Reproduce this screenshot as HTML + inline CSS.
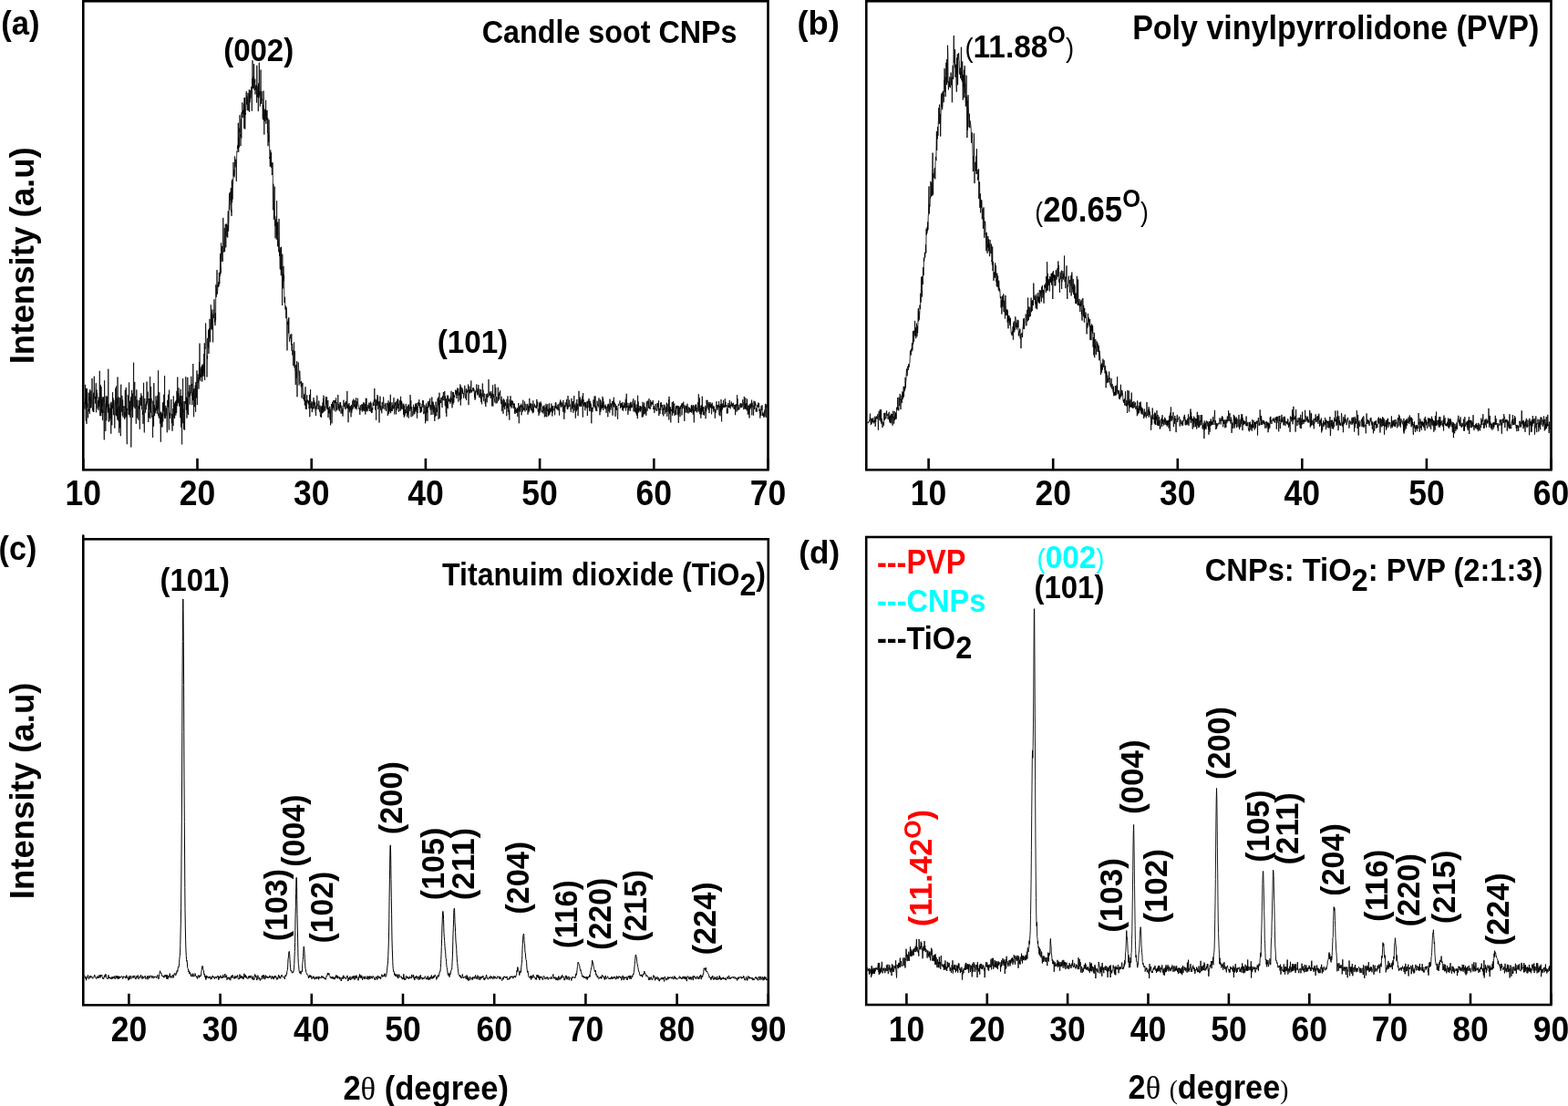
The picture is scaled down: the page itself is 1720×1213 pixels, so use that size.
<!DOCTYPE html><html><head><meta charset="utf-8"><title>XRD patterns</title><style>html,body{margin:0;padding:0;background:#fff;overflow:hidden}svg{display:block}</style></head><body><svg width="1720" height="1213" viewBox="0 0 1720 1213"><rect x="0" y="0" width="1720" height="1213" fill="#fff"/>
<rect x="91.3" y="1.3" width="751.2" height="514.0" fill="none" stroke="#000" stroke-width="2.6"/>
<path d="M91.3 515.3V502.8 M216.5 515.3V502.8 M341.7 515.3V502.8 M466.9 515.3V502.8 M592.1 515.3V502.8 M717.3 515.3V502.8 M842.5 515.3V502.8" stroke="#000" stroke-width="2.6" fill="none"/>
<rect x="950.3" y="1.3" width="751.2" height="514.0" fill="none" stroke="#000" stroke-width="2.6"/>
<path d="M1018.6 515.3V502.8 M1155.2 515.3V502.8 M1291.8 515.3V502.8 M1428.3 515.3V502.8 M1564.9 515.3V502.8 M1701.5 515.3V502.8" stroke="#000" stroke-width="2.6" fill="none"/>
<rect x="91.3" y="591.3" width="751.5" height="511.0" fill="none" stroke="#000" stroke-width="2.6"/>
<path d="M141.4 1102.3V1089.8 M241.6 1102.3V1089.8 M341.8 1102.3V1089.8 M442.0 1102.3V1089.8 M542.2 1102.3V1089.8 M642.4 1102.3V1089.8 M742.6 1102.3V1089.8 M842.8 1102.3V1089.8" stroke="#000" stroke-width="2.6" fill="none"/>
<rect x="950.2" y="589.0" width="751.2" height="513.0" fill="none" stroke="#000" stroke-width="2.6"/>
<path d="M994.4 1102.0V1089.5 M1082.8 1102.0V1089.5 M1171.1 1102.0V1089.5 M1259.5 1102.0V1089.5 M1347.9 1102.0V1089.5 M1436.3 1102.0V1089.5 M1524.6 1102.0V1089.5 M1613.0 1102.0V1089.5 M1701.4 1102.0V1089.5" stroke="#000" stroke-width="2.6" fill="none"/>
<path d="M91.3 591.3V587.6" stroke="#000" stroke-width="2.6" stroke-linecap="round"/>
<path d="M92.8 441.3 93 448.6 93.3 438.7 93.6 421.9 93.8 443.3 94 435.9 94.3 461.6 94.6 426.3 94.8 428.8 95 464.9 95.3 425.9 95.6 447 95.8 430.5 96 442 96.3 442.5 96.6 458.3 96.8 448.9 97 449.6 97.3 451.2 97.6 430.7 97.8 439.5 98 435.4 98.3 453.9 98.6 428.7 98.8 427.1 99 433.6 99.3 434.2 99.6 447.5 99.8 428.7 100 447.2 100.3 443.4 100.6 435.9 100.8 427.9 101 415 101.3 431.2 101.6 446.2 101.8 450.3 102 446.9 102.3 451.7 102.6 430.8 102.8 452 103 444 103.3 412.7 103.6 434.4 103.8 437.2 104 437.5 104.3 434.8 104.6 436.6 104.8 442.7 105 426.6 105.3 420.2 105.6 452.3 105.8 438.2 106 427.3 106.3 436.3 106.6 430.9 106.8 435.6 107 448.2 107.3 439.5 107.6 439.3 107.8 447 108 449.9 108.3 435.7 108.6 446.2 108.8 439.8 109 441.6 109.3 406.8 109.6 444.8 109.8 456 110 447.3 110.3 422.2 110.6 435.2 110.8 456.3 111 424 111.3 439 111.6 452.8 111.8 438 112 445.9 112.3 435.4 112.6 461 112.8 449.4 113 452.8 113.3 445.8 113.6 435.4 113.8 440.2 114 459.4 114.3 482.3 114.6 417.3 114.8 433.2 115 441.3 115.3 442.6 115.6 457.5 115.8 472.9 116 454.9 116.3 434.3 116.6 449.1 116.8 461.3 117 440.3 117.3 446.6 117.6 434.7 117.8 448.8 118 449.6 118.3 452.6 118.6 446.7 118.8 404.7 119 443.1 119.3 462.8 119.6 443.5 119.8 451.7 120 461.8 120.3 448.4 120.6 447.8 120.8 449.4 121 459 121.3 442 121.6 461.5 121.8 475.7 122 440.7 122.3 458.7 122.6 443.9 122.8 466.3 123 448.9 123.3 446 123.6 430.2 123.8 448.1 124 436.3 124.3 440.7 124.6 455.2 124.8 439.5 125 438.8 125.3 453.2 125.6 453.4 125.8 469.6 126 453.1 126.3 442.3 126.6 443.3 126.8 425.7 127 455.2 127.3 443 127.6 423.5 127.8 456.2 128 436.6 128.3 456.2 128.6 448.1 128.8 460.3 129 413.5 129.3 442.5 129.6 435.7 129.8 461.5 130 435.5 130.3 451.5 130.6 474.6 130.8 445.6 131 445.6 131.3 469.4 131.6 436.1 131.8 439.3 132 458.2 132.3 478.2 132.6 427.2 132.8 421.7 133 450.4 133.3 451.9 133.6 445.1 133.8 433.9 134 436.4 134.3 455.8 134.6 438.5 134.8 444.3 135 457.7 135.3 451.2 135.6 448.5 135.8 445.4 136 446.6 136.3 445.8 136.6 459.8 136.8 452 137 458.8 137.3 427.7 137.6 448.2 137.8 446.1 138 457.3 138.3 425 138.6 456.5 138.8 448.5 139 472.5 139.3 487.2 139.6 448.1 139.8 449.9 140 433.2 140.3 434.6 140.6 436.8 140.8 443.5 141 455.1 141.3 454.9 141.6 419.5 141.8 455.2 142 445.4 142.3 452.2 142.6 439.7 142.8 457.7 143 450 143.3 444.6 143.6 435.3 143.8 490.5 144 466.4 144.3 458.1 144.6 427.9 144.8 445.5 145 449.5 145.3 431.6 145.6 458 145.8 441.7 146 435.9 146.3 429.8 146.6 397.7 146.8 443.5 147 446.4 147.3 436.9 147.6 426.1 147.8 418.9 148 448.1 148.3 434.5 148.6 439.3 148.8 448.2 149 449.5 149.3 464.7 149.6 437.6 149.8 427.4 150 434.2 150.3 445.9 150.6 438.7 150.8 458.6 151 445.2 151.3 447.2 151.6 457.6 151.8 460.6 152 446.8 152.3 439.1 152.6 448.5 152.8 444.4 153 449.2 153.3 470.7 153.6 445.8 153.8 436.2 154 442.4 154.3 444.7 154.6 439.2 154.8 431.3 155 444.2 155.3 434.8 155.6 449.3 155.8 434.1 156 436.6 156.3 455.1 156.6 450.1 156.8 452.4 157 464.8 157.3 451.4 157.6 419.8 157.8 455.1 158 461 158.3 474.4 158.6 450.8 158.8 436.9 159 447.7 159.3 449.1 159.6 452.7 159.8 447.7 160 442.9 160.3 449.1 160.6 440.4 160.8 444.8 161 418.6 161.3 442.4 161.6 437.8 161.8 438.7 162 439 162.3 429.6 162.6 458.4 162.8 463 163 452.5 163.3 458.2 163.6 437 163.8 443.3 164 446.5 164.3 449.8 164.6 413 164.8 459.1 165 431.8 165.3 452.7 165.6 424 165.8 442.5 166 437.2 166.3 449.7 166.6 456 166.8 457.6 167 455.6 167.3 456.7 167.6 479.9 167.8 439.6 168 447.8 168.3 454.3 168.6 467.6 168.8 420.1 169 451.7 169.3 444 169.6 456.2 169.8 448.7 170 450.8 170.3 447.4 170.6 453.2 170.8 449.8 171 434.5 171.3 446.8 171.6 445.7 171.8 450.2 172 439.2 172.3 453.9 172.6 443.2 172.8 433.7 173 435.7 173.3 448.5 173.6 406.3 173.8 456.1 174 453.3 174.3 458.5 174.6 433.2 174.8 430.3 175 434.5 175.3 455.4 175.6 464.4 175.8 459.3 176 452.6 176.3 484.7 176.6 451.6 176.8 456.1 177 468.4 177.3 455 177.6 463.9 177.8 453.1 178 468.5 178.3 447.7 178.6 441.6 178.8 462.4 179 452.4 179.3 440.7 179.6 450.8 179.8 432.7 180 442.1 180.3 456.7 180.6 412.1 180.8 459.1 181 455.4 181.3 456.2 181.6 458.6 181.8 444.9 182 455.8 182.3 447.5 182.6 447.3 182.8 452.1 183 460.1 183.3 474.3 183.6 441 183.8 438.8 184 442.4 184.3 446.4 184.6 432.7 184.8 440.9 185 457.3 185.3 471.5 185.6 427.7 185.8 450.3 186 454.6 186.3 453.2 186.6 459 186.8 455.4 187 455.8 187.3 450.6 187.6 450.6 187.8 438 188 453.4 188.3 464.2 188.6 453.9 188.8 455.4 189 472.7 189.3 457.7 189.6 455.2 189.8 448 190 467.1 190.3 434.4 190.6 447.6 190.8 441.6 191 458.2 191.3 443.3 191.6 458.9 191.8 449.6 192 441.7 192.3 453 192.6 440.1 192.8 455.6 193 443 193.3 438.8 193.6 452.9 193.8 448 194 428.8 194.3 445.4 194.6 424 194.8 413.6 195 442.3 195.3 439.6 195.6 431.2 195.8 441.7 196 425.3 196.3 444.4 196.6 442.6 196.8 445.8 197 436.6 197.3 441.8 197.6 433.9 197.8 458.3 198 433.6 198.3 426.8 198.6 468.6 198.8 441.3 199 444.4 199.3 434.2 199.6 487.4 199.8 443.5 200 442.8 200.3 464.2 200.6 415.1 200.8 452.4 201 448.5 201.3 455.2 201.6 470.9 201.8 449.2 202 440 202.3 449 202.6 471.6 202.8 445.2 203 440.1 203.3 440.9 203.6 442.8 203.8 413.2 204 429.3 204.3 449.6 204.6 435.7 204.8 444.9 205 458.6 205.3 436.8 205.6 453.2 205.8 413.9 206 432.1 206.3 435.5 206.6 455.1 206.8 429.5 207 429.4 207.3 435.4 207.6 423.5 207.8 422.3 208 429.5 208.3 443.7 208.6 430.6 208.8 434 209 425.4 209.3 422 209.6 431.2 209.8 412.8 210 421.5 210.3 422.7 210.6 421.2 210.8 444.2 211 431.1 211.3 430.3 211.6 439.1 211.8 399 212 437.3 212.3 427.3 212.6 457.2 212.8 429 213 426 213.3 426.1 213.6 440.7 213.8 446.3 214 427.2 214.3 422.5 214.6 451.8 214.8 419 215 421.5 215.3 435.9 215.6 436.4 215.8 415.6 216 406.3 216.3 444.1 216.6 422.9 216.8 421 217 410.4 217.3 420 217.6 414.5 217.8 416.9 218 426.6 218.3 407.7 218.6 396.9 218.8 416 219 376.6 219.3 415.3 219.6 410.7 219.8 417.8 220 403.9 220.3 410 220.6 413.8 220.8 404.8 221 401.9 221.3 411.5 221.6 400.2 221.8 418.5 222 402.7 222.3 402.2 222.6 413 222.8 399.4 223 410.1 223.3 407.5 223.6 396.3 223.8 388 224 412.7 224.3 376.3 224.6 416.9 224.8 383.3 225 381.3 225.3 382.4 225.6 354.4 225.8 361.6 226 370.2 226.3 374.9 226.6 376.5 226.8 380.1 227 413.5 227.3 390.3 227.6 393.5 227.8 370.8 228 376.9 228.3 381.5 228.6 361.6 228.8 385.6 229 387.9 229.3 378.9 229.6 359.9 229.8 370.7 230 349.9 230.3 358.5 230.6 375.2 230.8 364.9 231 361.7 231.3 334.3 231.6 343 231.8 361 232 342.8 232.3 361.5 232.6 350.1 232.8 340 233 339.4 233.3 355.6 233.6 375.4 233.8 345.8 234 344.6 234.3 349.1 234.6 340.5 234.8 340.9 235 328.3 235.3 337.8 235.6 353.6 235.8 350.2 236 357 236.3 343.2 236.6 351.3 236.8 312.2 237 319.1 237.3 325.7 237.6 314.3 237.8 314.1 238 296.1 238.3 322.7 238.6 319.5 238.8 318.1 239 312 239.3 315 239.6 311 239.8 309 240 314 240.3 298.9 240.6 304.1 240.8 311.6 241 300.8 241.3 303 241.6 278 241.8 300.8 242 293.6 242.3 299.3 242.6 266.4 242.8 283 243 287.1 243.3 279.9 243.6 276.2 243.8 270 244 279.8 244.3 286.7 244.6 258.1 244.8 238.9 245 262.5 245.3 276.5 245.6 276 245.8 273.2 246 263.7 246.3 250 246.6 276.2 246.8 256.8 247 249.8 247.3 245.8 247.6 259.6 247.8 271.4 248 257.4 248.3 245.4 248.6 248.3 248.8 259.6 249 253.4 249.3 246.7 249.6 259.5 249.8 260.6 250 237.3 250.3 231.4 250.6 253.6 250.8 245.7 251 241.9 251.3 225.1 251.6 211.7 251.8 230.3 252 225.9 252.3 224.5 252.6 222.9 252.8 210.4 253 219.9 253.3 206.1 253.6 232.4 253.8 229.8 254 236.9 254.3 198.5 254.6 222.2 254.8 196.6 255 218.7 255.3 202.7 255.6 202.9 255.8 199.2 256 178 256.3 192.8 256.6 187.1 256.8 185.9 257 194.4 257.3 191 257.6 171.5 257.8 180.6 258 183.4 258.3 181.3 258.6 177.5 258.8 174.7 259 182.6 259.3 198.9 259.6 174.8 259.8 166.2 260 166.9 260.3 164.6 260.6 159.3 260.8 159.5 261 162.8 261.3 134.8 261.6 166.9 261.8 166.5 262 150.4 262.3 161.8 262.6 140.6 262.8 145.2 263 126.2 263.3 146.5 263.6 149.6 263.8 147.5 264 160.2 264.3 137.6 264.6 130.4 264.8 151.7 265 123.4 265.3 129.5 265.6 125.7 265.8 112.4 266 116.7 266.3 124.6 266.6 121.2 266.8 128.8 267 129.1 267.3 128.8 267.6 113.7 267.8 140.8 268 107.1 268.3 129 268.6 107 268.8 141.6 269 124 269.3 125.8 269.6 118.7 269.8 112.7 270 102.1 270.3 100.2 270.6 114.5 270.8 105.7 271 113 271.3 121.1 271.6 107.2 271.8 107.2 272 101.9 272.3 121.4 272.6 118.7 272.8 106.4 273 104.1 273.3 98.3 273.6 122.8 273.8 102.9 274 112.3 274.3 107.5 274.6 98.9 274.8 107.8 275 105.9 275.3 102.2 275.6 101.5 275.8 95 276 96.7 276.3 121.7 276.6 86 276.8 94.6 277 66.2 277.3 97.2 277.6 94 277.8 83.9 278 94.4 278.3 96.5 278.6 70 278.8 87.9 279 98.8 279.3 89.1 279.6 90.3 279.8 86.6 280 103.5 280.3 95.3 280.6 98.2 280.8 94 281 93 281.3 96.5 281.6 112.7 281.8 71.8 282 93.8 282.3 104.8 282.6 106.7 282.8 99.2 283 94.4 283.3 122.1 283.6 91.2 283.8 104.3 284 107.1 284.3 68.7 284.6 91.6 284.8 104.9 285 99.9 285.3 116.7 285.6 111.1 285.8 110.2 286 76.5 286.3 104.9 286.6 112.8 286.8 114 287 100.2 287.3 108.6 287.6 110.1 287.8 108.7 288 119.4 288.3 130.4 288.6 115.5 288.8 131.5 289 99.6 289.3 110.5 289.6 125.8 289.8 147.6 290 125.4 290.3 133 290.6 120.4 290.8 131.3 291 119.6 291.3 126.3 291.6 109.8 291.8 135.7 292 121.2 292.3 128.3 292.6 131.6 292.8 128.5 293 120.8 293.3 135.4 293.6 145.8 293.8 129.5 294 160.2 294.3 146.2 294.6 156 294.8 137.4 295 131.4 295.3 143.2 295.6 156.7 295.8 174.1 296 172.1 296.3 182.9 296.6 168.5 296.8 164.5 297 182 297.3 181.4 297.6 167.3 297.8 184 298 178.6 298.3 191.9 298.6 190.4 298.8 191.3 299 178.2 299.3 195.4 299.6 230.3 299.8 201.6 300 203.3 300.3 240.7 300.6 233.2 300.8 229.5 301 212.9 301.3 204.7 301.6 247.9 301.8 237.1 302 261.2 302.3 242.9 302.6 240.6 302.8 246.4 303 245.4 303.3 262.7 303.6 220.2 303.8 258.1 304 244.6 304.3 263.7 304.6 270.3 304.8 243.4 305 260 305.3 262.8 305.6 269.5 305.8 276.3 306 239.9 306.3 257.1 306.6 280.9 306.8 273.9 307 290.7 307.3 295.4 307.6 286.2 307.8 271.4 308 290.3 308.3 302.2 308.6 270.7 308.8 296.2 309 292.5 309.3 299.8 309.6 335 309.8 278.7 310 297.9 310.3 316.4 310.6 299.7 310.8 307 311 291.9 311.3 308.2 311.6 301.9 311.8 324.9 312 332.2 312.3 327.6 312.6 325.7 312.8 338 313 339.5 313.3 338.4 313.6 335.5 313.8 349.1 314 337 314.3 339.9 314.6 345.6 314.8 369.8 315 384.4 315.3 354.1 315.6 355.8 315.8 352.3 316 355.3 316.3 349.5 316.6 365.4 316.8 348.1 317 368.2 317.3 370.3 317.6 374.6 317.8 370.3 318 369.8 318.3 370.8 318.6 369 318.8 366.8 319 369.7 319.3 373.5 319.6 378.4 319.8 366.1 320 384.7 320.3 382.2 320.6 377 320.8 389.5 321 388 321.3 384.1 321.6 401.1 321.8 399.9 322 387.9 322.3 377.7 322.6 375.4 322.8 395.7 323 403.3 323.3 384.9 323.6 406.2 323.8 406 324 417.1 324.3 422.1 324.6 412.1 324.8 400.1 325 414.6 325.3 406.6 325.6 396 325.8 424.8 326 435.3 326.3 408.7 326.6 408.8 326.8 408.3 327 397.6 327.3 397.3 327.6 403.3 327.8 413.4 328 422.5 328.3 421.7 328.6 406.7 328.8 406.8 329 408.9 329.3 419.2 329.6 420.4 329.8 419.7 330 419 330.3 424.4 330.6 418 330.8 420.2 331 436.6 331.3 420.9 331.6 423.2 331.8 421.1 332 419.9 332.3 427.1 332.6 428.2 332.8 438 333 437.4 333.3 435.5 333.6 433.5 333.8 439.8 334 431.9 334.3 444.6 334.6 438.8 334.8 435.7 335 424.3 335.3 448.7 335.6 439.4 335.8 441.8 336 448.3 336.3 449.1 336.6 436.3 336.8 433.3 337 441.7 337.3 438.7 337.6 440.1 337.8 439.1 338 440.7 338.3 443.5 338.6 439.7 338.8 442.4 339 448.2 339.3 445.7 339.6 432.9 339.8 457.2 340 438.6 340.3 440.1 340.6 427.2 340.8 442.3 341 447.9 341.3 442 341.6 447.1 341.8 443.1 342 440.2 342.3 452.1 342.6 446.9 342.8 449.4 343 443.3 343.3 441.3 343.6 448.1 343.8 444.2 344 436.1 344.3 444.1 344.6 439.2 344.8 442.7 345 448.4 345.3 441.4 345.6 445.7 345.8 447.6 346 451.1 346.3 454.9 346.6 456 346.8 445.4 347 449.2 347.3 440.4 347.6 446.3 347.8 433.7 348 442.4 348.3 442.7 348.6 445.2 348.8 445.5 349 449.1 349.3 449.1 349.6 448 349.8 439.6 350 448.3 350.3 449 350.6 451.6 350.8 449.5 351 444.5 351.3 454.7 351.6 457.2 351.8 454.3 352 446 352.3 446.4 352.6 457.9 352.8 448.8 353 445.2 353.3 453.3 353.6 445.2 353.8 450.5 354 441.5 354.3 452.6 354.6 437.3 354.8 449.3 355 433.6 355.3 451.5 355.6 448.4 355.8 447.7 356 447.1 356.3 445.5 356.6 448 356.8 450.6 357 446.1 357.3 435.2 357.6 443.4 357.8 438.5 358 445.2 358.3 447.4 358.6 435.4 358.8 443.2 359 449.2 359.3 446.9 359.6 448.8 359.8 439 360 457.9 360.3 447.1 360.6 453.1 360.8 450.5 361 451.1 361.3 453.4 361.6 445.7 361.8 446 362 460.3 362.3 449.3 362.6 466.3 362.8 455.3 363 447.3 363.3 446.6 363.6 443.1 363.8 445 364 464.3 364.3 451 364.6 440.8 364.8 449.7 365 443.5 365.3 447.3 365.6 447.1 365.8 439.3 366 440.4 366.3 439.5 366.6 450.3 366.8 439.2 367 440.8 367.3 439.1 367.6 441.6 367.8 442 368 440.3 368.3 451.5 368.6 436.4 368.8 442.6 369 441 369.3 450 369.6 447.6 369.8 447.4 370 442.8 370.3 442.9 370.6 443.3 370.8 433 371 449.5 371.3 443.1 371.6 448.2 371.8 445.7 372 446.2 372.3 451.2 372.6 443.7 372.8 443.2 373 441.2 373.3 447.4 373.6 441.1 373.8 446.3 374 453.5 374.3 449.3 374.6 448.5 374.8 444.7 375 446.8 375.3 453.9 375.6 449 375.8 448.4 376 456.6 376.3 452.3 376.6 446.9 376.8 439.2 377 438.7 377.3 443.6 377.6 445.9 377.8 443.4 378 442.4 378.3 447.7 378.6 446.1 378.8 441.6 379 449.2 379.3 441.4 379.6 440.1 379.8 442.8 380 441.2 380.3 444.6 380.6 447.7 380.8 428.9 381 444.9 381.3 445.7 381.6 448.2 381.8 443.4 382 463.2 382.3 444.1 382.6 448.7 382.8 444.5 383 442.2 383.3 452.2 383.6 448.1 383.8 445.7 384 449.2 384.3 445.2 384.6 451.1 384.8 451.5 385 457.4 385.3 451.4 385.6 443.9 385.8 452.7 386 448.6 386.3 449.4 386.6 445 386.8 439.4 387 444.8 387.3 448.4 387.6 439.4 387.8 437.6 388 438.9 388.3 441 388.6 446.3 388.8 438.9 389 440.8 389.3 439.7 389.6 448.4 389.8 444.5 390 447.7 390.3 438.5 390.6 436.4 390.8 447.1 391 443 391.3 449.3 391.6 440.3 391.8 445.7 392 442 392.3 436.7 392.6 440.4 392.8 442.8 393 443.8 393.3 445.5 393.6 448 393.8 448.9 394 447.8 394.3 447.4 394.6 451.1 394.8 454.9 395 447 395.3 444.4 395.6 447.4 395.8 450.1 396 450.1 396.3 444.2 396.6 443.6 396.8 445.2 397 447.3 397.3 451.6 397.6 443.3 397.8 448.9 398 446.9 398.3 450 398.6 441.4 398.8 447.4 399 451.1 399.3 448.9 399.6 445.3 399.8 441.7 400 450.8 400.3 443.3 400.6 444.6 400.8 454.5 401 448.5 401.3 436.7 401.6 443.9 401.8 451.2 402 437 402.3 445.3 402.6 449.9 402.8 446.2 403 451.3 403.3 445.7 403.6 445.2 403.8 444 404 444.5 404.3 448.2 404.6 444.1 404.8 441.6 405 446.1 405.3 450.9 405.6 444.7 405.8 447.1 406 441.9 406.3 443.7 406.6 440.5 406.8 451.5 407 442.1 407.3 445.8 407.6 452.9 407.8 448.1 408 452.8 408.3 447.6 408.6 447.2 408.8 449.5 409 444 409.3 440.8 409.6 445 409.8 442.8 410 444.9 410.3 438.5 410.6 440.9 410.8 426 411 437.1 411.3 438.8 411.6 449.5 411.8 445.6 412 437.7 412.3 440.2 412.6 460.7 412.8 445.6 413 438.7 413.3 441.4 413.6 441.2 413.8 445.1 414 433 414.3 443.5 414.6 434.9 414.8 448.9 415 445.9 415.3 443.1 415.6 442.8 415.8 440.4 416 463.5 416.3 440.1 416.6 447 416.8 443.9 417 434.6 417.3 449.5 417.6 449.4 417.8 445 418 445.5 418.3 450.8 418.6 448.7 418.8 453.3 419 443.2 419.3 440.9 419.6 444.6 419.8 448.5 420 446.5 420.3 447.8 420.6 435.4 420.8 438.1 421 445.3 421.3 444.8 421.6 444.9 421.8 444.4 422 449.4 422.3 446.4 422.6 442.3 422.8 442 423 442.7 423.3 445.7 423.6 450.9 423.8 449 424 444.6 424.3 443.6 424.6 441.9 424.8 443.1 425 442.6 425.3 456 425.6 442.9 425.8 446.8 426 439.4 426.3 443.6 426.6 454.1 426.8 451.5 427 441.8 427.3 450.3 427.6 441.1 427.8 451.4 428 447.3 428.3 432.8 428.6 453.1 428.8 449 429 448.2 429.3 450.9 429.6 445.7 429.8 444.3 430 441.3 430.3 451 430.6 444.2 430.8 446.6 431 446.1 431.3 448.5 431.6 445.8 431.8 442 432 436.2 432.3 447.3 432.6 444.4 432.8 454.5 433 446.1 433.3 441.6 433.6 444.2 433.8 441.6 434 448.3 434.3 449.9 434.6 454.3 434.8 440 435 450 435.3 447.3 435.6 447.6 435.8 445.3 436 437.8 436.3 447.9 436.6 437.5 436.8 445.2 437 442.7 437.3 451.7 437.6 447 437.8 443.3 438 442.1 438.3 438.8 438.6 444.2 438.8 444.7 439 451 439.3 445 439.6 434.8 439.8 449.5 440 441 440.3 448.4 440.6 439.7 440.8 443.3 441 442.3 441.3 442.8 441.6 444.5 441.8 448.9 442 445.7 442.3 444.3 442.6 455 442.8 442.7 443 449.3 443.3 457.7 443.6 444.7 443.8 450.8 444 456.3 444.3 452 444.6 454.1 444.8 449.2 445 452.8 445.3 442.9 445.6 451.1 445.8 451.3 446 453 446.3 451.3 446.6 457.2 446.8 445.7 447 449.4 447.3 454.5 447.6 444.3 447.8 454.1 448 457.5 448.3 458.5 448.6 444.4 448.8 443.5 449 447.4 449.3 446.7 449.6 450.8 449.8 450.1 450 433.1 450.3 442.1 450.6 448.4 450.8 439.3 451 457.3 451.3 447 451.6 447.9 451.8 446.2 452 450.9 452.3 451.4 452.6 452.3 452.8 456.4 453 451 453.3 451.4 453.6 443.8 453.8 447.6 454 454.5 454.3 448.7 454.6 446.4 454.8 454 455 448.8 455.3 446.9 455.6 450.6 455.8 442.6 456 451.7 456.3 443.7 456.6 447.7 456.8 449.5 457 441.9 457.3 457.1 457.6 458.7 457.8 445.8 458 453.1 458.3 443.4 458.6 442.1 458.8 442.7 459 440.9 459.3 445.1 459.6 440.4 459.8 438.2 460 446.2 460.3 447.3 460.6 448 460.8 441.8 461 452.8 461.3 446.1 461.6 452.2 461.8 446 462 447.8 462.3 446.7 462.6 451.5 462.8 443.4 463 444 463.3 443.9 463.6 439.2 463.8 446.8 464 445.6 464.3 439.2 464.6 441.3 464.8 454.2 465 451.7 465.3 453.1 465.6 449.4 465.8 444.1 466 450.7 466.3 451.5 466.6 464.3 466.8 454.3 467 445.8 467.3 461.7 467.6 442.5 467.8 451 468 452.9 468.3 445.9 468.6 452.3 468.8 449.2 469 461.8 469.3 440.4 469.6 447.8 469.8 442.8 470 442.4 470.3 444.8 470.6 445.2 470.8 439.6 471 446.6 471.3 441.8 471.6 438.8 471.8 436.8 472 449.6 472.3 444 472.6 444.5 472.8 447.1 473 455.1 473.3 448.5 473.6 444.3 473.8 435.5 474 449.4 474.3 440.6 474.6 445.4 474.8 448.1 475 454.7 475.3 440.8 475.6 448.8 475.8 452.1 476 444.4 476.3 444.4 476.6 449.7 476.8 461.8 477 446.7 477.3 454 477.6 457.1 477.8 451 478 440.6 478.3 445.4 478.6 450.6 478.8 456 479 447.9 479.3 452 479.6 443.6 479.8 443.1 480 437.3 480.3 439.7 480.6 444.1 480.8 435.5 481 459.9 481.3 436.9 481.6 447.5 481.8 438.9 482 430.7 482.3 458.7 482.6 439.1 482.8 440.3 483 439.1 483.3 438.9 483.6 442.1 483.8 436.7 484 437.9 484.3 435.9 484.6 435.8 484.8 444.3 485 447 485.3 437.2 485.6 434.3 485.8 439.1 486 438.9 486.3 430 486.6 430.9 486.8 436.3 487 439.3 487.3 437.4 487.6 435.1 487.8 429 488 440 488.3 445.3 488.6 434.4 488.8 438.3 489 443.9 489.3 453.1 489.6 437.3 489.8 456.9 490 440.1 490.3 443.6 490.6 447.2 490.8 433.5 491 441.1 491.3 448.2 491.6 433.8 491.8 438.6 492 438 492.3 439.5 492.6 439.1 492.8 440.5 493 437 493.3 439.8 493.6 439.1 493.8 442.8 494 438.9 494.3 435.3 494.6 441.1 494.8 433.6 495 428.8 495.3 438.5 495.6 437.4 495.8 441.1 496 447.3 496.3 437.9 496.6 442 496.8 430 497 443.5 497.3 430.2 497.6 433.6 497.8 441.5 498 434.2 498.3 433.4 498.6 436 498.8 433.3 499 433 499.3 432.8 499.6 427.7 499.8 427.6 500 432.4 500.3 432.2 500.6 428.6 500.8 437.1 501 430.2 501.3 427.6 501.6 433.6 501.8 425.4 502 430.8 502.3 426.1 502.6 428 502.8 440.6 503 432.5 503.3 430.5 503.6 433.4 503.8 432.6 504 433.1 504.3 425.7 504.6 439.1 504.8 421.5 505 432.9 505.3 444.6 505.6 423.5 505.8 432.9 506 437.6 506.3 429.5 506.6 430 506.8 425 507 430.7 507.3 431.8 507.6 426.8 507.8 430.8 508 431.8 508.3 431 508.6 436.6 508.8 432.9 509 433.3 509.3 429.2 509.6 429.7 509.8 422.8 510 432.8 510.3 434.9 510.6 437.1 510.8 434.2 511 430.9 511.3 426.1 511.6 439 511.8 434 512 428.3 512.3 427.7 512.6 430.5 512.8 428.5 513 429.9 513.3 426.8 513.6 421.6 513.8 428.7 514 444.2 514.3 430.2 514.6 427.6 514.8 428.8 515 423.6 515.3 431.4 515.6 428.3 515.8 431 516 427.1 516.3 429.4 516.6 424.8 516.8 417.5 517 426.8 517.3 430.6 517.6 428.1 517.8 429.3 518 429.4 518.3 427.1 518.6 425.9 518.8 425.5 519 428.3 519.3 425.1 519.6 427.9 519.8 429.2 520 426.8 520.3 431.2 520.6 435.8 520.8 430.8 521 438.6 521.3 428.7 521.6 437.5 521.8 429.1 522 430.5 522.3 429 522.6 422.9 522.8 421.5 523 429.7 523.3 429.6 523.6 428.4 523.8 433.4 524 426.2 524.3 432.5 524.6 429.5 524.8 422.1 525 431.8 525.3 434 525.6 435.8 525.8 435 526 426.7 526.3 428.2 526.6 434.1 526.8 431.8 527 436.7 527.3 427 527.6 440.3 527.8 440.9 528 431.6 528.3 438.3 528.6 443.3 528.8 433.1 529 430.1 529.3 420.5 529.6 429 529.8 435.2 530 427.7 530.3 435.1 530.6 439.4 530.8 440.2 531 431.8 531.3 432.4 531.6 431.8 531.8 437.6 532 439.1 532.3 443.1 532.6 437.5 532.8 446.1 533 439.3 533.3 432.3 533.6 436.6 533.8 438.2 534 441.1 534.3 441.3 534.6 431.6 534.8 434.9 535 435.5 535.3 434.2 535.6 435.5 535.8 435.3 536 416.1 536.3 434.1 536.6 433.5 536.8 432.6 537 429.6 537.3 433.8 537.6 431 537.8 431.3 538 433.5 538.3 437.1 538.6 433.2 538.8 429 539 435.4 539.3 431.6 539.6 445.4 539.8 437.5 540 438.3 540.3 435.1 540.6 422.3 540.8 445.6 541 433.2 541.3 432.2 541.6 435.8 541.8 434.6 542 436.5 542.3 437.5 542.6 439.3 542.8 441.3 543 421.3 543.3 434.5 543.6 433.2 543.8 425.2 544 442.5 544.3 437.9 544.6 435 544.8 439.7 545 441.3 545.3 442.2 545.6 439.7 545.8 436.4 546 436.9 546.3 424.8 546.6 439.8 546.8 432.3 547 437.9 547.3 438 547.6 435.6 547.8 430.5 548 430.2 548.3 433.6 548.6 428.2 548.8 434.9 549 438.8 549.3 438.4 549.6 440.3 549.8 443.1 550 434.7 550.3 441.4 550.6 451.1 550.8 443.6 551 438.6 551.3 440 551.6 445.9 551.8 447.8 552 453.8 552.3 437.3 552.6 446.6 552.8 445 553 444 553.3 438.6 553.6 448.3 553.8 449.1 554 442.7 554.3 445.1 554.6 441.1 554.8 443.8 555 442.8 555.3 443.6 555.6 448.6 555.8 456.3 556 437.8 556.3 442.9 556.6 447.3 556.8 447.8 557 434.4 557.3 451.7 557.6 446.1 557.8 442.3 558 447.9 558.3 454.7 558.6 450.1 558.8 460.6 559 440.1 559.3 438.2 559.6 445.5 559.8 439.5 560 434.2 560.3 445.8 560.6 439.9 560.8 440.1 561 447.2 561.3 447.8 561.6 438.9 561.8 443.2 562 444.1 562.3 442.9 562.6 439.9 562.8 444.9 563 446.4 563.3 447.7 563.6 444.8 563.8 442.1 564 448.3 564.3 442.9 564.6 453.3 564.8 449.1 565 454 565.3 452.4 565.6 446.7 565.8 447.9 566 451.5 566.3 450 566.6 448.7 566.8 452.8 567 449.3 567.3 452.7 567.6 447.2 567.8 457 568 448.5 568.3 451.3 568.6 448.3 568.8 442 569 446.5 569.3 464.3 569.6 446.3 569.8 446.5 570 449.2 570.3 445.2 570.6 451.4 570.8 444.5 571 446.7 571.3 444.8 571.6 446 571.8 442.7 572 455.3 572.3 450.6 572.6 445 572.8 444.5 573 449.4 573.3 451.7 573.6 442.7 573.8 438.7 574 444.6 574.3 450 574.6 447.5 574.8 447.1 575 449.6 575.3 444.6 575.6 440.4 575.8 449.7 576 451.5 576.3 447.3 576.6 446.4 576.8 443.6 577 442.9 577.3 446.3 577.6 450.1 577.8 447.8 578 448.1 578.3 446.4 578.6 444.1 578.8 442.8 579 454.7 579.3 444.7 579.6 449.4 579.8 448.3 580 452.3 580.3 446.1 580.6 450.5 580.8 436.9 581 446 581.3 447.5 581.6 442.8 581.8 443.8 582 447.3 582.3 449.9 582.6 442.1 582.8 446.8 583 447.2 583.3 448.8 583.6 451.1 583.8 451.3 584 443.1 584.3 453.2 584.6 448.2 584.8 439.3 585 445.5 585.3 452.4 585.6 446.1 585.8 445.7 586 445 586.3 442.8 586.6 446.4 586.8 444.5 587 446.6 587.3 446.8 587.6 445.9 587.8 445.7 588 447.8 588.3 444.7 588.6 448 588.8 437.9 589 444.3 589.3 445.7 589.6 440.7 589.8 440.5 590 450.2 590.3 451.9 590.6 451.7 590.8 448.3 591 455.8 591.3 446.6 591.6 441.5 591.8 448.5 592 453.3 592.3 443.5 592.6 442.5 592.8 450.5 593 440.4 593.3 443.5 593.6 445.5 593.8 442.5 594 451.3 594.3 452.2 594.6 452 594.8 450.1 595 452.2 595.3 446.3 595.6 447.7 595.8 445.3 596 453.6 596.3 448.8 596.6 446.1 596.8 450.6 597 444.4 597.3 457.4 597.6 454.4 597.8 449.6 598 446.8 598.3 447 598.6 448.6 598.8 456.8 599 442.8 599.3 448.4 599.6 445.4 599.8 457.4 600 448.4 600.3 450.2 600.6 450.7 600.8 443.2 601 446.8 601.3 451 601.6 456.3 601.8 448.8 602 453.9 602.3 451.8 602.6 442.3 602.8 455.2 603 447.7 603.3 449.2 603.6 452.6 603.8 447.8 604 448.1 604.3 447.9 604.6 451.4 604.8 442.6 605 443.1 605.3 449.9 605.6 445.5 605.8 456.5 606 449 606.3 452.6 606.6 445 606.8 450.6 607 450 607.3 448.7 607.6 449.2 607.8 449.4 608 448.4 608.3 445.2 608.6 455.3 608.8 448.3 609 447 609.3 441.5 609.6 447.4 609.8 441.4 610 445.7 610.3 447.2 610.6 445.7 610.8 448.5 611 447.1 611.3 449.3 611.6 445.5 611.8 443.8 612 446.1 612.3 450.2 612.6 448.7 612.8 443.2 613 446 613.3 447.7 613.6 455.6 613.8 447.5 614 441.3 614.3 444.2 614.6 441.2 614.8 438.5 615 445.1 615.3 446.5 615.6 440.6 615.8 444.7 616 446.3 616.3 445.8 616.6 443 616.8 441.6 617 442.3 617.3 445.6 617.6 451.7 617.8 438.9 618 440.1 618.3 447.3 618.6 445.4 618.8 459.8 619 444.8 619.3 444.1 619.6 451.5 619.8 452.6 620 443.4 620.3 441.3 620.6 443 620.8 446.4 621 445.6 621.3 444.7 621.6 437.9 621.8 444 622 442.7 622.3 448.8 622.6 444.2 622.8 449 623 434.1 623.3 446.7 623.6 446.9 623.8 445.2 624 445.4 624.3 444.5 624.6 438.6 624.8 441.7 625 446.1 625.3 443.6 625.6 444.4 625.8 448.4 626 447.8 626.3 452.1 626.6 447.9 626.8 446.6 627 436.9 627.3 442.4 627.6 448.3 627.8 441.9 628 447 628.3 440 628.6 450.3 628.8 452.7 629 445.5 629.3 446.3 629.6 437.3 629.8 434 630 450.5 630.3 448.2 630.6 443.6 630.8 446.4 631 445.4 631.3 458.7 631.6 447.7 631.8 448 632 441.8 632.3 451.1 632.6 444.4 632.8 438 633 444 633.3 449.2 633.6 443.1 633.8 444.9 634 456.2 634.3 451.6 634.6 445.9 634.8 441.1 635 428.8 635.3 444.4 635.6 437.4 635.8 446 636 442.1 636.3 435.5 636.6 445.2 636.8 445.2 637 439.5 637.3 446 637.6 441.8 637.8 445.2 638 437.7 638.3 442.5 638.6 437.9 638.8 434.5 639 440.9 639.3 457.6 639.6 431.1 639.8 440 640 438.1 640.3 439.9 640.6 445.4 640.8 442.8 641 441.5 641.3 443.4 641.6 441.2 641.8 450.2 642 441 642.3 446.2 642.6 441.9 642.8 446.9 643 447.3 643.3 447.6 643.6 447.1 643.8 444.3 644 439.9 644.3 456 644.6 449.4 644.8 440.7 645 447.2 645.3 438.9 645.6 439.7 645.8 441.7 646 437 646.3 439.3 646.6 450.9 646.8 442.2 647 445.9 647.3 439.8 647.6 447.6 647.8 442.2 648 451.1 648.3 443.4 648.6 447.3 648.8 464.3 649 450.6 649.3 451.4 649.6 447 649.8 451.8 650 451.1 650.3 446.7 650.6 447.9 650.8 446.7 651 438.4 651.3 446 651.6 438.9 651.8 442 652 434.5 652.3 435.3 652.6 442.7 652.8 447.4 653 434.4 653.3 449.4 653.6 450.5 653.8 445.3 654 446.2 654.3 448 654.6 449.8 654.8 451.1 655 439.7 655.3 441.9 655.6 444.7 655.8 443.6 656 444.6 656.3 446.4 656.6 446 656.8 437.3 657 436.4 657.3 447.4 657.6 448.8 657.8 449.1 658 455.3 658.3 438 658.6 446.5 658.8 451.9 659 439.4 659.3 443.9 659.6 449.5 659.8 444.3 660 447.7 660.3 447.5 660.6 441.8 660.8 446.6 661 434.9 661.3 447.6 661.6 437.1 661.8 450 662 440.2 662.3 445.6 662.6 446.3 662.8 446.4 663 444.9 663.3 447.2 663.6 448.1 663.8 448 664 443.6 664.3 448.7 664.6 445.3 664.8 446.8 665 452.8 665.3 450.2 665.6 448.2 665.8 446.8 666 445.9 666.3 447.4 666.6 443.5 666.8 457.3 667 445.9 667.3 446.3 667.6 442.8 667.8 451 668 447.7 668.3 448.4 668.6 444.5 668.8 452.7 669 437.7 669.3 443.5 669.6 442.7 669.8 445.9 670 449.5 670.3 442.5 670.6 446.7 670.8 444.5 671 444.2 671.3 444.4 671.6 440 671.8 443.3 672 455.7 672.3 446.6 672.6 443.1 672.8 439.6 673 443.6 673.3 435.7 673.6 446.5 673.8 441.3 674 444 674.3 441.8 674.6 442.9 674.8 448 675 456.8 675.3 443.5 675.6 447.5 675.8 449.4 676 446.8 676.3 445 676.6 449.8 676.8 447.6 677 449.8 677.3 455.9 677.6 459.7 677.8 451.3 678 445.2 678.3 443.3 678.6 444.2 678.8 445 679 444.1 679.3 442.3 679.6 441 679.8 440.6 680 439.4 680.3 441.6 680.6 447.9 680.8 442 681 442.3 681.3 445.2 681.6 446.6 681.8 442.2 682 446.1 682.3 442.6 682.6 449.7 682.8 440.9 683 446.1 683.3 445.1 683.6 450.6 683.8 445.6 684 446.7 684.3 444 684.6 447.7 684.8 441.6 685 443.2 685.3 442.7 685.6 447.2 685.8 446.9 686 443.4 686.3 437.8 686.6 450.4 686.8 437.1 687 434.5 687.3 431.8 687.6 447.2 687.8 443.1 688 441.8 688.3 446.1 688.6 445.3 688.8 454.8 689 452.9 689.3 445.5 689.6 446.8 689.8 450.3 690 442 690.3 447.8 690.6 446.4 690.8 444.6 691 445.9 691.3 450.8 691.6 441.2 691.8 447.5 692 440.8 692.3 445.2 692.6 445.8 692.8 447.3 693 443.5 693.3 446.5 693.6 444.1 693.8 441.2 694 441.1 694.3 439.5 694.6 441.6 694.8 437.2 695 451.3 695.3 441.9 695.6 446.3 695.8 442.7 696 447.8 696.3 451.6 696.6 439.1 696.8 451.5 697 446.9 697.3 449.4 697.6 451.3 697.8 453.7 698 443.4 698.3 447.9 698.6 455.8 698.8 447.5 699 447.9 699.3 459.1 699.6 433.8 699.8 450.4 700 440.4 700.3 442.2 700.6 452.5 700.8 450.4 701 448.4 701.3 450.4 701.6 447 701.8 446.7 702 445 702.3 451.6 702.6 445.2 702.8 450.7 703 449.8 703.3 447.1 703.6 448.4 703.8 445.9 704 453.3 704.3 457.7 704.6 450.6 704.8 448.3 705 440.8 705.3 457.1 705.6 456.7 705.8 444.5 706 446.4 706.3 454.5 706.6 441.7 706.8 443.9 707 453.3 707.3 454.1 707.6 446 707.8 446.5 708 449.3 708.3 452.9 708.6 448.2 708.8 455.8 709 451 709.3 440.3 709.6 446.4 709.8 446.9 710 450.8 710.3 445.8 710.6 439.7 710.8 439.3 711 441.6 711.3 441 711.6 447.6 711.8 439.1 712 437.1 712.3 447.3 712.6 446 712.8 448.5 713 447.4 713.3 448.6 713.6 438.8 713.8 440.2 714 441.5 714.3 445.7 714.6 440.9 714.8 443.1 715 441.8 715.3 443.1 715.6 441.2 715.8 443.7 716 440.3 716.3 439 716.6 445.2 716.8 449.1 717 447.7 717.3 448.7 717.6 445.3 717.8 452.9 718 448.6 718.3 447.6 718.6 449 718.8 447.9 719 443 719.3 448.1 719.6 448.8 719.8 450.3 720 449.8 720.3 450.9 720.6 447.4 720.8 447.3 721 441.9 721.3 446.5 721.6 442.5 721.8 447.8 722 449.4 722.3 450.4 722.6 439.4 722.8 456 723 449.6 723.3 449.3 723.6 448 723.8 449 724 454 724.3 446.5 724.6 442.4 724.8 449.8 725 441 725.3 441.2 725.6 445.5 725.8 444.5 726 446.7 726.3 443.9 726.6 448.7 726.8 451.7 727 454.5 727.3 447.6 727.6 450.6 727.8 456.4 728 444 728.3 443.6 728.6 448.9 728.8 449.7 729 444.3 729.3 450.7 729.6 454.1 729.8 449.7 730 449.4 730.3 447.2 730.6 446.5 730.8 452.2 731 445.4 731.3 441.6 731.6 449.8 731.8 456.7 732 442.8 732.3 446.8 732.6 447.6 732.8 451.4 733 451.2 733.3 449.5 733.6 438.2 733.8 460.5 734 434.9 734.3 446.1 734.6 454 734.8 446.5 735 451.8 735.3 446.5 735.6 448.6 735.8 463.4 736 449 736.3 449 736.6 450.4 736.8 450.9 737 448.8 737.3 441 737.6 455.7 737.8 446.2 738 452.4 738.3 447.9 738.6 440 738.8 453.3 739 448.9 739.3 445.4 739.6 445.2 739.8 442.5 740 455.9 740.3 453.9 740.6 450 740.8 454.6 741 451.1 741.3 446.3 741.6 454.8 741.8 445 742 446.4 742.3 448.1 742.6 444.8 742.8 445.6 743 446 743.3 455.2 743.6 448.7 743.8 444.9 744 451 744.3 463.9 744.6 445.7 744.8 449.8 745 454.1 745.3 449.9 745.6 446.8 745.8 449.7 746 457.1 746.3 445.2 746.6 448.4 746.8 448.3 747 446.3 747.3 444.2 747.6 445.9 747.8 442.5 748 455.4 748.3 450.4 748.6 443.9 748.8 442.1 749 448 749.3 444.2 749.6 441.7 749.8 440.6 750 445.4 750.3 444 750.6 451.5 750.8 461.9 751 445.1 751.3 446.1 751.6 452.4 751.8 450.7 752 452.4 752.3 444.6 752.6 448.5 752.8 448.4 753 447.4 753.3 451.2 753.6 445.5 753.8 452.8 754 442.7 754.3 450.2 754.6 451.1 754.8 452.3 755 453.5 755.3 452.1 755.6 446.5 755.8 447.3 756 448.6 756.3 452.4 756.6 447.2 756.8 448.4 757 448.7 757.3 450.5 757.6 451.9 757.8 448.6 758 451.8 758.3 444.9 758.6 452.6 758.8 443.9 759 451.1 759.3 445.6 759.6 447.8 759.8 448.7 760 453 760.3 454.7 760.6 444 760.8 451.9 761 449.6 761.3 463.4 761.6 451.2 761.8 449.1 762 445.3 762.3 451.1 762.6 445.7 762.8 443.9 763 448.5 763.3 443.6 763.6 447.8 763.8 451.4 764 446.9 764.3 449.9 764.6 452.4 764.8 452.4 765 444.4 765.3 444 765.6 441.3 765.8 444.5 766 450.8 766.3 432.3 766.6 444.5 766.8 451.8 767 451.2 767.3 436.4 767.6 448.7 767.8 454.2 768 447.5 768.3 447.7 768.6 451.4 768.8 458.7 769 444.8 769.3 454.7 769.6 444.5 769.8 451.5 770 449.5 770.3 434.7 770.6 451.3 770.8 446.4 771 449.6 771.3 454.9 771.6 446.2 771.8 447.9 772 446.7 772.3 455.6 772.6 452.5 772.8 453.4 773 450.9 773.3 450.7 773.6 447.8 773.8 444.9 774 459.2 774.3 456 774.6 447 774.8 451.1 775 438.8 775.3 442.7 775.6 441.9 775.8 447.8 776 438.8 776.3 443.1 776.6 445 776.8 446.3 777 448.9 777.3 449.7 777.6 441.3 777.8 452.1 778 453 778.3 450.4 778.6 442.7 778.8 445.5 779 441 779.3 447.1 779.6 444 779.8 444.2 780 447.4 780.3 443 780.6 454.3 780.8 448.1 781 441.7 781.3 441.8 781.6 446 781.8 448 782 446.3 782.3 448.6 782.6 444.9 782.8 451.8 783 445.7 783.3 446.2 783.6 450 783.8 448.9 784 450.1 784.3 458.8 784.6 452.2 784.8 448.9 785 452.9 785.3 446.3 785.6 443.3 785.8 442.5 786 440.2 786.3 447.2 786.6 448.3 786.8 444.2 787 449.9 787.3 445.8 787.6 444.2 787.8 445.1 788 444.5 788.3 446.9 788.6 440.1 788.8 450.3 789 455.3 789.3 446 789.6 444.9 789.8 445.3 790 456.4 790.3 443 790.6 451.6 790.8 449.5 791 438.1 791.3 447.1 791.6 462.4 791.8 443.5 792 449.6 792.3 442.5 792.6 448.3 792.8 446.2 793 446 793.3 446.9 793.6 438.9 793.8 446.1 794 444.3 794.3 446.9 794.6 444.7 794.8 444.9 795 446.7 795.3 437.2 795.6 446.3 795.8 440.7 796 440.9 796.3 445.5 796.6 444 796.8 446.1 797 444.4 797.3 453.6 797.6 448.5 797.8 449.7 798 448.9 798.3 453.3 798.6 444.1 798.8 442.1 799 447 799.3 444.6 799.6 447 799.8 445.3 800 443.2 800.3 438.9 800.6 447.1 800.8 443.3 801 448.4 801.3 444.7 801.6 445.3 801.8 445 802 443.3 802.3 440.6 802.6 445.4 802.8 442.6 803 442.5 803.3 446.7 803.6 445.8 803.8 442.7 804 445.1 804.3 441.8 804.6 443.5 804.8 445.4 805 448.5 805.3 444.6 805.6 444 805.8 449 806 449.1 806.3 444 806.6 455.2 806.8 449 807 445.5 807.3 443 807.6 447.3 807.8 451.2 808 451.7 808.3 447.5 808.6 433.2 808.8 444.8 809 437.3 809.3 450.2 809.6 447 809.8 444.4 810 444 810.3 445.6 810.6 449.4 810.8 448 811 448.6 811.3 446.7 811.6 445.8 811.8 442.7 812 443.6 812.3 447.2 812.6 444.5 812.8 442.2 813 446.2 813.3 444.5 813.6 444.7 813.8 447.2 814 442.7 814.3 445.3 814.6 438.8 814.8 438.2 815 440.4 815.3 441.6 815.6 441.6 815.8 449.1 816 447.3 816.3 434.9 816.6 444.4 816.8 448.5 817 448.3 817.3 442.8 817.6 448.3 817.8 436.3 818 448 818.3 442.3 818.6 447.1 818.8 449.1 819 447.5 819.3 450.4 819.6 437.6 819.8 443.8 820 443.8 820.3 454.6 820.6 444.7 820.8 446 821 446.7 821.3 450.3 821.6 454.5 821.8 444.7 822 458.5 822.3 443.9 822.6 442.9 822.8 449.1 823 445 823.3 444.8 823.6 447.3 823.8 442.4 824 445 824.3 445.7 824.6 438.6 824.8 455.4 825 441.6 825.3 444 825.6 445.5 825.8 446.4 826 445.1 826.3 450.7 826.6 455.6 826.8 446.4 827 439.7 827.3 444.8 827.6 448.9 827.8 444.6 828 440.2 828.3 440.5 828.6 445.1 828.8 442.3 829 449.9 829.3 451.6 829.6 447.6 829.8 448 830 448 830.3 451.7 830.6 447.4 830.8 444 831 446.2 831.3 446.5 831.6 441.7 831.8 443.5 832 446.5 832.3 446.4 832.6 441.9 832.8 450.9 833 449.1 833.3 452.5 833.6 451.8 833.8 458.6 834 448.6 834.3 454.8 834.6 455.1 834.8 455.8 835 445.3 835.3 448.2 835.6 447.7 835.8 450 836 444.3 836.3 456 836.6 452.8 836.8 454 837 452.5 837.3 453.9 837.6 456.9 837.8 454.1 838 457.9 838.3 452 838.6 452.8 838.8 449.6 839 456.5 839.3 445.3 839.6 442.8 839.8 449.3 840 449.1 840.3 458 840.6 444.7 840.8 446.3 841 443.3 841.3 447.2" fill="none" stroke="#000" stroke-width="0.8" stroke-linejoin="round"/>
<path d="M951.8 463 952.1 464.1 952.3 463.8 952.6 464 952.9 462.2 953.1 462 953.4 462.5 953.7 460.2 954 459.9 954.2 457.5 954.5 453.6 954.8 461.3 955 460.5 955.3 466 955.6 458.6 955.8 463.6 956.1 462.4 956.4 464.5 956.7 459.3 956.9 460.3 957.2 459.9 957.5 463.1 957.7 458.2 958 460.4 958.3 463.4 958.5 464.4 958.8 462.1 959.1 460.9 959.4 463.1 959.6 458.3 959.9 456.6 960.2 467.8 960.4 459.1 960.7 462.6 961 457.7 961.2 458.9 961.5 456.6 961.8 459.2 962.1 457.9 962.3 459.4 962.6 458.4 962.9 454.2 963.1 460.7 963.4 471.7 963.7 462.7 963.9 455.3 964.2 450.9 964.5 457.3 964.8 456.3 965 460.9 965.3 449 965.6 459.7 965.8 458.1 966.1 462.5 966.4 458.1 966.6 449.2 966.9 464.7 967.2 460 967.5 459.1 967.7 464.9 968 469 968.3 466.1 968.5 462.7 968.8 463.2 969.1 463.8 969.3 466.8 969.6 464.7 969.9 453.2 970.2 460.8 970.4 453.3 970.7 455.4 971 452.7 971.2 457 971.5 459.3 971.8 458.4 972 458.9 972.3 455.8 972.6 450.5 972.9 456 973.1 454.4 973.4 454.2 973.7 454.5 973.9 456.8 974.2 459.9 974.5 453.9 974.7 453.8 975 453.8 975.3 451.8 975.6 461.5 975.8 457.2 976.1 463.2 976.4 455.7 976.6 464.1 976.9 460.5 977.2 458.4 977.4 453.6 977.7 459.2 978 464.3 978.3 454.2 978.5 455.4 978.8 463.4 979.1 466.7 979.3 462.4 979.6 450.7 979.9 456.4 980.1 458.5 980.4 457.2 980.7 464.6 981 455.7 981.2 451 981.5 461 981.8 459.2 982 459.9 982.3 452.3 982.6 458.4 982.8 453.4 983.1 459.6 983.4 453.1 983.7 446.7 983.9 449.2 984.2 448.5 984.5 447.5 984.7 436 985 449.9 985.3 446.9 985.5 447.6 985.8 450.4 986.1 435.7 986.4 445.1 986.6 445 986.9 444.7 987.2 431.9 987.4 438.8 987.7 437.5 988 449 988.2 441.3 988.5 437.6 988.8 436.6 989.1 433.5 989.3 442.1 989.6 436 989.9 429.4 990.1 432.9 990.4 437.7 990.7 430.2 990.9 435.5 991.2 423.8 991.5 435.2 991.8 424.6 992 425.2 992.3 429.1 992.6 424.4 992.8 426.9 993.1 414 993.4 425.2 993.6 419 993.9 417.2 994.2 409.3 994.5 404.5 994.7 407.9 995 412.4 995.3 410.9 995.5 404.6 995.8 401.6 996.1 403.8 996.3 405.8 996.6 399.7 996.9 399 997.2 402.7 997.4 399.8 997.7 398.5 998 397.3 998.2 392.4 998.5 384.4 998.8 388.8 999 386.7 999.3 389.5 999.6 382.6 999.9 385.7 1000.1 384.9 1000.4 376.3 1000.7 379.2 1000.9 384.3 1001.2 376 1001.5 362.9 1001.7 377.7 1002 368.3 1002.3 368.9 1002.6 374.6 1002.8 362.6 1003.1 367.7 1003.4 367.7 1003.6 351.9 1003.9 367.6 1004.2 368.8 1004.4 359.3 1004.7 371.2 1005 363.1 1005.3 360.8 1005.5 354.6 1005.8 369.2 1006.1 367.6 1006.3 357.4 1006.6 365.2 1006.9 357.7 1007.1 341.1 1007.4 338.1 1007.7 352.3 1008 341.5 1008.2 350.6 1008.5 346.8 1008.8 343.8 1009 334.5 1009.3 339.1 1009.6 338.5 1009.8 321.7 1010.1 331.6 1010.4 316.5 1010.7 303.7 1010.9 320.6 1011.2 318.2 1011.5 325.5 1011.7 302.9 1012 307.7 1012.3 312 1012.5 293.1 1012.8 294 1013.1 302.2 1013.4 282.7 1013.6 286.9 1013.9 284.8 1014.2 281.6 1014.4 277.1 1014.7 282.4 1015 276.8 1015.2 277.7 1015.5 268.2 1015.8 277.3 1016.1 250.8 1016.3 257.6 1016.6 253.7 1016.9 255.7 1017.1 248.8 1017.4 253.4 1017.7 243.4 1017.9 252.1 1018.2 237.8 1018.5 233.9 1018.8 214.2 1019 204.4 1019.3 234.6 1019.6 224 1019.8 226.9 1020.1 224.2 1020.4 215.9 1020.6 217.3 1020.9 198.8 1021.2 204.2 1021.5 215.6 1021.7 200.4 1022 205.3 1022.3 214.9 1022.5 188.4 1022.8 185.2 1023.1 167.6 1023.3 198.1 1023.6 213.7 1023.9 190.5 1024.2 195.2 1024.4 191.3 1024.7 189 1025 185.3 1025.2 185.9 1025.5 183.9 1025.8 196.3 1026 177.5 1026.3 176.2 1026.6 171.9 1026.9 176.1 1027.1 158.7 1027.4 144 1027.7 164.9 1027.9 147 1028.2 152.3 1028.5 139.2 1028.7 143.8 1029 148.8 1029.3 133.7 1029.6 131.3 1029.8 118.4 1030.1 136 1030.4 117.1 1030.6 114.6 1030.9 121.2 1031.2 135.1 1031.4 125.1 1031.7 149.6 1032 128.3 1032.3 113.3 1032.5 103.3 1032.8 117.4 1033.1 105.3 1033.3 101.7 1033.6 120.3 1033.9 116.9 1034.1 114.6 1034.4 99.8 1034.7 105.4 1035 103.9 1035.2 112.2 1035.5 87.4 1035.8 86.3 1036 75.1 1036.3 76.5 1036.6 101 1036.8 84.7 1037.1 106.1 1037.4 83.3 1037.7 82.6 1037.9 68.7 1038.2 85.7 1038.5 93 1038.7 65 1039 90.5 1039.3 69.1 1039.5 49.7 1039.8 57.8 1040.1 93.3 1040.4 98.4 1040.6 94.3 1040.9 88.9 1041.2 91.8 1041.4 95.2 1041.7 84.3 1042 84.8 1042.2 96.2 1042.5 96.2 1042.8 90.9 1043.1 79.6 1043.3 87.3 1043.6 89.7 1043.9 93.3 1044.1 84.8 1044.4 112.3 1044.7 86.4 1044.9 80.8 1045.2 71.8 1045.5 86.6 1045.8 86.9 1046 58.2 1046.3 39 1046.6 68.8 1046.8 64.1 1047.1 65.2 1047.4 74.3 1047.6 54.1 1047.9 84.3 1048.2 83.5 1048.5 84.7 1048.7 70.8 1049 91.6 1049.3 100.7 1049.5 63.4 1049.8 80.7 1050.1 80.3 1050.3 59.2 1050.6 93.2 1050.9 66.5 1051.2 63.3 1051.4 61.4 1051.7 58.2 1052 66.1 1052.2 66.6 1052.5 80.7 1052.8 80.6 1053 81.8 1053.3 74.4 1053.6 85.9 1053.9 79.3 1054.1 81.9 1054.4 51.7 1054.7 76.2 1054.9 88.1 1055.2 78.5 1055.5 90 1055.7 67.4 1056 92 1056.3 109.6 1056.6 82.1 1056.8 95.3 1057.1 88 1057.4 76.8 1057.6 81.6 1057.9 107.2 1058.2 72.1 1058.4 101.8 1058.7 91.5 1059 107.7 1059.3 116.7 1059.5 114.2 1059.8 99.1 1060.1 82.7 1060.3 114.7 1060.6 106.1 1060.9 151 1061.1 110.4 1061.4 142.8 1061.7 130.1 1062 104.2 1062.2 116.2 1062.5 121.1 1062.8 130.7 1063 139.4 1063.3 124.7 1063.6 133.9 1063.8 140.3 1064.1 132.5 1064.4 135.9 1064.7 136.3 1064.9 137.9 1065.2 141.6 1065.5 156.7 1065.7 152.6 1066 147 1066.3 145.4 1066.5 152.4 1066.8 159.1 1067.1 169.8 1067.4 188 1067.6 171.2 1067.9 177 1068.2 170 1068.4 146.4 1068.7 176.7 1069 201.1 1069.2 181.5 1069.5 177.8 1069.8 184.6 1070.1 187.5 1070.3 186 1070.6 187 1070.9 171 1071.1 190.9 1071.4 163.3 1071.7 190.3 1071.9 190.8 1072.2 186.3 1072.5 197.6 1072.8 195.5 1073 193.6 1073.3 196.4 1073.6 185.3 1073.8 218 1074.1 199.3 1074.4 201.9 1074.6 200.4 1074.9 227.8 1075.2 212.6 1075.5 212.5 1075.7 233.3 1076 222.3 1076.3 218.9 1076.5 227.8 1076.8 219.6 1077.1 227 1077.3 240.3 1077.6 236.5 1077.9 229.7 1078.2 228.7 1078.4 250.7 1078.7 246.6 1079 227.4 1079.2 237.4 1079.5 238.9 1079.8 260.8 1080 248.5 1080.3 246 1080.6 242.6 1080.9 245.7 1081.1 257.4 1081.4 255.5 1081.7 269 1081.9 275.1 1082.2 254.9 1082.5 259.9 1082.7 270.3 1083 277.8 1083.3 268 1083.6 271.5 1083.8 259 1084.1 271.4 1084.4 262.3 1084.6 275.4 1084.9 272.9 1085.2 267 1085.4 281.2 1085.7 280.2 1086 262.9 1086.3 274.4 1086.5 277.2 1086.8 276.9 1087.1 278.1 1087.3 275.1 1087.6 267.6 1087.9 286.9 1088.1 285.6 1088.4 290.6 1088.7 270.5 1089 297.1 1089.2 295.2 1089.5 287.3 1089.8 295.8 1090 307.8 1090.3 298.8 1090.6 300.4 1090.8 303.9 1091.1 298 1091.4 304.9 1091.7 288.5 1091.9 300.1 1092.2 302.2 1092.5 291.3 1092.7 308.6 1093 306.6 1093.3 313.8 1093.5 303.5 1093.8 299.6 1094.1 315 1094.4 308.2 1094.6 302.4 1094.9 313 1095.2 317.1 1095.4 318.3 1095.7 307.7 1096 313.9 1096.2 319.6 1096.5 316.5 1096.8 317.9 1097.1 322.4 1097.3 327.1 1097.6 327.2 1097.9 325.1 1098.1 337.4 1098.4 329.3 1098.7 333.9 1098.9 344.5 1099.2 325.6 1099.5 334.7 1099.8 324.4 1100 336.8 1100.3 326.5 1100.6 329.5 1100.8 322.3 1101.1 341.9 1101.4 335.1 1101.6 329.7 1101.9 342.2 1102.2 341.7 1102.5 349.5 1102.7 328.1 1103 324 1103.3 334.7 1103.5 340 1103.8 345.9 1104.1 339.6 1104.3 345.3 1104.6 340.1 1104.9 339.4 1105.2 353.6 1105.4 340.6 1105.7 354.8 1106 360.3 1106.2 350.4 1106.5 345.9 1106.8 351.7 1107 346.4 1107.3 354.4 1107.6 349.6 1107.9 356.9 1108.1 351.8 1108.4 348.7 1108.7 360.1 1108.9 361.5 1109.2 365.4 1109.5 366.1 1109.7 365.1 1110 367.8 1110.3 363.3 1110.6 363.9 1110.8 367.7 1111.1 358.1 1111.4 372.6 1111.6 354.5 1111.9 361.1 1112.2 352.4 1112.4 356.8 1112.7 364.4 1113 359.2 1113.3 361.9 1113.5 355.4 1113.8 347.3 1114.1 352.1 1114.3 352.7 1114.6 359.1 1114.9 353.9 1115.1 356.2 1115.4 361.4 1115.7 355.5 1116 350.7 1116.2 352.9 1116.5 359.1 1116.8 358.2 1117 351.3 1117.3 367.7 1117.6 364.8 1117.8 368.7 1118.1 363.3 1118.4 362.5 1118.7 364.8 1118.9 360.6 1119.2 371.4 1119.5 367.4 1119.7 366.3 1120 382.1 1120.3 367.3 1120.5 366 1120.8 367.1 1121.1 364.8 1121.4 366.2 1121.6 369.9 1121.9 359.1 1122.2 359.2 1122.4 355.4 1122.7 349.9 1123 361 1123.2 348.9 1123.5 360.9 1123.8 357.8 1124.1 353.9 1124.3 353.1 1124.6 352.8 1124.9 351.6 1125.1 344.5 1125.4 345.4 1125.7 345.9 1125.9 357.3 1126.2 351.2 1126.5 348.3 1126.8 339.8 1127 346.1 1127.3 352.3 1127.6 326.5 1127.8 344.2 1128.1 350.2 1128.4 351.1 1128.6 343.8 1128.9 336.3 1129.2 347.6 1129.5 342.5 1129.7 337.5 1130 341 1130.3 346.9 1130.5 343.5 1130.8 342.9 1131.1 326.6 1131.3 342.1 1131.6 335.2 1131.9 330 1132.2 340.9 1132.4 329.5 1132.7 334.7 1133 332.6 1133.2 329.1 1133.5 335.1 1133.8 310.5 1134 319.6 1134.3 322.8 1134.6 328.7 1134.9 324 1135.1 324.9 1135.4 325.3 1135.7 333.3 1135.9 328.3 1136.2 338.3 1136.5 325.8 1136.7 322.6 1137 336.1 1137.3 331.2 1137.6 339.2 1137.8 333.5 1138.1 324.8 1138.4 330.8 1138.6 321 1138.9 327.6 1139.2 331 1139.4 332.3 1139.7 325.7 1140 331 1140.3 318 1140.5 332.7 1140.8 326.8 1141.1 325.5 1141.3 325.2 1141.6 318.3 1141.9 318.6 1142.1 325.3 1142.4 331.2 1142.7 314.7 1143 321.8 1143.2 313.3 1143.5 313 1143.8 326.5 1144 325.2 1144.3 322 1144.6 317.9 1144.8 329.1 1145.1 332.7 1145.4 323.8 1145.7 317.4 1145.9 312.4 1146.2 315.4 1146.5 312.9 1146.7 315.3 1147 310.6 1147.3 321 1147.5 303 1147.8 305.3 1148.1 304.3 1148.4 318.9 1148.6 287.2 1148.9 307.8 1149.2 318.5 1149.4 300.1 1149.7 313.6 1150 305.8 1150.2 312.1 1150.5 312.5 1150.8 307.3 1151.1 308.5 1151.3 319.4 1151.6 303 1151.9 307.8 1152.1 304.5 1152.4 305.6 1152.7 310 1152.9 305.1 1153.2 300 1153.5 312.6 1153.8 299.7 1154 305.1 1154.3 308.4 1154.6 298.8 1154.8 328 1155.1 305.8 1155.4 297.1 1155.6 304.8 1155.9 301.5 1156.2 308.2 1156.5 304.5 1156.7 301.3 1157 313.5 1157.3 310.2 1157.5 302.2 1157.8 313.2 1158.1 300.3 1158.3 296.2 1158.6 300.9 1158.9 306.4 1159.2 306.7 1159.4 304.8 1159.7 301.1 1160 294.1 1160.2 303.6 1160.5 296.2 1160.8 286.5 1161 299 1161.3 290.9 1161.6 303.2 1161.9 310 1162.1 305.9 1162.4 320.8 1162.7 307.3 1162.9 307.3 1163.2 298.7 1163.5 306.1 1163.7 302 1164 301.8 1164.3 296.6 1164.6 317 1164.8 307.6 1165.1 308.8 1165.4 303.9 1165.6 305 1165.9 297.2 1166.2 303.8 1166.4 306.6 1166.7 302.2 1167 299.8 1167.3 304.1 1167.5 280.5 1167.8 304.4 1168.1 309.1 1168.3 303.6 1168.6 307.5 1168.9 316.2 1169.1 312.2 1169.4 304 1169.7 304.9 1170 291.4 1170.2 313.2 1170.5 320.7 1170.8 327.9 1171 317.9 1171.3 312.2 1171.6 314.3 1171.8 312.6 1172.1 305.5 1172.4 302.7 1172.7 309.4 1172.9 311.4 1173.2 307 1173.5 320.9 1173.7 313.5 1174 313.8 1174.3 313.7 1174.5 306.9 1174.8 302.2 1175.1 324.4 1175.4 316.7 1175.6 299.2 1175.9 298.5 1176.2 306.2 1176.4 317 1176.7 315.2 1177 320.8 1177.2 306 1177.5 323.1 1177.8 322.4 1178.1 321 1178.3 311.5 1178.6 326.6 1178.9 313.3 1179.1 327.5 1179.4 322.4 1179.7 329.1 1179.9 333 1180.2 321.4 1180.5 333 1180.8 330.8 1181 322.8 1181.3 302.8 1181.6 330.8 1181.8 330.3 1182.1 334.6 1182.4 326.9 1182.6 306.5 1182.9 334.6 1183.2 330.8 1183.5 332.8 1183.7 335 1184 327.9 1184.3 336.5 1184.5 333.3 1184.8 341.9 1185.1 333.6 1185.3 336 1185.6 330.5 1185.9 335.2 1186.2 328.7 1186.4 344.6 1186.7 340.1 1187 351.6 1187.2 337.5 1187.5 331.5 1187.8 327 1188 329.7 1188.3 347.2 1188.6 334.8 1188.9 338.6 1189.1 341.5 1189.4 353.6 1189.7 337.9 1189.9 346.7 1190.2 345.9 1190.5 345.7 1190.7 348.9 1191 342.6 1191.3 347.5 1191.6 349 1191.8 355.4 1192.1 366.4 1192.4 354.7 1192.6 354.4 1192.9 359.5 1193.2 353.8 1193.4 343.9 1193.7 356.8 1194 354.6 1194.3 348.4 1194.5 352.7 1194.8 350.7 1195.1 351 1195.3 358.7 1195.6 350 1195.9 372.8 1196.1 356.9 1196.4 357.6 1196.7 365.7 1197 373.1 1197.2 364.4 1197.5 355.3 1197.8 363.2 1198 356.6 1198.3 365.6 1198.6 357.1 1198.8 361 1199.1 380.7 1199.4 370 1199.7 378.4 1199.9 389.5 1200.2 364.8 1200.5 366.8 1200.7 392.2 1201 378.6 1201.3 380.2 1201.5 382.1 1201.8 372.2 1202.1 388.1 1202.4 389.1 1202.6 382.6 1202.9 377.6 1203.2 374.4 1203.4 379.7 1203.7 379.9 1204 385.9 1204.2 376.6 1204.5 384.8 1204.8 385.6 1205.1 385.1 1205.3 379.1 1205.6 391.1 1205.9 395.3 1206.1 384.6 1206.4 388.2 1206.7 390.6 1206.9 394.2 1207.2 395.9 1207.5 411 1207.8 399.9 1208 404.3 1208.3 402 1208.6 408.6 1208.8 398.4 1209.1 405.8 1209.4 405.3 1209.6 398.3 1209.9 393.6 1210.2 400.1 1210.5 402.6 1210.7 401.3 1211 395.1 1211.3 398.6 1211.5 405 1211.8 404.6 1212.1 409.4 1212.3 402.3 1212.6 401.3 1212.9 412.8 1213.2 425.3 1213.4 406.5 1213.7 413.9 1214 408.2 1214.2 413 1214.5 420.1 1214.8 411.7 1215 418.9 1215.3 415.3 1215.6 415.4 1215.9 416.3 1216.1 419.6 1216.4 412.7 1216.7 407.5 1216.9 416 1217.2 414.2 1217.5 416.3 1217.7 421.6 1218 420.8 1218.3 424.3 1218.6 421.6 1218.8 420.4 1219.1 415.1 1219.4 423.5 1219.6 426.3 1219.9 423.7 1220.2 421.2 1220.4 427.1 1220.7 427.1 1221 429.6 1221.3 430.7 1221.5 423.7 1221.8 434.3 1222.1 430.3 1222.3 432.3 1222.6 430.3 1222.9 433.8 1223.1 433.1 1223.4 423.1 1223.7 433.4 1224 429.3 1224.2 433.4 1224.5 429.4 1224.8 422.7 1225 422.6 1225.3 429.4 1225.6 413.2 1225.8 428.8 1226.1 432.3 1226.4 428 1226.7 428.4 1226.9 431.6 1227.2 428.1 1227.5 437.4 1227.7 434.4 1228 432.2 1228.3 438 1228.5 437.9 1228.8 430.8 1229.1 428.8 1229.4 421.8 1229.6 435.6 1229.9 427.7 1230.2 432.8 1230.4 434 1230.7 433.8 1231 428.3 1231.2 432.2 1231.5 431.4 1231.8 436.4 1232.1 440.3 1232.3 440.4 1232.6 438.7 1232.9 442 1233.1 441 1233.4 437.4 1233.7 444.5 1233.9 439.5 1234.2 438.9 1234.5 429.3 1234.8 443.2 1235 445.1 1235.3 442.6 1235.6 445.3 1235.8 438.9 1236.1 445.1 1236.4 442.2 1236.6 453 1236.9 428 1237.2 442.1 1237.5 442.2 1237.7 439.8 1238 444.6 1238.3 428.6 1238.5 451.5 1238.8 442.4 1239.1 439.7 1239.3 446.8 1239.6 443.5 1239.9 437.9 1240.2 445.6 1240.4 444.5 1240.7 446.5 1241 438.7 1241.2 430.6 1241.5 446.4 1241.8 441.6 1242 447.3 1242.3 445 1242.6 440.9 1242.9 448 1243.1 446.7 1243.4 446.8 1243.7 442.4 1243.9 440 1244.2 446.7 1244.5 446.6 1244.7 443.6 1245 441.8 1245.3 443.8 1245.6 441.6 1245.8 448.8 1246.1 445.2 1246.4 448.2 1246.6 448.2 1246.9 449.8 1247.2 452 1247.4 456.2 1247.7 439.5 1248 452.7 1248.3 447.8 1248.5 454.2 1248.8 451.2 1249.1 445.7 1249.3 445.1 1249.6 452.9 1249.9 447.7 1250.1 441.2 1250.4 445.9 1250.7 449.6 1251 450.3 1251.2 440.7 1251.5 451.5 1251.8 445.7 1252 453.7 1252.3 447.8 1252.6 453.8 1252.8 447.2 1253.1 454.7 1253.4 448.5 1253.7 449.8 1253.9 450.7 1254.2 453.5 1254.5 453.7 1254.7 459 1255 454.1 1255.3 448.5 1255.5 453.2 1255.8 457.2 1256.1 453.4 1256.4 454.5 1256.6 451.8 1256.9 455.9 1257.2 455.6 1257.4 458.4 1257.7 453.8 1258 441.1 1258.2 454.4 1258.5 455.9 1258.8 454.7 1259.1 452.9 1259.3 449.8 1259.6 449 1259.9 457.5 1260.1 446.2 1260.4 453.9 1260.7 448.5 1260.9 455.2 1261.2 451.4 1261.5 453.5 1261.8 457.8 1262 458.4 1262.3 458.2 1262.6 471.8 1262.8 464.1 1263.1 455.5 1263.4 458.3 1263.6 465.8 1263.9 459.9 1264.2 447.5 1264.5 459.3 1264.7 458.1 1265 458.3 1265.3 459.6 1265.5 459.8 1265.8 459.9 1266.1 454.4 1266.3 464.5 1266.6 452.4 1266.9 459.1 1267.2 465.7 1267.4 453.2 1267.7 465.8 1268 457.8 1268.2 460.7 1268.5 456.7 1268.8 459.4 1269 450.2 1269.3 466.5 1269.6 458.7 1269.9 456.8 1270.1 455 1270.4 460.1 1270.7 467.1 1270.9 462.1 1271.2 466.7 1271.5 457.1 1271.7 464.8 1272 460.7 1272.3 470.6 1272.6 466.7 1272.8 469.8 1273.1 467.1 1273.4 461.8 1273.6 459.6 1273.9 459.4 1274.2 458.6 1274.4 462.8 1274.7 467.8 1275 455.2 1275.3 464.6 1275.5 462.7 1275.8 460.1 1276.1 461.7 1276.3 463.4 1276.6 466.5 1276.9 461.5 1277.1 459.9 1277.4 462.7 1277.7 457.8 1278 465.7 1278.2 459 1278.5 461.7 1278.8 462.9 1279 465.1 1279.3 465.9 1279.6 461.4 1279.8 460.8 1280.1 467.6 1280.4 461.6 1280.7 466.2 1280.9 464.1 1281.2 461.7 1281.5 466.2 1281.7 461.2 1282 469.5 1282.3 460.2 1282.5 462.9 1282.8 455.8 1283.1 471.9 1283.4 473 1283.6 463.6 1283.9 452.6 1284.2 462.1 1284.4 446.4 1284.7 459.1 1285 457.7 1285.2 456.2 1285.5 461.3 1285.8 460.2 1286.1 459.8 1286.3 458.6 1286.6 458.9 1286.9 452.1 1287.1 461.1 1287.4 468.2 1287.7 464.1 1287.9 463.5 1288.2 458.4 1288.5 464.7 1288.8 456 1289 459 1289.3 460.4 1289.6 459.3 1289.8 467.9 1290.1 474.1 1290.4 462.9 1290.6 461.4 1290.9 458.7 1291.2 454.9 1291.5 455.2 1291.7 463 1292 459.8 1292.3 459 1292.5 459.7 1292.8 460 1293.1 458.2 1293.3 456.8 1293.6 458 1293.9 458 1294.2 467.6 1294.4 462.1 1294.7 460 1295 460.1 1295.2 461.5 1295.5 462.2 1295.8 464.9 1296 463.8 1296.3 466.5 1296.6 461.9 1296.9 461.6 1297.1 461.4 1297.4 466.9 1297.7 465.6 1297.9 461.1 1298.2 461.8 1298.5 458.9 1298.7 456.9 1299 460.3 1299.3 454.8 1299.6 460 1299.8 457.1 1300.1 465.5 1300.4 466.4 1300.6 460.2 1300.9 462.5 1301.2 465.8 1301.4 461 1301.7 460.8 1302 466.2 1302.3 465.4 1302.5 464 1302.8 459.1 1303.1 464.8 1303.3 457.9 1303.6 454.3 1303.9 466.9 1304.1 465.8 1304.4 463.2 1304.7 462.7 1305 457.4 1305.2 460.1 1305.5 455.8 1305.8 455.4 1306 448.5 1306.3 464 1306.6 451.8 1306.8 458.5 1307.1 456.6 1307.4 457.7 1307.7 461.5 1307.9 459.2 1308.2 470.6 1308.5 459.6 1308.7 463.1 1309 461 1309.3 465.2 1309.5 456.7 1309.8 468.6 1310.1 457.8 1310.4 461.9 1310.6 462.8 1310.9 464.3 1311.2 464.1 1311.4 468.1 1311.7 458.8 1312 465.5 1312.2 459.1 1312.5 470.4 1312.8 470.5 1313.1 462.2 1313.3 451.8 1313.6 463.4 1313.9 466.8 1314.1 455.1 1314.4 468.9 1314.7 464 1314.9 455.4 1315.2 463.9 1315.5 468.7 1315.8 468.4 1316 461.4 1316.3 466.8 1316.6 461.4 1316.8 461.5 1317.1 455.1 1317.4 462.5 1317.6 460.8 1317.9 466.1 1318.2 466 1318.5 455 1318.7 461 1319 469.6 1319.3 470.7 1319.5 466.3 1319.8 468.7 1320.1 469.2 1320.3 464.1 1320.6 466.7 1320.9 481 1321.2 461.5 1321.4 471.5 1321.7 464.8 1322 469.4 1322.2 470 1322.5 466.6 1322.8 463.5 1323 470.8 1323.3 461.4 1323.6 462.5 1323.9 463 1324.1 463.7 1324.4 462.2 1324.7 465.2 1324.9 467.5 1325.2 463.5 1325.5 470.9 1325.7 466.9 1326 476.7 1326.3 462 1326.6 467.5 1326.8 465.3 1327.1 473.6 1327.4 462.4 1327.6 464.3 1327.9 463.3 1328.2 459.4 1328.4 467 1328.7 462.5 1329 464.7 1329.3 462.3 1329.5 465.7 1329.8 466 1330.1 460.5 1330.3 460.6 1330.6 457.1 1330.9 466 1331.1 461.3 1331.4 461 1331.7 462.3 1332 457.7 1332.2 454.9 1332.5 449.9 1332.8 465 1333 466.1 1333.3 461.1 1333.6 463.3 1333.8 471 1334.1 466 1334.4 464.5 1334.7 469.7 1334.9 464.1 1335.2 465.3 1335.5 466.9 1335.7 467.3 1336 465.2 1336.3 464.5 1336.5 465.1 1336.8 465.4 1337.1 463.5 1337.4 463.8 1337.6 464.8 1337.9 458.4 1338.2 459 1338.4 462.2 1338.7 460.8 1339 462.1 1339.2 465.5 1339.5 462.6 1339.8 458.6 1340.1 458.2 1340.3 461.5 1340.6 456.3 1340.9 461.4 1341.1 457.4 1341.4 460.5 1341.7 468.3 1341.9 460.9 1342.2 460.6 1342.5 464.8 1342.8 461.4 1343 460.6 1343.3 464.7 1343.6 463.5 1343.8 469.3 1344.1 460.4 1344.4 468.2 1344.6 466 1344.9 468.7 1345.2 460.3 1345.5 461.2 1345.7 464.3 1346 461 1346.3 456.6 1346.5 459.3 1346.8 462.5 1347.1 461.3 1347.3 461 1347.6 450.3 1347.9 455.9 1348.2 461.8 1348.4 457.9 1348.7 456.3 1349 453.1 1349.2 461.5 1349.5 460.8 1349.8 462.2 1350 464.5 1350.3 457.6 1350.6 461.9 1350.9 460.5 1351.1 474.8 1351.4 464.3 1351.7 463.3 1351.9 465.8 1352.2 469.9 1352.5 464.6 1352.7 465.4 1353 465.4 1353.3 454.9 1353.6 459.8 1353.8 461.5 1354.1 469.7 1354.4 456.4 1354.6 467.6 1354.9 458.4 1355.2 460 1355.4 459.4 1355.7 465.1 1356 459.8 1356.3 457.5 1356.5 469.2 1356.8 462.6 1357.1 459.5 1357.3 462.3 1357.6 462.7 1357.9 465 1358.1 468.4 1358.4 460.9 1358.7 460.1 1359 455 1359.2 462.7 1359.5 470.9 1359.8 466.4 1360 460.2 1360.3 467.3 1360.6 465.5 1360.8 468.4 1361.1 460.8 1361.4 458.3 1361.7 465.3 1361.9 454.1 1362.2 461.2 1362.5 461.1 1362.7 454.6 1363 472.1 1363.3 458.6 1363.5 464.7 1363.8 466.3 1364.1 461.3 1364.4 461 1364.6 465.3 1364.9 461.6 1365.2 464.8 1365.4 463.1 1365.7 464.1 1366 462.1 1366.2 465.8 1366.5 466.7 1366.8 465.3 1367.1 456.5 1367.3 463.2 1367.6 467.3 1367.9 464.3 1368.1 466.4 1368.4 466.8 1368.7 466.1 1368.9 462.8 1369.2 468.5 1369.5 470.1 1369.8 471.8 1370 470.2 1370.3 473.3 1370.6 463.2 1370.8 468 1371.1 464.7 1371.4 462.6 1371.6 469.2 1371.9 471.6 1372.2 466.9 1372.5 466.6 1372.7 469.3 1373 465.1 1373.3 472.6 1373.5 465 1373.8 460.1 1374.1 465.7 1374.3 469.1 1374.6 465.4 1374.9 469.3 1375.2 461 1375.4 464 1375.7 463.7 1376 469.1 1376.2 471.4 1376.5 463 1376.8 465.8 1377 463.1 1377.3 469.5 1377.6 462.6 1377.9 463.7 1378.1 465 1378.4 461.7 1378.7 462.3 1378.9 463.6 1379.2 464 1379.5 477.5 1379.7 461.5 1380 463 1380.3 458.2 1380.6 460.8 1380.8 462.9 1381.1 466.7 1381.4 463.6 1381.6 466.9 1381.9 465.1 1382.2 449.4 1382.4 459.6 1382.7 460.4 1383 457 1383.3 466.1 1383.5 455.9 1383.8 458.8 1384.1 464.1 1384.3 463 1384.6 465.8 1384.9 460.7 1385.1 460.7 1385.4 462.4 1385.7 464.1 1386 461.6 1386.2 465.4 1386.5 461.5 1386.8 465 1387 462.4 1387.3 464.1 1387.6 466.7 1387.8 469.7 1388.1 464.7 1388.4 464.3 1388.7 463.4 1388.9 462.5 1389.2 469.4 1389.5 462.8 1389.7 462.4 1390 466.7 1390.3 466.7 1390.5 463.5 1390.8 469.3 1391.1 474.2 1391.4 463.7 1391.6 471.2 1391.9 465.3 1392.2 466.2 1392.4 464.4 1392.7 469.7 1393 468.4 1393.2 457.9 1393.5 464.2 1393.8 456.8 1394.1 461.7 1394.3 461 1394.6 461.2 1394.9 465 1395.1 463.7 1395.4 461.6 1395.7 461.2 1395.9 459.9 1396.2 459.7 1396.5 459 1396.8 461.8 1397 458.4 1397.3 458.8 1397.6 461.4 1397.8 460.3 1398.1 463.1 1398.4 462 1398.6 463.6 1398.9 458.9 1399.2 457.5 1399.5 460.6 1399.7 458.7 1400 458.6 1400.3 470.7 1400.5 456.9 1400.8 464 1401.1 462.2 1401.3 456.9 1401.6 460.3 1401.9 460.9 1402.2 462.5 1402.4 463.4 1402.7 473.3 1403 456.2 1403.2 462.1 1403.5 461.5 1403.8 456 1404 465.7 1404.3 470.1 1404.6 464.4 1404.9 465.1 1405.1 459.7 1405.4 462.5 1405.7 463.2 1405.9 454.8 1406.2 462 1406.5 463.1 1406.7 458.9 1407 457.7 1407.3 460.3 1407.6 462.5 1407.8 464 1408.1 466.5 1408.4 456.9 1408.6 465.9 1408.9 460.9 1409.2 462.9 1409.4 456.8 1409.7 459.4 1410 466.9 1410.3 462.6 1410.5 463.7 1410.8 463.8 1411.1 462.1 1411.3 464.3 1411.6 464.6 1411.9 464.4 1412.1 461.9 1412.4 465.6 1412.7 459.3 1413 461.5 1413.2 464.3 1413.5 468.9 1413.8 464.1 1414 463.9 1414.3 466.9 1414.6 465.1 1414.8 462.6 1415.1 473.8 1415.4 456.6 1415.7 456.5 1415.9 459.1 1416.2 457.5 1416.5 462.2 1416.7 461.3 1417 458.2 1417.3 460.5 1417.5 449.3 1417.8 461.6 1418.1 465.3 1418.4 454.6 1418.6 461.9 1418.9 445.8 1419.2 459.2 1419.4 458 1419.7 460.1 1420 459 1420.2 459.5 1420.5 458.9 1420.8 456.4 1421.1 473.6 1421.3 459.6 1421.6 449.2 1421.9 459.9 1422.1 459.5 1422.4 462.3 1422.7 461.7 1422.9 467.1 1423.2 462.9 1423.5 461.1 1423.8 462.9 1424 458.2 1424.3 458.8 1424.6 459 1424.8 461.9 1425.1 465.9 1425.4 459.6 1425.6 458.2 1425.9 462.6 1426.2 469.5 1426.5 464.5 1426.7 454.8 1427 465.6 1427.3 470.1 1427.5 462.8 1427.8 460.8 1428.1 458.9 1428.3 465.6 1428.6 451.6 1428.9 461.2 1429.2 462.2 1429.4 462.8 1429.7 460.7 1430 465.1 1430.2 460.4 1430.5 462.3 1430.8 460.3 1431 460.9 1431.3 462.9 1431.6 449.8 1431.9 457.3 1432.1 457.2 1432.4 456.6 1432.7 456 1432.9 462.4 1433.2 457.8 1433.5 460.6 1433.7 459 1434 459.7 1434.3 456.7 1434.6 463.3 1434.8 459.5 1435.1 460 1435.4 461.7 1435.6 460.6 1435.9 463.7 1436.2 459.9 1436.4 458.6 1436.7 449.9 1437 458.1 1437.3 468.6 1437.5 461.2 1437.8 462.1 1438.1 452.8 1438.3 466.8 1438.6 454 1438.9 466.3 1439.1 466 1439.4 463.6 1439.7 461.2 1440 464 1440.2 465.7 1440.5 466.5 1440.8 466.3 1441 459.4 1441.3 470.3 1441.6 462.4 1441.8 464.7 1442.1 459.3 1442.4 460.8 1442.7 458.6 1442.9 460.7 1443.2 454.4 1443.5 463 1443.7 460.9 1444 462.8 1444.3 461.4 1444.5 459.5 1444.8 456.8 1445.1 458.3 1445.4 461.6 1445.6 456.1 1445.9 464.8 1446.2 455.9 1446.4 460.4 1446.7 453.7 1447 456 1447.2 459.9 1447.5 467.8 1447.8 461.2 1448.1 462.4 1448.3 463.7 1448.6 460.6 1448.9 466.7 1449.1 466.1 1449.4 458.5 1449.7 474.4 1449.9 463.9 1450.2 465.5 1450.5 472.2 1450.8 469 1451 467.3 1451.3 466.4 1451.6 461.2 1451.8 467.4 1452.1 468.1 1452.4 463 1452.6 465.8 1452.9 465.2 1453.2 464.8 1453.5 457.9 1453.7 462.7 1454 466.4 1454.3 460.2 1454.5 471.1 1454.8 460.4 1455.1 463.5 1455.3 463.2 1455.6 461.9 1455.9 462.7 1456.2 469 1456.4 462.3 1456.7 464.5 1457 461.7 1457.2 463.4 1457.5 464.2 1457.8 469.6 1458 461.7 1458.3 463.4 1458.6 468.7 1458.9 457 1459.1 469.8 1459.4 478 1459.7 473 1459.9 461.1 1460.2 463.8 1460.5 467.5 1460.7 466.8 1461 460.5 1461.3 470.1 1461.6 463.6 1461.8 460.9 1462.1 468.1 1462.4 467.5 1462.6 470.6 1462.9 463 1463.2 464.1 1463.4 468.2 1463.7 458.1 1464 460.4 1464.3 461.8 1464.5 460.7 1464.8 450.5 1465.1 462.6 1465.3 462.1 1465.6 459.7 1465.9 466.8 1466.1 464.1 1466.4 461.9 1466.7 456.9 1467 466 1467.2 450.4 1467.5 454.6 1467.8 466 1468 472.1 1468.3 466.2 1468.6 462.8 1468.8 456.3 1469.1 463.8 1469.4 461.3 1469.7 466.4 1469.9 464.1 1470.2 463.5 1470.5 466.6 1470.7 464.9 1471 466.7 1471.3 465 1471.5 453.2 1471.8 455.1 1472.1 462 1472.4 463.1 1472.6 467.7 1472.9 463.4 1473.2 462.9 1473.4 474.2 1473.7 457.2 1474 457.5 1474.2 460.2 1474.5 465.3 1474.8 459.6 1475.1 463.8 1475.3 454.7 1475.6 461.5 1475.9 461.1 1476.1 459.6 1476.4 462.5 1476.7 461.5 1476.9 465.9 1477.2 466.1 1477.5 464.1 1477.8 461.3 1478 459.4 1478.3 460.3 1478.6 457.9 1478.8 462.2 1479.1 462.1 1479.4 464.6 1479.6 464.2 1479.9 469.6 1480.2 465.5 1480.5 460.8 1480.7 461.4 1481 463.1 1481.3 464.3 1481.5 462.6 1481.8 463.9 1482.1 465.7 1482.3 464.2 1482.6 463.1 1482.9 458.4 1483.2 461.1 1483.4 463.9 1483.7 465.5 1484 457.7 1484.2 464.1 1484.5 458 1484.8 458.1 1485 462.7 1485.3 463.8 1485.6 473.5 1485.9 459 1486.1 457 1486.4 469.1 1486.7 464.8 1486.9 458.8 1487.2 464.9 1487.5 462 1487.7 463.6 1488 462.1 1488.3 450.3 1488.6 454.5 1488.8 469.3 1489.1 470.1 1489.4 469.1 1489.6 454.9 1489.9 463.1 1490.2 477.5 1490.4 463 1490.7 465.8 1491 461.4 1491.3 464.6 1491.5 467.9 1491.8 467.9 1492.1 464.6 1492.3 464.3 1492.6 463.7 1492.9 462.5 1493.1 461.3 1493.4 461.6 1493.7 459.8 1494 468.2 1494.2 464.5 1494.5 457.8 1494.8 466.9 1495 464.3 1495.3 467.3 1495.6 468.5 1495.8 456.4 1496.1 463.7 1496.4 462.7 1496.7 468.5 1496.9 466.4 1497.2 466.3 1497.5 466.5 1497.7 465.9 1498 465.9 1498.3 475.3 1498.5 463.7 1498.8 464.7 1499.1 453.4 1499.4 462.8 1499.6 463.7 1499.9 464.7 1500.2 465.1 1500.4 460 1500.7 464 1501 463.7 1501.2 464.5 1501.5 461.3 1501.8 464.1 1502.1 467 1502.3 464 1502.6 462.6 1502.9 462.3 1503.1 459.2 1503.4 462.3 1503.7 460.9 1503.9 457.9 1504.2 462.1 1504.5 465.6 1504.8 466.1 1505 461.9 1505.3 470.5 1505.6 463.2 1505.8 464.1 1506.1 466.6 1506.4 475.3 1506.6 474.6 1506.9 469.4 1507.2 462.8 1507.5 468.3 1507.7 472.5 1508 462.4 1508.3 462.1 1508.5 466 1508.8 462.4 1509.1 463.6 1509.3 461.2 1509.6 469.8 1509.9 465.9 1510.2 465.3 1510.4 465 1510.7 467.1 1511 468.9 1511.2 461.8 1511.5 460.5 1511.8 459.1 1512 463.5 1512.3 457.5 1512.6 464.6 1512.9 462.5 1513.1 459.1 1513.4 466.2 1513.7 469 1513.9 474.5 1514.2 469.8 1514.5 458.5 1514.7 467.2 1515 462.9 1515.3 459.8 1515.6 464.7 1515.8 468.3 1516.1 466.4 1516.4 464.6 1516.6 457.2 1516.9 467.1 1517.2 458.2 1517.4 464.6 1517.7 467 1518 466.3 1518.3 459.5 1518.5 476.7 1518.8 464.8 1519.1 463.3 1519.3 465.3 1519.6 467.1 1519.9 468 1520.1 460.9 1520.4 462.3 1520.7 471.6 1521 461.8 1521.2 469.4 1521.5 465.8 1521.8 459.7 1522 462.2 1522.3 465.7 1522.6 458.8 1522.8 462.6 1523.1 468.6 1523.4 463.7 1523.7 463.8 1523.9 463.2 1524.2 464.8 1524.5 462.9 1524.7 463 1525 466.8 1525.3 467 1525.5 466.3 1525.8 469.7 1526.1 466.2 1526.4 456.4 1526.6 467.9 1526.9 463.4 1527.2 464.2 1527.4 468.9 1527.7 462.5 1528 460.9 1528.2 466 1528.5 461.9 1528.8 467.1 1529.1 467.1 1529.3 460.7 1529.6 460.6 1529.9 467.7 1530.1 464.5 1530.4 468.2 1530.7 462.8 1530.9 460 1531.2 461.3 1531.5 464.8 1531.8 463.2 1532 466.8 1532.3 468.1 1532.6 469.4 1532.8 467.4 1533.1 461.3 1533.4 458 1533.6 461.3 1533.9 467.7 1534.2 464.8 1534.5 455.6 1534.7 454.7 1535 460.8 1535.3 456.5 1535.5 462.6 1535.8 466.6 1536.1 462.1 1536.3 468.7 1536.6 461.3 1536.9 459.1 1537.2 461.7 1537.4 462 1537.7 462.7 1538 461.1 1538.2 464.7 1538.5 463.3 1538.8 463.4 1539 466.1 1539.3 465.6 1539.6 473.4 1539.9 459 1540.1 475.5 1540.4 465.4 1540.7 462.2 1540.9 472.1 1541.2 468.4 1541.5 461 1541.7 468.1 1542 463.3 1542.3 470.3 1542.6 459.7 1542.8 464.3 1543.1 462.1 1543.4 466.7 1543.6 459.5 1543.9 460.2 1544.2 461.6 1544.4 463 1544.7 464 1545 457.6 1545.3 459.9 1545.5 459.8 1545.8 465.1 1546.1 459.5 1546.3 455.5 1546.6 462.4 1546.9 460 1547.1 459 1547.4 457.7 1547.7 462.4 1548 466.9 1548.2 468.2 1548.5 457.9 1548.8 465.9 1549 459.2 1549.3 463.5 1549.6 466.5 1549.8 463.1 1550.1 474.8 1550.4 476.8 1550.7 471.6 1550.9 465 1551.2 469.3 1551.5 462.3 1551.7 468.5 1552 468 1552.3 468.2 1552.5 473.8 1552.8 467.4 1553.1 466.3 1553.4 470.3 1553.6 466.1 1553.9 469.1 1554.2 468.7 1554.4 472.8 1554.7 466.5 1555 467.3 1555.2 469.7 1555.5 469.7 1555.8 470 1556.1 453 1556.3 465.6 1556.6 462.9 1556.9 463 1557.1 473.6 1557.4 467.7 1557.7 469.2 1557.9 459.3 1558.2 464.6 1558.5 461.9 1558.8 469.1 1559 467.5 1559.3 471.7 1559.6 462.8 1559.8 466.1 1560.1 461.8 1560.4 463.3 1560.6 466.7 1560.9 463.2 1561.2 467.7 1561.5 463.5 1561.7 465.2 1562 469.4 1562.3 459 1562.5 461.6 1562.8 466.9 1563.1 472.3 1563.3 457 1563.6 463.2 1563.9 464.2 1564.2 463.4 1564.4 460.5 1564.7 466.3 1565 462.9 1565.2 465.8 1565.5 469.9 1565.8 467.1 1566 463.6 1566.3 460 1566.6 458.5 1566.9 464.3 1567.1 462.4 1567.4 467.4 1567.7 458.5 1567.9 468.5 1568.2 461.4 1568.5 459 1568.7 459.9 1569 462.9 1569.3 459.4 1569.6 470.9 1569.8 466.6 1570.1 463.8 1570.4 463.6 1570.6 456.7 1570.9 466.2 1571.2 465.5 1571.4 459.5 1571.7 462.7 1572 467.3 1572.3 463.6 1572.5 460.9 1572.8 473.7 1573.1 467.8 1573.3 461.7 1573.6 466.6 1573.9 463.2 1574.1 471.7 1574.4 456.1 1574.7 466.6 1575 467.1 1575.2 462.5 1575.5 451.6 1575.8 466.9 1576 460.9 1576.3 465.2 1576.6 464.7 1576.8 465.1 1577.1 465.8 1577.4 463.6 1577.7 460.6 1577.9 466 1578.2 468.5 1578.5 465.5 1578.7 457 1579 466.3 1579.3 461.1 1579.5 468.6 1579.8 457.1 1580.1 459.5 1580.4 466.5 1580.6 464 1580.9 461.9 1581.2 461.9 1581.4 461.7 1581.7 464.5 1582 466.3 1582.2 464.7 1582.5 464.2 1582.8 467.9 1583.1 460.4 1583.3 464.7 1583.6 472.4 1583.9 455.6 1584.1 464 1584.4 465.3 1584.7 458.9 1584.9 459.1 1585.2 458.4 1585.5 466.1 1585.8 465.7 1586 467.1 1586.3 464.9 1586.6 466.9 1586.8 467.2 1587.1 464.2 1587.4 467.3 1587.6 462.8 1587.9 466.4 1588.2 464.3 1588.5 458.5 1588.7 468.7 1589 467.1 1589.3 464.4 1589.5 470.1 1589.8 459.7 1590.1 465.1 1590.3 459.6 1590.6 468 1590.9 459 1591.2 465.9 1591.4 460.7 1591.7 461.2 1592 466.3 1592.2 467.7 1592.5 467.7 1592.8 468.3 1593 462.8 1593.3 474.2 1593.6 465 1593.9 466.3 1594.1 463.2 1594.4 480.1 1594.7 468.6 1594.9 464.4 1595.2 472 1595.5 473.6 1595.7 475.3 1596 464.9 1596.3 469.9 1596.6 468 1596.8 472.7 1597.1 471.9 1597.4 467.6 1597.6 469.3 1597.9 463.5 1598.2 463.4 1598.4 470.8 1598.7 463.4 1599 461 1599.3 459.3 1599.5 460.2 1599.8 455.8 1600.1 462.8 1600.3 460.5 1600.6 464.4 1600.9 460.5 1601.1 467.1 1601.4 466.1 1601.7 460.2 1602 457.4 1602.2 459 1602.5 467.3 1602.8 466.4 1603 468.2 1603.3 469.1 1603.6 465.5 1603.8 463.9 1604.1 467.3 1604.4 467.5 1604.7 464.7 1604.9 465.2 1605.2 464.3 1605.5 459.6 1605.7 472.5 1606 465.9 1606.3 465.4 1606.5 472.5 1606.8 457.2 1607.1 463.9 1607.4 465.6 1607.6 467.6 1607.9 464.1 1608.2 463.4 1608.4 463.7 1608.7 465.8 1609 462.6 1609.2 467.6 1609.5 469.3 1609.8 462 1610.1 471.9 1610.3 461.5 1610.6 465.5 1610.9 460.6 1611.1 469.8 1611.4 457.1 1611.7 476 1611.9 463.6 1612.2 460.9 1612.5 463.2 1612.8 461.2 1613 469 1613.3 466.5 1613.6 460.8 1613.8 464.8 1614.1 461.6 1614.4 467.4 1614.6 469.2 1614.9 464.1 1615.2 467.9 1615.5 463.3 1615.7 464.8 1616 455.2 1616.3 467 1616.5 466.4 1616.8 471.6 1617.1 471.8 1617.3 466.8 1617.6 467.8 1617.9 466.5 1618.2 468.1 1618.4 469.6 1618.7 465 1619 464.7 1619.2 469.3 1619.5 465.5 1619.8 464.3 1620 469.8 1620.3 471.1 1620.6 466.2 1620.9 468 1621.1 468.5 1621.4 473.1 1621.7 472.7 1621.9 463.8 1622.2 471.4 1622.5 468.2 1622.7 465.7 1623 469.9 1623.3 470.7 1623.6 472.3 1623.8 470.8 1624.1 465.4 1624.4 469.1 1624.6 466.5 1624.9 458.6 1625.2 466 1625.4 461.4 1625.7 462.6 1626 460.7 1626.3 461.4 1626.5 462 1626.8 454.2 1627.1 466 1627.3 464.4 1627.6 469.5 1627.9 463.6 1628.1 469.7 1628.4 461.2 1628.7 460.4 1629 463.6 1629.2 466.2 1629.5 460.2 1629.8 459.6 1630 465.8 1630.3 467.8 1630.6 469 1630.8 459.5 1631.1 463.2 1631.4 464 1631.7 461.2 1631.9 464.6 1632.2 463.4 1632.5 463.2 1632.7 460.8 1633 447.9 1633.3 460.8 1633.5 468.4 1633.8 456 1634.1 460 1634.4 455.9 1634.6 466.1 1634.9 462.6 1635.2 469.4 1635.4 465.7 1635.7 465.1 1636 469.9 1636.2 464.5 1636.5 467.1 1636.8 471.6 1637.1 468.2 1637.3 466.9 1637.6 467.7 1637.9 463.4 1638.1 470.4 1638.4 468.5 1638.7 463.5 1638.9 468.3 1639.2 463.5 1639.5 465 1639.8 465.6 1640 461.3 1640.3 455.8 1640.6 466 1640.8 463.4 1641.1 459.1 1641.4 463.5 1641.6 465.4 1641.9 464.3 1642.2 465.6 1642.5 467.4 1642.7 469.1 1643 464.1 1643.3 472.7 1643.5 468 1643.8 467.3 1644.1 465.9 1644.3 466.6 1644.6 465.4 1644.9 466 1645.2 460.3 1645.4 462.4 1645.7 463 1646 461.7 1646.2 466.7 1646.5 460.1 1646.8 465.5 1647 465.7 1647.3 475.7 1647.6 463.8 1647.9 465.7 1648.1 459.9 1648.4 463.1 1648.7 459.1 1648.9 460.6 1649.2 464 1649.5 460.5 1649.7 454.2 1650 456.8 1650.3 457.6 1650.6 457.2 1650.8 469 1651.1 461.2 1651.4 463.2 1651.6 460.9 1651.9 459.9 1652.2 461.1 1652.4 462.4 1652.7 463.1 1653 460.1 1653.3 472.7 1653.5 466.7 1653.8 461.2 1654.1 466.7 1654.3 463.8 1654.6 462.5 1654.9 468.4 1655.1 466.6 1655.4 470.2 1655.7 459.6 1656 454.3 1656.2 469.9 1656.5 469.5 1656.8 465.4 1657 470.1 1657.3 469 1657.6 470.1 1657.8 469.2 1658.1 462.7 1658.4 463.4 1658.7 463.1 1658.9 460.3 1659.2 466.2 1659.5 455 1659.7 463.6 1660 459.3 1660.3 464.9 1660.5 466 1660.8 463.6 1661.1 464.7 1661.4 465.6 1661.6 456.1 1661.9 463.7 1662.2 457.8 1662.4 466.4 1662.7 466.3 1663 466.2 1663.2 469.8 1663.5 466.2 1663.8 473.1 1664.1 470.4 1664.3 469.9 1664.6 466 1664.9 466.8 1665.1 468.4 1665.4 467.5 1665.7 472.7 1665.9 467.7 1666.2 468.6 1666.5 466.3 1666.8 461.8 1667 463.1 1667.3 462.7 1667.6 462.2 1667.8 468.4 1668.1 468.5 1668.4 463.6 1668.6 468.2 1668.9 459.8 1669.2 450.3 1669.5 458 1669.7 464.6 1670 461.4 1670.3 465.5 1670.5 466.1 1670.8 462.4 1671.1 470.2 1671.3 460.8 1671.6 468.1 1671.9 465.9 1672.2 462.8 1672.4 467.5 1672.7 465.6 1673 473.8 1673.2 467.6 1673.5 461.4 1673.8 467.2 1674 463.8 1674.3 458.8 1674.6 461.7 1674.9 468.9 1675.1 465.4 1675.4 468.3 1675.7 462.9 1675.9 460.5 1676.2 462.3 1676.5 462.4 1676.7 463.4 1677 467.7 1677.3 466.3 1677.6 477.2 1677.8 458.8 1678.1 464.4 1678.4 466.5 1678.6 461.5 1678.9 465.2 1679.2 462.8 1679.4 473.9 1679.7 462.7 1680 473.6 1680.3 460.3 1680.5 466.1 1680.8 467.3 1681.1 467.4 1681.3 456 1681.6 464.7 1681.9 464.3 1682.1 459.8 1682.4 463.7 1682.7 463.3 1683 464.3 1683.2 459 1683.5 476.5 1683.8 466.8 1684 469.5 1684.3 465.9 1684.6 466.4 1684.8 456.4 1685.1 465.8 1685.4 464.3 1685.7 474.1 1685.9 465.9 1686.2 465.3 1686.5 465.1 1686.7 463.5 1687 459.6 1687.3 463.4 1687.5 463.7 1687.8 473.3 1688.1 465.9 1688.4 463.3 1688.6 468.6 1688.9 460.2 1689.2 464.8 1689.4 467.7 1689.7 471.1 1690 457.5 1690.2 464.4 1690.5 465.8 1690.8 461.1 1691.1 457.8 1691.3 460.1 1691.6 460.8 1691.9 463.5 1692.1 467.4 1692.4 467.8 1692.7 460.4 1692.9 466.1 1693.2 464.8 1693.5 456.4 1693.8 465 1694 465.2 1694.3 472.4 1694.6 466.1 1694.8 459.8 1695.1 470.1 1695.4 471.1 1695.6 464.9 1695.9 468.2 1696.2 457 1696.5 470.1 1696.7 468.6 1697 465.2 1697.3 463.4 1697.5 467.5 1697.8 454.8 1698.1 464.5 1698.3 465.9 1698.6 466.6 1698.9 465.7 1699.2 474.9 1699.4 462.7 1699.7 462.7 1700 470.9 1700.2 469.6" fill="none" stroke="#000" stroke-width="0.85" stroke-linejoin="round"/>
<path d="M92.8 1069.5 93 1070.7 93.3 1072.1 93.6 1072.7 93.8 1073.2 94 1071.3 94.3 1073 94.6 1075.2 94.8 1074 95 1073.1 95.3 1071.8 95.6 1071.7 95.8 1072.1 96 1070.8 96.3 1069.7 96.6 1069.4 96.8 1070.4 97 1073 97.3 1073.7 97.6 1073.6 97.8 1072.8 98 1072 98.3 1070.7 98.6 1071.6 98.8 1072.4 99 1070.8 99.3 1070 99.6 1071.4 99.8 1071.1 100 1072.2 100.3 1071.5 100.6 1070.8 100.8 1070.8 101 1071.4 101.3 1072.6 101.6 1073.2 101.8 1073.3 102 1072.6 102.3 1072.3 102.6 1072.4 102.8 1071.4 103 1070.8 103.3 1071.1 103.6 1070.5 103.8 1069.2 104 1070 104.3 1071.8 104.6 1071.8 104.8 1071.5 105 1072.1 105.3 1072.8 105.6 1073.6 105.8 1073.2 106 1072.4 106.3 1072.4 106.6 1071.6 106.8 1070.6 107 1072.7 107.3 1071.6 107.6 1072.1 107.8 1071.3 108 1071.3 108.3 1072.6 108.6 1071.2 108.8 1070 109 1069.1 109.3 1071.3 109.6 1071.1 109.8 1071 110 1072.4 110.3 1070.9 110.6 1069 110.8 1070.9 111 1070.4 111.3 1070 111.6 1069.7 111.8 1069.2 112 1070.3 112.3 1071.7 112.6 1073.2 112.8 1073.3 113 1072.3 113.3 1073.5 113.6 1072.9 113.8 1073.4 114 1072.7 114.3 1071.2 114.6 1069.7 114.8 1071.6 115 1070.8 115.3 1071.2 115.6 1069.3 115.8 1068.2 116 1068.6 116.3 1069.1 116.6 1070.1 116.8 1071.9 117 1072.7 117.3 1073.1 117.6 1073.6 117.8 1073.3 118 1072.8 118.3 1072.7 118.6 1073.4 118.8 1071.6 119 1069.4 119.3 1070.6 119.6 1072.8 119.8 1071.9 120 1071.7 120.3 1073 120.6 1072.5 120.8 1072.1 121 1072.6 121.3 1073.7 121.6 1073 121.8 1072.4 122 1072.1 122.3 1071.4 122.6 1072.3 122.8 1074 123 1073.3 123.3 1073.2 123.6 1071.7 123.8 1071.1 124 1071 124.3 1072.1 124.6 1073 124.8 1071.8 125 1070.9 125.3 1070.6 125.6 1072.7 125.8 1073.3 126 1073 126.3 1073.6 126.6 1073.1 126.8 1071.4 127 1070 127.3 1070.7 127.6 1071 127.8 1072.3 128 1072.9 128.3 1071.2 128.6 1070.3 128.8 1072.8 129 1073.6 129.3 1072.8 129.6 1070.7 129.8 1071.3 130 1073.1 130.3 1073.7 130.6 1072.5 130.8 1070.7 131 1072.7 131.3 1071.6 131.6 1071.3 131.8 1072.3 132 1071.5 132.3 1071.2 132.6 1071.8 132.8 1071.8 133 1071.7 133.3 1071 133.6 1070.4 133.8 1070.8 134 1071.2 134.3 1071.7 134.6 1073.1 134.8 1073.6 135 1071.3 135.3 1071.7 135.6 1071.9 135.8 1070.7 136 1070.8 136.3 1071.2 136.6 1071.4 136.8 1071.3 137 1071.6 137.3 1072.1 137.6 1070.9 137.8 1072.3 138 1073.2 138.3 1072.3 138.6 1070 138.8 1069.5 139 1070.5 139.3 1070.6 139.6 1071.1 139.8 1072.5 140 1071.7 140.3 1073 140.6 1074.3 140.8 1074.9 141 1075.2 141.3 1074 141.6 1072.1 141.8 1070.4 142 1071 142.3 1072.1 142.6 1074 142.8 1073.5 143 1071.8 143.3 1070.1 143.6 1070 143.8 1071.2 144 1072.5 144.3 1073.3 144.6 1072.9 144.8 1072.6 145 1072.5 145.3 1070.8 145.6 1070.6 145.8 1071 146 1072 146.3 1072.4 146.6 1071.1 146.8 1069.9 147 1070.9 147.3 1070.8 147.6 1071.1 147.8 1070.3 148 1072.8 148.3 1072.2 148.6 1073.7 148.8 1073.9 149 1074.1 149.3 1073.3 149.6 1071.3 149.8 1070.6 150 1070.3 150.3 1070.8 150.6 1072.3 150.8 1071 151 1070.2 151.3 1069.6 151.6 1070.8 151.8 1071.1 152 1073.8 152.3 1072.5 152.6 1071.7 152.8 1071.8 153 1070.8 153.3 1070.9 153.6 1071.6 153.8 1072.2 154 1072.4 154.3 1071.1 154.6 1069.2 154.8 1070.1 155 1070.4 155.3 1071 155.6 1071.7 155.8 1072.5 156 1073.8 156.3 1071.8 156.6 1070.6 156.8 1071.4 157 1072.3 157.3 1073 157.6 1071.7 157.8 1072.2 158 1072.4 158.3 1072.1 158.6 1072 158.8 1071.4 159 1070.1 159.3 1070.6 159.6 1072.3 159.8 1073.8 160 1073.4 160.3 1072.5 160.6 1072.3 160.8 1072.4 161 1072.7 161.3 1072.3 161.6 1070.3 161.8 1071.6 162 1074.3 162.3 1073.4 162.6 1071.6 162.8 1071 163 1071 163.3 1070 163.6 1070.7 163.8 1072.6 164 1073.1 164.3 1072.5 164.6 1071.9 164.8 1071 165 1069.8 165.3 1070 165.6 1070.6 165.8 1070.9 166 1070.1 166.3 1070.7 166.6 1072.6 166.8 1072.3 167 1072.6 167.3 1071.7 167.6 1070.6 167.8 1070.4 168 1070.4 168.3 1072.4 168.6 1073.2 168.8 1072.9 169 1072 169.3 1071 169.6 1070.9 169.8 1072 170 1071.5 170.3 1070.8 170.6 1070.9 170.8 1071.1 171 1070.9 171.3 1071.6 171.6 1072.7 171.8 1072.6 172 1071.2 172.3 1071.4 172.6 1070.8 172.8 1069.4 173 1069.3 173.3 1071.8 173.6 1073.5 173.8 1072.7 174 1073 174.3 1073.3 174.6 1071.5 174.8 1068.5 175 1067.8 175.3 1066.2 175.6 1064.8 175.8 1066.2 176 1066.2 176.3 1067.3 176.6 1066.9 176.8 1067.1 177 1067.6 177.3 1068.9 177.6 1070.5 177.8 1070.7 178 1070.7 178.3 1070.7 178.6 1071 178.8 1070.1 179 1071 179.3 1071.5 179.6 1071.2 179.8 1072.3 180 1071.2 180.3 1069.6 180.6 1070.5 180.8 1071.6 181 1070.7 181.3 1069.4 181.6 1070.7 181.8 1070.5 182 1070 182.3 1069.3 182.6 1072.7 182.8 1073.5 183 1071 183.3 1069.3 183.6 1071.5 183.8 1073.8 184 1074 184.3 1073.4 184.6 1070.7 184.8 1071.6 185 1070.7 185.3 1070.4 185.6 1071.4 185.8 1070.6 186 1068.5 186.3 1067.6 186.6 1068.9 186.8 1070.3 187 1072.4 187.3 1070.8 187.6 1071.3 187.8 1070.7 188 1071.9 188.3 1072.2 188.6 1072.2 188.8 1071.4 189 1070.9 189.3 1069.4 189.6 1069.1 189.8 1071.7 190 1072.5 190.3 1071.6 190.6 1071.5 190.8 1068.8 191 1068.2 191.3 1068.2 191.6 1068.5 191.8 1067.4 192 1068.3 192.3 1069.4 192.6 1069.8 192.8 1069.1 193 1069.3 193.3 1066.7 193.6 1067.3 193.8 1067.6 194 1064.6 194.3 1064.4 194.6 1065.1 194.8 1065.7 195 1064.1 195.3 1061.2 195.6 1060.2 195.8 1060.2 196 1060.8 196.3 1059.9 196.6 1056.3 196.8 1052.4 197 1049.8 197.3 1048.7 197.6 1044.8 197.8 1036.5 198 1025.9 198.3 1013.2 198.6 995.8 198.8 970.1 199 939.2 199.3 900.2 199.6 852.9 199.8 802.7 200 750.3 200.3 703.4 200.6 668.2 200.8 657 201 668.5 201.3 703.4 201.6 751.6 201.8 803.4 202 855 202.3 901.4 202.6 941 202.8 973.3 203 996.3 203.3 1015.9 203.6 1030.2 203.8 1038.1 204 1042.9 204.3 1048.3 204.6 1052.6 204.8 1054.3 205 1053.4 205.3 1055.2 205.6 1060.1 205.8 1061.7 206 1061.9 206.3 1062.5 206.6 1064.5 206.8 1066 207 1065.6 207.3 1064.6 207.6 1066.3 207.8 1068.2 208 1066.7 208.3 1066.2 208.6 1067.7 208.8 1067.3 209 1068.3 209.3 1070.4 209.6 1069.8 209.8 1068.2 210 1069.7 210.3 1071 210.6 1071.1 210.8 1069.9 211 1070.2 211.3 1070.9 211.6 1068 211.8 1067.6 212 1068.7 212.3 1070.7 212.6 1071.2 212.8 1071 213 1071.1 213.3 1069.7 213.6 1069.1 213.8 1068.9 214 1067.6 214.3 1068.2 214.6 1070.1 214.8 1070.1 215 1070.1 215.3 1071.7 215.6 1071.7 215.8 1071 216 1071.3 216.3 1072.9 216.6 1073.5 216.8 1070.7 217 1070.1 217.3 1070.3 217.6 1070.5 217.8 1069.6 218 1070.8 218.3 1072.4 218.6 1070.7 218.8 1069.6 219 1071 219.3 1071.2 219.6 1070.3 219.8 1071.1 220 1070.5 220.3 1070.4 220.6 1069 220.8 1066.6 221 1064.9 221.3 1063.9 221.6 1060.9 221.8 1059.7 222 1061.3 222.3 1059.7 222.6 1060.4 222.8 1062.2 223 1063.7 223.3 1064.1 223.6 1066 223.8 1068.8 224 1069.1 224.3 1068.3 224.6 1070.8 224.8 1071.6 225 1070.4 225.3 1070.2 225.6 1073.4 225.8 1074.5 226 1071 226.3 1069.9 226.6 1073.2 226.8 1072.8 227 1072.4 227.3 1072 227.6 1070.7 227.8 1070.7 228 1071 228.3 1071.6 228.6 1071.8 228.8 1073 229 1072.6 229.3 1072.7 229.6 1070.9 229.8 1071.4 230 1071.7 230.3 1071.1 230.6 1071.9 230.8 1072.5 231 1074.2 231.3 1074 231.6 1072.4 231.8 1071.4 232 1072.3 232.3 1073.5 232.6 1072.7 232.8 1071.6 233 1070.5 233.3 1069.9 233.6 1072 233.8 1071.6 234 1071.9 234.3 1072 234.6 1071.1 234.8 1071.4 235 1072.7 235.3 1073.7 235.6 1072.3 235.8 1071.7 236 1071.6 236.3 1071.8 236.6 1072.3 236.8 1071 237 1071.4 237.3 1072.2 237.6 1073.1 237.8 1072.6 238 1071.2 238.3 1070.7 238.6 1070.3 238.8 1071.2 239 1071.1 239.3 1070.3 239.6 1072.5 239.8 1074.7 240 1073 240.3 1071.4 240.6 1071.6 240.8 1073.1 241 1072.1 241.3 1070.6 241.6 1070.3 241.8 1071.5 242 1069.8 242.3 1071.1 242.6 1071.6 242.8 1072.8 243 1072.1 243.3 1071.8 243.6 1072.6 243.8 1071.3 244 1072.6 244.3 1072.1 244.6 1069.2 244.8 1069.5 245 1070.2 245.3 1071 245.6 1071.7 245.8 1072 246 1072.3 246.3 1070.9 246.6 1069 246.8 1068.1 247 1069.3 247.3 1070.2 247.6 1070.8 247.8 1072.1 248 1071.3 248.3 1069.6 248.6 1070.1 248.8 1072 249 1074.7 249.3 1073.5 249.6 1072 249.8 1072.7 250 1072.8 250.3 1071.8 250.6 1073.1 250.8 1072 251 1073.2 251.3 1074.3 251.6 1073.1 251.8 1072.5 252 1071.7 252.3 1073.6 252.6 1074.5 252.8 1075.2 253 1073.8 253.3 1071.5 253.6 1070.5 253.8 1070.4 254 1071.3 254.3 1072.5 254.6 1070.1 254.8 1069.4 255 1069.6 255.3 1069.3 255.6 1070.4 255.8 1072.3 256 1071.8 256.3 1071.8 256.6 1071.8 256.8 1072.7 257 1073.5 257.3 1073 257.6 1072 257.8 1070.6 258 1070.2 258.3 1071.9 258.6 1072.9 258.8 1073.2 259 1072.2 259.3 1070.8 259.6 1070.9 259.8 1072 260 1071.1 260.3 1069.9 260.6 1069.4 260.8 1070.5 261 1072.5 261.3 1073.4 261.6 1074.1 261.8 1073.3 262 1073 262.3 1073.8 262.6 1073.7 262.8 1071.1 263 1068.6 263.3 1070.2 263.6 1071.4 263.8 1073.1 264 1072.3 264.3 1070.6 264.6 1070.2 264.8 1072.2 265 1072.6 265.3 1070.6 265.6 1071.2 265.8 1071.2 266 1072.6 266.3 1073.7 266.6 1071.3 266.8 1072.6 267 1073.9 267.3 1071.9 267.6 1069.2 267.8 1067.8 268 1069.7 268.3 1071.3 268.6 1071.2 268.8 1071.9 269 1069 269.3 1069.3 269.6 1071.6 269.8 1072.1 270 1072.6 270.3 1072 270.6 1070.7 270.8 1071.4 271 1073.2 271.3 1073 271.6 1073.3 271.8 1073.1 272 1073.5 272.3 1072.6 272.6 1071 272.8 1070.6 273 1072.2 273.3 1070.9 273.6 1070.2 273.8 1072.7 274 1072.6 274.3 1071.6 274.6 1070.7 274.8 1072 275 1071.3 275.3 1069.9 275.6 1070 275.8 1070.7 276 1072.8 276.3 1072 276.6 1072.6 276.8 1074.1 277 1074.3 277.3 1071.5 277.6 1070.7 277.8 1072.8 278 1074.1 278.3 1074.9 278.6 1073.2 278.8 1074.1 279 1073.9 279.3 1071.3 279.6 1068.5 279.8 1070.6 280 1070.7 280.3 1069.7 280.6 1071.6 280.8 1070.9 281 1070.3 281.3 1071.7 281.6 1073.9 281.8 1075.1 282 1074.2 282.3 1073 282.6 1071.8 282.8 1069.7 283 1070 283.3 1071.2 283.6 1071.5 283.8 1071.8 284 1074.1 284.3 1073.8 284.6 1072.1 284.8 1073 285 1073.7 285.3 1075.5 285.6 1074.8 285.8 1073.8 286 1073.5 286.3 1073.6 286.6 1073.4 286.8 1074.2 287 1072.1 287.3 1070.2 287.6 1071.6 287.8 1072.2 288 1070 288.3 1069.5 288.6 1071.6 288.8 1073.6 289 1072.3 289.3 1069.4 289.6 1071.4 289.8 1071.4 290 1071 290.3 1072.7 290.6 1074.2 290.8 1071.3 291 1070.3 291.3 1069.5 291.6 1071.8 291.8 1072.7 292 1072.6 292.3 1072.1 292.6 1070.7 292.8 1071.2 293 1071.2 293.3 1071.1 293.6 1072.7 293.8 1072.5 294 1071.1 294.3 1071.8 294.6 1072.6 294.8 1072.6 295 1072.7 295.3 1072.1 295.6 1071 295.8 1069.9 296 1070.4 296.3 1071.6 296.6 1071.4 296.8 1070.4 297 1071.3 297.3 1072.9 297.6 1073.8 297.8 1073.1 298 1072.4 298.3 1072.1 298.6 1070.4 298.8 1071.2 299 1071.7 299.3 1073.1 299.6 1071.5 299.8 1073 300 1074.1 300.3 1071.8 300.6 1070.9 300.8 1071.3 301 1071 301.3 1070.2 301.6 1070.9 301.8 1072.6 302 1072.3 302.3 1070.5 302.6 1070.2 302.8 1071.6 303 1072.3 303.3 1072.1 303.6 1072.8 303.8 1074.6 304 1074.2 304.3 1072.9 304.6 1072.1 304.8 1073.4 305 1072.3 305.3 1071 305.6 1069.3 305.8 1071 306 1069.9 306.3 1070.8 306.6 1072.5 306.8 1071.5 307 1071 307.3 1072.7 307.6 1073.3 307.8 1072.7 308 1072.1 308.3 1070.7 308.6 1071.1 308.8 1070.2 309 1069.1 309.3 1070.8 309.6 1070.8 309.8 1070.8 310 1071.2 310.3 1071.4 310.6 1071.9 310.8 1071.2 311 1071.4 311.3 1070.9 311.6 1071.4 311.8 1071.5 312 1072.8 312.3 1073.9 312.6 1072.1 312.8 1071.1 313 1069.5 313.3 1069.5 313.6 1070.7 313.8 1070.8 314 1068.5 314.3 1068.6 314.6 1068.7 314.8 1065.5 315 1065 315.3 1063.6 315.6 1062 315.8 1056.7 316 1052.1 316.3 1050.4 316.6 1047.4 316.8 1044.3 317 1043.9 317.3 1043.4 317.6 1045.7 317.8 1048.6 318 1052.5 318.3 1057.2 318.6 1060.9 318.8 1064.5 319 1064.7 319.3 1065 319.6 1064.3 319.8 1066.3 320 1066.6 320.3 1066.7 320.6 1067.2 320.8 1066.5 321 1065.8 321.3 1066.8 321.6 1066 321.8 1065.1 322 1065.4 322.3 1063.1 322.6 1061.1 322.8 1057.3 323 1050.9 323.3 1043.6 323.6 1033.4 323.8 1020.6 324 1007.7 324.3 994.6 324.6 979.7 324.8 969.1 325 962.5 325.3 962.5 325.6 972.7 325.8 987.5 326 1002.4 326.3 1017.1 326.6 1029.6 326.8 1039.7 327 1049.7 327.3 1056.6 327.6 1058.6 327.8 1061 328 1063.8 328.3 1065.7 328.6 1066.1 328.8 1067.3 329 1066.6 329.3 1065.5 329.6 1065.1 329.8 1067.6 330 1068.4 330.3 1066.9 330.6 1066.5 330.8 1065.3 331 1064.9 331.3 1065.8 331.6 1062.8 331.8 1057.5 332 1055.7 332.3 1052.7 332.6 1049.3 332.8 1044.2 333 1040.1 333.3 1038 333.6 1039.4 333.8 1042.1 334 1045.8 334.3 1051.8 334.6 1055.8 334.8 1059.9 335 1062.7 335.3 1062.9 335.6 1065 335.8 1066.4 336 1067 336.3 1067.4 336.6 1068.5 336.8 1067.9 337 1068.4 337.3 1068.9 337.6 1069.2 337.8 1069.9 338 1070.5 338.3 1071.7 338.6 1072.9 338.8 1070.7 339 1070.1 339.3 1070.7 339.6 1071.9 339.8 1069.2 340 1069.4 340.3 1071.7 340.6 1071.3 340.8 1070.1 341 1071.5 341.3 1070.1 341.6 1070.3 341.8 1073 342 1073.8 342.3 1073.2 342.6 1072.4 342.8 1072.2 343 1071.7 343.3 1072.7 343.6 1070.6 343.8 1072.1 344 1073 344.3 1070.9 344.6 1071.1 344.8 1072.7 345 1074.3 345.3 1074.1 345.6 1073.5 345.8 1072.4 346 1072.7 346.3 1073.3 346.6 1073.2 346.8 1071 347 1071.5 347.3 1071.7 347.6 1072.1 347.8 1073.5 348 1072 348.3 1072.4 348.6 1072.6 348.8 1072.4 349 1070.8 349.3 1071.1 349.6 1074.3 349.8 1074 350 1072 350.3 1071.1 350.6 1071.7 350.8 1071.8 351 1071.8 351.3 1072.8 351.6 1072.5 351.8 1072 352 1072 352.3 1071.6 352.6 1072.5 352.8 1071.8 353 1070.1 353.3 1071.7 353.6 1071.6 353.8 1071.9 354 1072.6 354.3 1072.3 354.6 1071.9 354.8 1071 355 1072.7 355.3 1072.6 355.6 1073.3 355.8 1072.7 356 1072.8 356.3 1073.7 356.6 1073.3 356.8 1072.6 357 1073.3 357.3 1074.4 357.6 1072.5 357.8 1071.5 358 1071.5 358.3 1070 358.6 1070.5 358.8 1070.3 359 1069.2 359.3 1067.2 359.6 1069.1 359.8 1068.9 360 1068.1 360.3 1069.2 360.6 1068.2 360.8 1067.2 361 1067.9 361.3 1069.4 361.6 1070.1 361.8 1070.6 362 1070.9 362.3 1072.1 362.6 1072.3 362.8 1071.5 363 1072.5 363.3 1071.7 363.6 1072.8 363.8 1073.2 364 1072.1 364.3 1071.1 364.6 1071.4 364.8 1073.3 365 1071.1 365.3 1071.3 365.6 1072.4 365.8 1073.7 366 1073.3 366.3 1072 366.6 1072.1 366.8 1074.2 367 1072.5 367.3 1071.9 367.6 1073.6 367.8 1072 368 1071 368.3 1072.1 368.6 1071 368.8 1069.3 369 1070.9 369.3 1071.7 369.6 1070.4 369.8 1071.8 370 1073.2 370.3 1071.7 370.6 1070.3 370.8 1071 371 1072.4 371.3 1072 371.6 1072.3 371.8 1071.8 372 1071.5 372.3 1073.5 372.6 1074.1 372.8 1071.7 373 1072.2 373.3 1072.8 373.6 1072.7 373.8 1073.2 374 1075.2 374.3 1076 374.6 1073.7 374.8 1072.8 375 1073 375.3 1071.7 375.6 1071.6 375.8 1073.2 376 1073.9 376.3 1073.3 376.6 1072.2 376.8 1069.7 377 1070.3 377.3 1072 377.6 1072.6 377.8 1071.5 378 1072.4 378.3 1072.6 378.6 1072.8 378.8 1072.6 379 1073.2 379.3 1072.6 379.6 1073.6 379.8 1072.6 380 1072.3 380.3 1070.9 380.6 1071.1 380.8 1071.5 381 1069.9 381.3 1071.6 381.6 1073.7 381.8 1076.1 382 1074.4 382.3 1074.4 382.6 1072.8 382.8 1072.3 383 1073.8 383.3 1074.2 383.6 1074.1 383.8 1071.2 384 1070.8 384.3 1073.7 384.6 1074.9 384.8 1074.4 385 1073.4 385.3 1073.8 385.6 1072.8 385.8 1071.9 386 1071.5 386.3 1070.9 386.6 1073.2 386.8 1073.5 387 1071.4 387.3 1070.6 387.6 1072.8 387.8 1073.1 388 1070.3 388.3 1071.1 388.6 1072.4 388.8 1074.6 389 1074.4 389.3 1071.4 389.6 1070.4 389.8 1070.1 390 1071.8 390.3 1073.2 390.6 1073.1 390.8 1070 391 1069.7 391.3 1072 391.6 1072.4 391.8 1071.6 392 1072.2 392.3 1072.8 392.6 1073.1 392.8 1075 393 1075.3 393.3 1073.6 393.6 1071.8 393.8 1070.7 394 1071.2 394.3 1070.3 394.6 1068.5 394.8 1070.9 395 1072.5 395.3 1071.6 395.6 1069.7 395.8 1070 396 1072.4 396.3 1073 396.6 1070.9 396.8 1069.8 397 1070.8 397.3 1072.8 397.6 1074.8 397.8 1074.2 398 1072.8 398.3 1071.7 398.6 1071.5 398.8 1071.3 399 1072.9 399.3 1072.4 399.6 1071.3 399.8 1072.7 400 1074 400.3 1071.7 400.6 1070.6 400.8 1071.4 401 1072.2 401.3 1072.6 401.6 1072.7 401.8 1073.2 402 1072.8 402.3 1073.5 402.6 1073.9 402.8 1071.2 403 1070.6 403.3 1071.6 403.6 1070.9 403.8 1072.1 404 1074.4 404.3 1071.8 404.6 1071.1 404.8 1072.5 405 1071.8 405.3 1070.4 405.6 1072.5 405.8 1073.9 406 1072.8 406.3 1072.7 406.6 1071.8 406.8 1070.7 407 1071 407.3 1072.7 407.6 1072.2 407.8 1070.8 408 1072.7 408.3 1073.1 408.6 1073.3 408.8 1072.8 409 1070.4 409.3 1070.6 409.6 1070.7 409.8 1070.8 410 1071.7 410.3 1072.4 410.6 1072.8 410.8 1073.9 411 1072.8 411.3 1075 411.6 1074.2 411.8 1074.5 412 1073 412.3 1071.2 412.6 1071.2 412.8 1071.5 413 1072.7 413.3 1072.1 413.6 1071.6 413.8 1074.5 414 1073.3 414.3 1070 414.6 1070 414.8 1071 415 1071.8 415.3 1071.8 415.6 1072 415.8 1072.9 416 1070.8 416.3 1071.7 416.6 1072.5 416.8 1073 417 1071.6 417.3 1072 417.6 1073.8 417.8 1072.5 418 1071.4 418.3 1070.8 418.6 1070.1 418.8 1068.8 419 1068.7 419.3 1069.8 419.6 1071 419.8 1071.6 420 1070.4 420.3 1070 420.6 1070.1 420.8 1069.7 421 1070.4 421.3 1071 421.6 1068.9 421.8 1067.7 422 1068.3 422.3 1068.6 422.6 1068.1 422.8 1070 423 1071.5 423.3 1070.7 423.6 1070.4 423.8 1069.9 424 1068.2 424.3 1066.3 424.6 1064.3 424.8 1061.1 425 1059 425.3 1057 425.6 1053.2 425.8 1048.7 426 1042.8 426.3 1033 426.6 1021.2 426.8 1007.8 427 988.8 427.3 970.1 427.6 952.9 427.8 937.3 428 928.5 428.3 926.8 428.6 935.8 428.8 948.9 429 964.5 429.3 984.3 429.6 1002.9 429.8 1017.9 430 1031 430.3 1040.8 430.6 1049 430.8 1054.7 431 1059.7 431.3 1062.6 431.6 1064.9 431.8 1065.8 432 1065.4 432.3 1066.2 432.6 1067.9 432.8 1069.4 433 1068.7 433.3 1067.8 433.6 1070 433.8 1070.7 434 1070.8 434.3 1069 434.6 1068.7 434.8 1068.7 435 1069.2 435.3 1071.5 435.6 1070.5 435.8 1069.1 436 1068.6 436.3 1069.9 436.6 1072.1 436.8 1073.1 437 1072.3 437.3 1071.1 437.6 1070.5 437.8 1068.7 438 1068.9 438.3 1070.7 438.6 1071.6 438.8 1071.5 439 1071.5 439.3 1070.9 439.6 1071 439.8 1071.4 440 1071 440.3 1070.8 440.6 1071.8 440.8 1073.1 441 1072.2 441.3 1073.6 441.6 1072.1 441.8 1073.1 442 1074.2 442.3 1073.9 442.6 1071 442.8 1068.3 443 1069.9 443.3 1072.8 443.6 1074.7 443.8 1072.8 444 1072.7 444.3 1073.6 444.6 1074.7 444.8 1074.4 445 1074.2 445.3 1071.5 445.6 1070.1 445.8 1071.1 446 1071.4 446.3 1072.7 446.6 1072.8 446.8 1072.9 447 1071.2 447.3 1071 447.6 1071.9 447.8 1073.2 448 1072.4 448.3 1072.7 448.6 1073.7 448.8 1072 449 1072.1 449.3 1072.9 449.6 1070.7 449.8 1072.5 450 1072.2 450.3 1072 450.6 1072.3 450.8 1072.5 451 1072.8 451.3 1073 451.6 1069.4 451.8 1068.8 452 1070.8 452.3 1070.4 452.6 1071 452.8 1071.4 453 1071.9 453.3 1071.6 453.6 1069.2 453.8 1070.7 454 1073.2 454.3 1071.9 454.6 1072.3 454.8 1075 455 1073.2 455.3 1071.4 455.6 1072.6 455.8 1072.5 456 1071.3 456.3 1072.4 456.6 1071.3 456.8 1070.1 457 1072.5 457.3 1073.5 457.6 1073.2 457.8 1072.6 458 1071.4 458.3 1070.9 458.6 1071.2 458.8 1073.1 459 1073.9 459.3 1074.6 459.6 1073.2 459.8 1071.5 460 1070.7 460.3 1070.4 460.6 1071.8 460.8 1074.2 461 1070.5 461.3 1069.3 461.6 1070.1 461.8 1072.6 462 1072.6 462.3 1072.4 462.6 1072.9 462.8 1072.2 463 1073.2 463.3 1074.3 463.6 1072.7 463.8 1072.2 464 1073 464.3 1073.6 464.6 1073.3 464.8 1072.3 465 1072.5 465.3 1072.8 465.6 1073.3 465.8 1072.1 466 1071.3 466.3 1070.6 466.6 1070.9 466.8 1071.3 467 1072.7 467.3 1073.5 467.6 1072.9 467.8 1074.2 468 1073.2 468.3 1073.8 468.6 1073.1 468.8 1071.7 469 1071.1 469.3 1070.5 469.6 1072.8 469.8 1074.6 470 1074 470.3 1074.4 470.6 1072.8 470.8 1071.9 471 1071.9 471.3 1071.8 471.6 1073.1 471.8 1074.4 472 1072.7 472.3 1071.5 472.6 1072.2 472.8 1073 473 1071.4 473.3 1069.5 473.6 1070.8 473.8 1073.3 474 1072.9 474.3 1073.3 474.6 1072 474.8 1071.1 475 1072.1 475.3 1072.9 475.6 1071.2 475.8 1069.9 476 1070.4 476.3 1071.1 476.6 1072.1 476.8 1070.4 477 1069.2 477.3 1069.2 477.6 1070.4 477.8 1070.5 478 1070.7 478.3 1071.3 478.6 1072 478.8 1074.4 479 1073.6 479.3 1071.5 479.6 1072.6 479.8 1071.5 480 1070.5 480.3 1069.4 480.6 1070.6 480.8 1071.5 481 1070.9 481.3 1070.4 481.6 1070.5 481.8 1069 482 1066.3 482.3 1066.4 482.6 1066.2 482.8 1064.9 483 1065 483.3 1061.4 483.6 1056.7 483.8 1052.2 484 1046.5 484.3 1038.6 484.6 1029.7 484.8 1021 485 1014.9 485.3 1007 485.6 1000.3 485.8 999.4 486 999.8 486.3 1002.4 486.6 1008.4 486.8 1017.3 487 1023.3 487.3 1027.7 487.6 1031.6 487.8 1034.5 488 1037.9 488.3 1041.9 488.6 1043.2 488.8 1046.1 489 1050.2 489.3 1051.4 489.6 1054.7 489.8 1057.9 490 1060.3 490.3 1061.3 490.6 1063.4 490.8 1065.1 491 1067 491.3 1068.8 491.6 1069.7 491.8 1068.7 492 1067.6 492.3 1067.3 492.6 1068.6 492.8 1071.4 493 1071.6 493.3 1070.6 493.6 1069.1 493.8 1067.6 494 1068.6 494.3 1067.2 494.6 1065.1 494.8 1064.4 495 1064.4 495.3 1063.2 495.6 1063.2 495.8 1060.5 496 1055.7 496.3 1050.2 496.6 1043 496.8 1032.7 497 1024.6 497.3 1017.6 497.6 1008.6 497.8 1000.4 498 997.6 498.3 996.2 498.6 998.2 498.8 1005 499 1011.4 499.3 1016.1 499.6 1022.3 499.8 1028 500 1032.1 500.3 1035.7 500.6 1037.9 500.8 1041.7 501 1046.7 501.3 1051.1 501.6 1055.6 501.8 1056.8 502 1059.1 502.3 1062.3 502.6 1064.8 502.8 1066.6 503 1068.5 503.3 1069 503.6 1069.5 503.8 1069.3 504 1070.6 504.3 1070.1 504.6 1069.1 504.8 1071.4 505 1071.6 505.3 1070.2 505.6 1071.4 505.8 1072.6 506 1072 506.3 1072.7 506.6 1072.1 506.8 1072.8 507 1071.2 507.3 1068.5 507.6 1070.3 507.8 1071.3 508 1071.7 508.3 1071.6 508.6 1072.9 508.8 1072.6 509 1071.9 509.3 1071.7 509.6 1071.4 509.8 1071.1 510 1071.6 510.3 1070.7 510.6 1070.4 510.8 1070.9 511 1073.4 511.3 1073.7 511.6 1071.6 511.8 1070.7 512 1069.5 512.3 1069.9 512.6 1072.9 512.8 1074.6 513 1072.6 513.3 1072.3 513.6 1071.6 513.8 1074.6 514 1075.7 514.3 1073.6 514.6 1073.7 514.8 1075 515 1073.2 515.3 1071.4 515.6 1071.8 515.8 1071.3 516 1073.1 516.3 1073.8 516.6 1074.3 516.8 1073.8 517 1073.3 517.3 1072.7 517.6 1073.1 517.8 1072.5 518 1073.1 518.3 1074.7 518.6 1071.5 518.8 1071.8 519 1071.7 519.3 1071.8 519.6 1072.5 519.8 1073.2 520 1073.2 520.3 1071.2 520.6 1072.4 520.8 1073 521 1073.3 521.3 1070.8 521.6 1069.4 521.8 1071.2 522 1071.6 522.3 1071.3 522.6 1072 522.8 1073.3 523 1073 523.3 1074 523.6 1073.3 523.8 1070.8 524 1069.7 524.3 1071.7 524.6 1070.8 524.8 1070.8 525 1073.1 525.3 1074.6 525.6 1074.2 525.8 1072.5 526 1071.6 526.3 1071.1 526.6 1072.1 526.8 1073.5 527 1074.6 527.3 1072.7 527.6 1071.7 527.8 1072.8 528 1071.4 528.3 1070.8 528.6 1072.1 528.8 1072.6 529 1072 529.3 1071 529.6 1071.1 529.8 1070.2 530 1070.2 530.3 1072.8 530.6 1074.2 530.8 1074 531 1074.4 531.3 1074.6 531.6 1075 531.8 1072.6 532 1072 532.3 1072.5 532.6 1073.5 532.8 1073.5 533 1071.6 533.3 1070 533.6 1069.1 533.8 1069.7 534 1072 534.3 1071.8 534.6 1073.1 534.8 1072.9 535 1073.6 535.3 1074.1 535.6 1074.2 535.8 1073.9 536 1072.8 536.3 1073 536.6 1072 536.8 1071.3 537 1072.1 537.3 1072.7 537.6 1072.5 537.8 1073.3 538 1071.2 538.3 1070.2 538.6 1071.3 538.8 1073.1 539 1072.7 539.3 1073 539.6 1072.6 539.8 1071 540 1072 540.3 1073.7 540.6 1073.7 540.8 1073 541 1073.1 541.3 1073.2 541.6 1072.7 541.8 1070.4 542 1071 542.3 1073.3 542.6 1072.4 542.8 1071.2 543 1072.4 543.3 1072.3 543.6 1071.3 543.8 1072 544 1072.4 544.3 1073.1 544.6 1072.7 544.8 1072.9 545 1073.5 545.3 1072.8 545.6 1071.4 545.8 1070.5 546 1070.6 546.3 1071.1 546.6 1071.7 546.8 1071.8 547 1071.5 547.3 1071.9 547.6 1073.4 547.8 1072.2 548 1070.8 548.3 1072.3 548.6 1073.5 548.8 1072.9 549 1072.5 549.3 1071.8 549.6 1073.2 549.8 1073.9 550 1074.2 550.3 1074.3 550.6 1075.5 550.8 1075.1 551 1074.9 551.3 1074.1 551.6 1072.2 551.8 1073.3 552 1074.2 552.3 1073.8 552.6 1072.1 552.8 1070.9 553 1070.8 553.3 1070.8 553.6 1071.9 553.8 1071.7 554 1072.2 554.3 1072.3 554.6 1071.8 554.8 1071.1 555 1071.6 555.3 1072.8 555.6 1071.2 555.8 1071.6 556 1071 556.3 1071.1 556.6 1072.6 556.8 1074.7 557 1073.9 557.3 1073.6 557.6 1073.9 557.8 1074 558 1073.8 558.3 1074.3 558.6 1073 558.8 1071.9 559 1072.1 559.3 1072.8 559.6 1073.4 559.8 1070.8 560 1070.7 560.3 1071.8 560.6 1072.1 560.8 1071.5 561 1070.9 561.3 1071.7 561.6 1071.7 561.8 1070.5 562 1071.2 562.3 1071.8 562.6 1072.5 562.8 1073.2 563 1071.2 563.3 1071.9 563.6 1071.8 563.8 1070.6 564 1071.6 564.3 1070.7 564.6 1070.9 564.8 1070.3 565 1070.6 565.3 1071.9 565.6 1072.1 565.8 1070.9 566 1069.9 566.3 1069.3 566.6 1069.3 566.8 1067.2 567 1064.4 567.3 1065.7 567.6 1063 567.8 1060.6 568 1061.1 568.3 1062.3 568.6 1062.6 568.8 1063 569 1065.3 569.3 1065.9 569.6 1067.6 569.8 1069.6 570 1067.9 570.3 1065 570.6 1065.2 570.8 1066.2 571 1066.9 571.3 1066.2 571.6 1063 571.8 1060.8 572 1058.9 572.3 1056.3 572.6 1052.8 572.8 1047.5 573 1040.7 573.3 1035.8 573.6 1030.1 573.8 1026.8 574 1025.2 574.3 1024.3 574.6 1024.3 574.8 1026.4 575 1031.3 575.3 1034.3 575.6 1036.2 575.8 1041.9 576 1044.5 576.3 1044.9 576.6 1049.1 576.8 1051.5 577 1052.5 577.3 1053 577.6 1055.4 577.8 1059 578 1062.1 578.3 1064.3 578.6 1066.4 578.8 1065.5 579 1064.9 579.3 1066.7 579.6 1069.5 579.8 1071 580 1071.7 580.3 1071.8 580.6 1072 580.8 1071.8 581 1072.3 581.3 1072.8 581.6 1072.3 581.8 1070.6 582 1070 582.3 1072 582.6 1074.5 582.8 1072.6 583 1070.5 583.3 1070.2 583.6 1071 583.8 1073 584 1072.9 584.3 1070.6 584.6 1070.3 584.8 1069.9 585 1068.9 585.3 1070.7 585.6 1071.7 585.8 1071.9 586 1071 586.3 1071.3 586.6 1072.1 586.8 1072.4 587 1073.7 587.3 1073.8 587.6 1072.7 587.8 1072.4 588 1073.1 588.3 1074.5 588.6 1071.9 588.8 1069.8 589 1069 589.3 1069.8 589.6 1071.6 589.8 1071.9 590 1070.7 590.3 1069.4 590.6 1072.8 590.8 1072.6 591 1070.3 591.3 1071.4 591.6 1072.2 591.8 1074.8 592 1073.3 592.3 1071.1 592.6 1070.9 592.8 1072.8 593 1071.6 593.3 1071.3 593.6 1072 593.8 1071.5 594 1070.9 594.3 1072.5 594.6 1072.7 594.8 1073.7 595 1073.2 595.3 1073.8 595.6 1074.6 595.8 1073.6 596 1071.8 596.3 1070.6 596.6 1071 596.8 1070.5 597 1071 597.3 1071.6 597.6 1072.6 597.8 1073.8 598 1074 598.3 1073.5 598.6 1072.7 598.8 1072.1 599 1071.8 599.3 1073.4 599.6 1072.8 599.8 1073 600 1072.4 600.3 1071.3 600.6 1072.6 600.8 1072.6 601 1073.8 601.3 1074.4 601.6 1072.9 601.8 1072.6 602 1072.2 602.3 1072.7 602.6 1072.6 602.8 1072.2 603 1072.7 603.3 1073.4 603.6 1073.5 603.8 1073.7 604 1073.1 604.3 1071.8 604.6 1071.1 604.8 1072.6 605 1073.3 605.3 1073.7 605.6 1072.9 605.8 1072.9 606 1072.2 606.3 1071.3 606.6 1070.2 606.8 1068.5 607 1070.9 607.3 1071.6 607.6 1073 607.8 1073.4 608 1071.9 608.3 1071.7 608.6 1072.5 608.8 1073.1 609 1073.2 609.3 1071.7 609.6 1072.7 609.8 1074.5 610 1074 610.3 1074.7 610.6 1073.4 610.8 1072.2 611 1073.4 611.3 1073.4 611.6 1072.8 611.8 1075.2 612 1075.3 612.3 1073.8 612.6 1070.9 612.8 1070.5 613 1070.9 613.3 1072.1 613.6 1073.6 613.8 1074.4 614 1073.9 614.3 1073 614.6 1074.2 614.8 1072.4 615 1071.5 615.3 1072.6 615.6 1073.2 615.8 1070.7 616 1072.7 616.3 1072.1 616.6 1070.4 616.8 1069.2 617 1070.9 617.3 1071.5 617.6 1071.4 617.8 1071 618 1071.3 618.3 1071 618.6 1072.5 618.8 1074.6 619 1075.2 619.3 1073.4 619.6 1074.3 619.8 1074.4 620 1073.9 620.3 1071 620.6 1069.9 620.8 1071.3 621 1072.9 621.3 1072.5 621.6 1070.2 621.8 1072.5 622 1074.3 622.3 1073.1 622.6 1073.1 622.8 1072 623 1072.2 623.3 1071.4 623.6 1071 623.8 1070.8 624 1073.8 624.3 1074.9 624.6 1072.7 624.8 1072.2 625 1071.7 625.3 1071.9 625.6 1072.5 625.8 1072.6 626 1072.5 626.3 1072.9 626.6 1074.2 626.8 1075.5 627 1074.3 627.3 1073 627.6 1071.4 627.8 1071.2 628 1072 628.3 1072.2 628.6 1072.1 628.8 1071.4 629 1071.6 629.3 1071.6 629.6 1071.9 629.8 1072 630 1072.6 630.3 1072.4 630.6 1071.7 630.8 1072.5 631 1072.5 631.3 1071.7 631.6 1068.1 631.8 1067.8 632 1068.4 632.3 1069.4 632.6 1067.9 632.8 1066 633 1063.8 633.3 1061.3 633.6 1059.6 633.8 1057.8 634 1055.1 634.3 1055.3 634.6 1055.8 634.8 1056.9 635 1057.4 635.3 1057.5 635.6 1058.5 635.8 1059.1 636 1061.1 636.3 1063.2 636.6 1063.4 636.8 1064.6 637 1063.6 637.3 1065.4 637.6 1066.1 637.8 1067.3 638 1067.2 638.3 1069.4 638.6 1070.9 638.8 1069.9 639 1071.3 639.3 1071.7 639.6 1070 639.8 1070.8 640 1070.9 640.3 1070.5 640.6 1072.1 640.8 1072.7 641 1072.1 641.3 1071.1 641.6 1071.5 641.8 1071.8 642 1072.5 642.3 1072.8 642.6 1071.5 642.8 1071.6 643 1073.5 643.3 1072.7 643.6 1071.2 643.8 1073.2 644 1074.5 644.3 1074.4 644.6 1073.1 644.8 1071.2 645 1071.1 645.3 1072.2 645.6 1072.2 645.8 1071.3 646 1071.7 646.3 1071.1 646.6 1069.2 646.8 1070.1 647 1071.6 647.3 1068.8 647.6 1067.4 647.8 1065.7 648 1064.7 648.3 1063.3 648.6 1061.2 648.8 1060.9 649 1060.1 649.3 1056.9 649.6 1053.2 649.8 1053.5 650 1054.2 650.3 1055.6 650.6 1057.3 650.8 1057.2 651 1059.3 651.3 1060.2 651.6 1061.8 651.8 1062.6 652 1063.6 652.3 1065.3 652.6 1065.9 652.8 1064.4 653 1064.8 653.3 1064.2 653.6 1066.9 653.8 1069.4 654 1068.3 654.3 1068.5 654.6 1069.1 654.8 1070.1 655 1071.7 655.3 1071.8 655.6 1070.4 655.8 1070.1 656 1071.5 656.3 1072.8 656.6 1073.2 656.8 1073.7 657 1073.2 657.3 1072.4 657.6 1072.2 657.8 1071.8 658 1073.1 658.3 1072 658.6 1071.4 658.8 1071.9 659 1072.6 659.3 1071.5 659.6 1071 659.8 1073.4 660 1071.9 660.3 1069.5 660.6 1069.4 660.8 1070.7 661 1070.1 661.3 1070.3 661.6 1070.1 661.8 1071.3 662 1071.7 662.3 1071.2 662.6 1073.1 662.8 1072.1 663 1073 663.3 1074.6 663.6 1074.2 663.8 1073 664 1070.4 664.3 1070 664.6 1071.9 664.8 1073 665 1073.7 665.3 1073.3 665.6 1072.6 665.8 1072 666 1071.9 666.3 1071.7 666.6 1070.7 666.8 1071.4 667 1072.6 667.3 1073 667.6 1072.8 667.8 1073.6 668 1074 668.3 1073.8 668.6 1073 668.8 1072.6 669 1073.8 669.3 1073.6 669.6 1072.7 669.8 1073.6 670 1074 670.3 1073 670.6 1072.1 670.8 1070.9 671 1071.6 671.3 1072.8 671.6 1072.8 671.8 1072.2 672 1073.9 672.3 1073.1 672.6 1072 672.8 1071.5 673 1072.2 673.3 1071.7 673.6 1072.5 673.8 1072.3 674 1072.2 674.3 1071 674.6 1072.4 674.8 1073.5 675 1073.1 675.3 1073.2 675.6 1073.2 675.8 1074.2 676 1072.6 676.3 1070.5 676.6 1070.5 676.8 1073.1 677 1072.6 677.3 1072.9 677.6 1071.3 677.8 1071.7 678 1073.4 678.3 1072.2 678.6 1072.2 678.8 1070.9 679 1070.5 679.3 1071.5 679.6 1071.3 679.8 1071.2 680 1071.9 680.3 1071.3 680.6 1072.7 680.8 1072.3 681 1071 681.3 1072.5 681.6 1073.7 681.8 1075.2 682 1074.4 682.3 1074.1 682.6 1073.7 682.8 1070.4 683 1069.8 683.3 1070.2 683.6 1070.8 683.8 1072.7 684 1073.9 684.3 1074.8 684.6 1071.8 684.8 1071.3 685 1072.8 685.3 1073 685.6 1072.6 685.8 1072.1 686 1073 686.3 1072.8 686.6 1072.3 686.8 1072.4 687 1071.1 687.3 1073.2 687.6 1074.3 687.8 1073.2 688 1074.8 688.3 1074 688.6 1072.6 688.8 1072.9 689 1070.8 689.3 1070.3 689.6 1071.3 689.8 1072.1 690 1071 690.3 1070.4 690.6 1071.3 690.8 1073.8 691 1072.8 691.3 1070 691.6 1069.9 691.8 1072 692 1073.2 692.3 1072.5 692.6 1073.5 692.8 1072.5 693 1070.2 693.3 1070.1 693.6 1071.6 693.8 1071.4 694 1070 694.3 1069 694.6 1068.1 694.8 1068.9 695 1068.5 695.3 1066.3 695.6 1065.1 695.8 1063 696 1059.3 696.3 1057.3 696.6 1053.6 696.8 1051.4 697 1048.8 697.3 1047 697.6 1047.2 697.8 1048.7 698 1048.7 698.3 1051.1 698.6 1054.4 698.8 1056.3 699 1057 699.3 1058 699.6 1059.9 699.8 1060.6 700 1061.4 700.3 1063.9 700.6 1065.7 700.8 1065.7 701 1065.5 701.3 1066.4 701.6 1068.7 701.8 1069.6 702 1069.8 702.3 1069.5 702.6 1069.1 702.8 1069 703 1070.7 703.3 1070 703.6 1068.9 703.8 1069.1 704 1068.8 704.3 1069.5 704.6 1071.6 704.8 1071 705 1069.8 705.3 1069.2 705.6 1068.2 705.8 1068.3 706 1069.2 706.3 1068.4 706.6 1067 706.8 1065.1 707 1065.8 707.3 1067.7 707.6 1067.3 707.8 1067.5 708 1067.5 708.3 1069.3 708.6 1070.3 708.8 1070.8 709 1070.3 709.3 1069.6 709.6 1070.1 709.8 1070.9 710 1071 710.3 1070.7 710.6 1070.6 710.8 1071.2 711 1071.9 711.3 1073.1 711.6 1073.7 711.8 1075 712 1073.6 712.3 1071.7 712.6 1072.2 712.8 1074 713 1074.7 713.3 1072.5 713.6 1072.2 713.8 1072.7 714 1072.3 714.3 1071.4 714.6 1072.8 714.8 1073.7 715 1074.3 715.3 1073.6 715.6 1074.7 715.8 1074.2 716 1073.5 716.3 1072.4 716.6 1070.6 716.8 1069.6 717 1070.4 717.3 1070.1 717.6 1071.4 717.8 1070.6 718 1070.9 718.3 1074.1 718.6 1075.3 718.8 1074.8 719 1072.5 719.3 1071.8 719.6 1072.6 719.8 1073.4 720 1074 720.3 1072.9 720.6 1072.1 720.8 1071.8 721 1071.2 721.3 1072.6 721.6 1073.2 721.8 1074.4 722 1072.9 722.3 1072.5 722.6 1072.4 722.8 1074.3 723 1076.2 723.3 1076 723.6 1073.8 723.8 1074.6 724 1074.9 724.3 1074.7 724.6 1073.7 724.8 1073.4 725 1072.9 725.3 1072 725.6 1073.2 725.8 1074.2 726 1072.4 726.3 1073 726.6 1072.2 726.8 1073.2 727 1074.2 727.3 1072.7 727.6 1073.3 727.8 1072 728 1073.8 728.3 1074.2 728.6 1076.4 728.8 1073.4 729 1071.1 729.3 1071.2 729.6 1072 729.8 1072 730 1072.3 730.3 1072.5 730.6 1074.6 730.8 1075.2 731 1073.2 731.3 1073.6 731.6 1073.5 731.8 1074.1 732 1074.3 732.3 1073.2 732.6 1071.7 732.8 1071.1 733 1074 733.3 1072.6 733.6 1073.5 733.8 1073.1 734 1072.8 734.3 1071.9 734.6 1072.8 734.8 1072.1 735 1071.6 735.3 1071.9 735.6 1072.3 735.8 1071.7 736 1071.8 736.3 1071.9 736.6 1073.2 736.8 1072.4 737 1072.9 737.3 1072 737.6 1071.2 737.8 1071.7 738 1072.9 738.3 1073.8 738.6 1074.2 738.8 1073.5 739 1073.3 739.3 1071.3 739.6 1070.5 739.8 1073.2 740 1073.4 740.3 1072.6 740.6 1071.1 740.8 1072.3 741 1073.4 741.3 1073.8 741.6 1072.4 741.8 1072.8 742 1072.9 742.3 1073.5 742.6 1074.3 742.8 1073.7 743 1073.7 743.3 1073.5 743.6 1073 743.8 1072.7 744 1072.6 744.3 1072.8 744.6 1072.9 744.8 1072.6 745 1071.4 745.3 1070.6 745.6 1070.8 745.8 1071.2 746 1073.3 746.3 1071.8 746.6 1071.8 746.8 1072.9 747 1072.3 747.3 1072.9 747.6 1073.5 747.8 1072.8 748 1073.9 748.3 1072.6 748.6 1072.7 748.8 1071.6 749 1070.9 749.3 1070.9 749.6 1073.2 749.8 1072.9 750 1071.6 750.3 1073.3 750.6 1072 750.8 1071.5 751 1070.8 751.3 1071.2 751.6 1074.1 751.8 1072.1 752 1071.6 752.3 1073.3 752.6 1072.3 752.8 1071.7 753 1074.3 753.3 1076.1 753.6 1073.9 753.8 1071.4 754 1070.9 754.3 1070.8 754.6 1070.4 754.8 1070.8 755 1071.6 755.3 1072.2 755.6 1073.3 755.8 1074 756 1071.6 756.3 1072.2 756.6 1072.2 756.8 1071.7 757 1074.3 757.3 1073.6 757.6 1071.5 757.8 1073.3 758 1072.1 758.3 1073.3 758.6 1074.4 758.8 1073.2 759 1072.9 759.3 1071.1 759.6 1070.8 759.8 1071.2 760 1072.8 760.3 1075.1 760.6 1074.6 760.8 1071.2 761 1070.2 761.3 1071.4 761.6 1070.7 761.8 1070.4 762 1071.8 762.3 1072.6 762.6 1072 762.8 1071.6 763 1071.9 763.3 1073.3 763.6 1074 763.8 1072.8 764 1071.8 764.3 1072.2 764.6 1071.5 764.8 1070.7 765 1071.8 765.3 1072.8 765.6 1073.6 765.8 1073.3 766 1071.9 766.3 1071.5 766.6 1072.9 766.8 1074 767 1073.1 767.3 1072.3 767.6 1070.6 767.8 1070.1 768 1071.1 768.3 1070.1 768.6 1069 768.8 1071.6 769 1073.7 769.3 1073.9 769.6 1071.2 769.8 1070.1 770 1070.2 770.3 1070.4 770.6 1071.8 770.8 1070.7 771 1068.8 771.3 1069.1 771.6 1068.2 771.8 1066.5 772 1063.3 772.3 1061.7 772.6 1063.1 772.8 1062.5 773 1062.2 773.3 1062.1 773.6 1062.5 773.8 1064.3 774 1063.3 774.3 1061.2 774.6 1063.4 774.8 1065.5 775 1066 775.3 1065.7 775.6 1065.1 775.8 1065.7 776 1066.6 776.3 1067.5 776.6 1067.4 776.8 1067.5 777 1068.1 777.3 1068.5 777.6 1070 777.8 1070.4 778 1071.9 778.3 1071 778.6 1071.2 778.8 1071.7 779 1072.9 779.3 1072.7 779.6 1072 779.8 1074.4 780 1074.8 780.3 1073.5 780.6 1071.9 780.8 1071.2 781 1072.7 781.3 1072.4 781.6 1071.9 781.8 1070.1 782 1071.7 782.3 1074.2 782.6 1074.5 782.8 1073.8 783 1073.6 783.3 1072.9 783.6 1074.3 783.8 1072.6 784 1071.4 784.3 1072 784.6 1073.4 784.8 1073.4 785 1071.9 785.3 1073.3 785.6 1074.5 785.8 1074.5 786 1073.5 786.3 1072.7 786.6 1070.8 786.8 1071.5 787 1074.5 787.3 1073.8 787.6 1073.3 787.8 1074.3 788 1073.2 788.3 1072.9 788.6 1074 788.8 1073.5 789 1070.2 789.3 1070.1 789.6 1073.3 789.8 1073.6 790 1071.7 790.3 1072.9 790.6 1074.6 790.8 1074.4 791 1074.2 791.3 1074.6 791.6 1072.8 791.8 1072.9 792 1072.9 792.3 1072 792.6 1072.3 792.8 1073.7 793 1073.8 793.3 1072.8 793.6 1071.7 793.8 1073.9 794 1073.9 794.3 1073.4 794.6 1073.5 794.8 1074 795 1072.7 795.3 1072.4 795.6 1072.7 795.8 1074.7 796 1074.9 796.3 1074 796.6 1075 796.8 1072.9 797 1072.5 797.3 1072.7 797.6 1071.9 797.8 1071.9 798 1071.3 798.3 1071.8 798.6 1073.2 798.8 1073.7 799 1071.5 799.3 1069.9 799.6 1070.2 799.8 1070.5 800 1072.1 800.3 1073.6 800.6 1073.4 800.8 1072.3 801 1073.9 801.3 1072.1 801.6 1072.3 801.8 1072.5 802 1072 802.3 1072.8 802.6 1071.9 802.8 1071.8 803 1071.2 803.3 1071.4 803.6 1072.1 803.8 1072 804 1072.3 804.3 1072.5 804.6 1071.4 804.8 1071.2 805 1070.9 805.3 1072.7 805.6 1073 805.8 1073.4 806 1072.5 806.3 1072.3 806.6 1072.1 806.8 1071.7 807 1072.1 807.3 1073.9 807.6 1073.5 807.8 1072.8 808 1072.9 808.3 1073.5 808.6 1075.4 808.8 1075 809 1073 809.3 1072.4 809.6 1073.7 809.8 1071.7 810 1072.4 810.3 1073.7 810.6 1073.4 810.8 1071.5 811 1071.8 811.3 1071.8 811.6 1072 811.8 1071.6 812 1072.3 812.3 1072.1 812.6 1072.2 812.8 1071.3 813 1071.1 813.3 1071.6 813.6 1073.3 813.8 1073 814 1072.6 814.3 1071.8 814.6 1072.5 814.8 1072.4 815 1072.8 815.3 1071.4 815.6 1070.3 815.8 1071.8 816 1070.9 816.3 1072.5 816.6 1073.7 816.8 1074.5 817 1073.4 817.3 1075.1 817.6 1075.1 817.8 1074.5 818 1074.6 818.3 1072.5 818.6 1071.4 818.8 1071.5 819 1072.3 819.3 1072.7 819.6 1075.3 819.8 1075.5 820 1074.6 820.3 1072.3 820.6 1070.8 820.8 1070.3 821 1071.3 821.3 1073.2 821.6 1072.9 821.8 1072.8 822 1071.9 822.3 1071.4 822.6 1073.3 822.8 1072.5 823 1072.6 823.3 1072.6 823.6 1072.4 823.8 1072.6 824 1072.1 824.3 1073.7 824.6 1073.5 824.8 1072.7 825 1072.3 825.3 1072.3 825.6 1073.7 825.8 1075.1 826 1074.6 826.3 1073.1 826.6 1073 826.8 1074.6 827 1074.6 827.3 1074.6 827.6 1074.6 827.8 1073.8 828 1073.4 828.3 1072 828.6 1071.9 828.8 1072.3 829 1071.3 829.3 1071.5 829.6 1072.6 829.8 1072.1 830 1072.8 830.3 1074.2 830.6 1072.5 830.8 1073.3 831 1074.2 831.3 1074.8 831.6 1075.3 831.8 1075 832 1073.7 832.3 1071.4 832.6 1071.6 832.8 1072.3 833 1070.9 833.3 1073.4 833.6 1074.8 833.8 1074.9 834 1073.5 834.3 1073.3 834.6 1071.1 834.8 1071.2 835 1073 835.3 1074.3 835.6 1073.1 835.8 1073.4 836 1073.4 836.3 1071.7 836.6 1071.1 836.8 1071.5 837 1075.3 837.3 1075 837.6 1072.9 837.8 1072.2 838 1073.6 838.3 1074.6 838.6 1072 838.8 1070.9 839 1071 839.3 1073.4 839.6 1073.8 839.8 1072.1 840 1071.8 840.3 1073.7 840.6 1075.1 840.8 1074.6 841 1073.7 841.3 1073.7 841.6 1075" fill="none" stroke="#000" stroke-width="1.0" stroke-linejoin="round"/>
<path d="M951.7 1061.2 952 1065.1 952.3 1064.6 952.6 1062.8 952.9 1063.7 953.2 1063.6 953.5 1068.9 953.8 1062 954.1 1063 954.4 1064.6 954.7 1064.5 955 1067.7 955.3 1063.4 955.6 1071.9 955.9 1063.5 956.2 1059.2 956.5 1069.7 956.8 1061.4 957.1 1064.1 957.4 1068 957.7 1063.4 958 1067.4 958.3 1062.6 958.6 1061.7 958.9 1067.9 959.2 1062 959.5 1067.9 959.8 1062 960.1 1065.3 960.4 1061.5 960.7 1062.2 961 1062.2 961.3 1063.1 961.6 1061.4 961.9 1062.5 962.2 1063.9 962.5 1063.3 962.8 1060.4 963.1 1058.8 963.4 1056.1 963.7 1065.8 964 1064.8 964.3 1068.9 964.6 1056 964.9 1064.6 965.2 1062.4 965.5 1067.6 965.8 1064.4 966.1 1065.4 966.4 1060.9 966.7 1066.3 967 1060 967.3 1054.8 967.6 1056.8 967.9 1064.8 968.2 1067.4 968.5 1062.2 968.8 1062.8 969.1 1062.1 969.4 1064.5 969.7 1062.1 970 1061.4 970.3 1063 970.6 1067.2 970.9 1066.6 971.2 1065.5 971.5 1062.1 971.8 1063.5 972.1 1064.7 972.4 1058.5 972.7 1058.8 973 1065.1 973.3 1064.3 973.6 1062.8 973.9 1057.7 974.2 1068.1 974.5 1067.8 974.8 1065.4 975.1 1061 975.4 1063.5 975.7 1058.3 976 1059.2 976.3 1064.6 976.6 1066.3 976.9 1062.3 977.2 1061.9 977.5 1064.4 977.8 1061.5 978.1 1070 978.4 1057.4 978.7 1060.1 979 1065.4 979.3 1065.7 979.6 1058.5 979.9 1059.6 980.2 1065.9 980.5 1063.8 980.8 1064.1 981.1 1059.7 981.4 1061.3 981.7 1059.5 982 1059.4 982.3 1062.3 982.6 1053.4 982.9 1064.7 983.2 1067.7 983.5 1072.4 983.8 1063.7 984.1 1057.9 984.4 1060 984.7 1060.6 985 1058.9 985.3 1062.2 985.6 1056.2 985.9 1061.2 986.2 1057.5 986.5 1056.2 986.8 1061 987.1 1054 987.4 1050.6 987.7 1060.8 988 1054.2 988.3 1056 988.6 1054.1 988.9 1056.7 989.2 1059.1 989.5 1058.1 989.8 1059.8 990.1 1057.9 990.4 1051.9 990.7 1052.1 991 1050.3 991.3 1053.1 991.6 1059.1 991.9 1054.3 992.2 1053.3 992.5 1050.6 992.8 1061.5 993.1 1061.3 993.4 1053.6 993.7 1051.1 994 1040.7 994.3 1049.1 994.6 1045.9 994.9 1053.2 995.2 1054.2 995.5 1047.3 995.8 1049 996.1 1053.7 996.4 1051.7 996.7 1043.8 997 1044.1 997.3 1054 997.6 1049.3 997.9 1048.8 998.2 1043.8 998.5 1038.3 998.8 1048.8 999.1 1045.2 999.4 1047.8 999.7 1041.3 1000 1049.1 1000.3 1044.8 1000.6 1044.9 1000.9 1043.1 1001.2 1047.6 1001.5 1041.5 1001.8 1041.5 1002.1 1047.7 1002.4 1042.8 1002.7 1040.8 1003 1039.9 1003.3 1043.8 1003.6 1043.8 1003.9 1040 1004.2 1037.8 1004.5 1039 1004.8 1043.9 1005.1 1035.2 1005.4 1030 1005.7 1042.5 1006 1038.7 1006.3 1039.3 1006.6 1040.5 1006.9 1044.4 1007.2 1042.8 1007.5 1042.4 1007.8 1048.6 1008.1 1030 1008.4 1038.4 1008.7 1038.6 1009 1041.5 1009.3 1038.1 1009.6 1037.8 1009.9 1040.5 1010.2 1032.7 1010.5 1039.7 1010.8 1034.1 1011.1 1041.5 1011.4 1040.6 1011.7 1040.2 1012 1051.3 1012.3 1047.9 1012.6 1038.7 1012.9 1037.7 1013.2 1039.1 1013.5 1042.7 1013.8 1039.8 1014.1 1032.1 1014.4 1041.7 1014.7 1037.1 1015 1044.2 1015.3 1044 1015.6 1040.5 1015.9 1040.9 1016.2 1041.7 1016.5 1042.4 1016.8 1044.8 1017.1 1050.7 1017.4 1045.8 1017.7 1042.3 1018 1043.5 1018.3 1047.6 1018.6 1046.4 1018.9 1049.5 1019.2 1043.5 1019.5 1047.6 1019.8 1044.9 1020.1 1050.5 1020.4 1048.5 1020.7 1053.4 1021 1043.5 1021.3 1047.7 1021.6 1039.7 1021.9 1046.8 1022.2 1041.2 1022.5 1045.9 1022.8 1053.7 1023.1 1053.2 1023.4 1050.9 1023.7 1053.9 1024 1047.9 1024.3 1052.4 1024.6 1047.6 1024.9 1054.4 1025.2 1050.1 1025.5 1047.5 1025.8 1058.1 1026.1 1046.4 1026.4 1053.5 1026.7 1057.7 1027 1049.9 1027.3 1052.8 1027.6 1059.7 1027.9 1061 1028.2 1061.1 1028.5 1052.1 1028.8 1055.2 1029.1 1057 1029.4 1060.8 1029.7 1055 1030 1061.4 1030.3 1049.4 1030.6 1055.9 1030.9 1057.5 1031.2 1055.1 1031.5 1055.8 1031.8 1062.8 1032.1 1049.4 1032.4 1048.1 1032.7 1052.7 1033 1058.2 1033.3 1059.5 1033.6 1057.5 1033.9 1059 1034.2 1059.5 1034.5 1061 1034.8 1058.2 1035.1 1060.8 1035.4 1063.9 1035.7 1057.1 1036 1061.4 1036.3 1057.1 1036.6 1063.3 1036.9 1053.4 1037.2 1059.9 1037.5 1059.9 1037.8 1063.9 1038.1 1060.5 1038.4 1062.5 1038.7 1065 1039 1060 1039.3 1054.8 1039.6 1061.4 1039.9 1056 1040.2 1060.5 1040.5 1059.2 1040.8 1060.2 1041.1 1055.9 1041.4 1056.3 1041.7 1059.9 1042 1064.3 1042.3 1065.1 1042.6 1061.8 1042.9 1061.2 1043.2 1063.8 1043.5 1066.9 1043.8 1064.5 1044.1 1058.5 1044.4 1060.2 1044.7 1063.8 1045 1053.3 1045.3 1067.5 1045.6 1062.7 1045.9 1060.6 1046.2 1060.8 1046.5 1063 1046.8 1058.3 1047.1 1063.1 1047.4 1063.9 1047.7 1058.1 1048 1063.8 1048.3 1066.4 1048.6 1062.4 1048.9 1065 1049.2 1058.6 1049.5 1061.4 1049.8 1061.8 1050.1 1064.8 1050.4 1059.3 1050.7 1066.8 1051 1062.6 1051.3 1056.7 1051.6 1061.6 1051.9 1056.6 1052.2 1061.4 1052.5 1062.1 1052.8 1063.8 1053.1 1061.5 1053.4 1067.1 1053.7 1063.2 1054 1063.7 1054.3 1065.8 1054.6 1063.7 1054.9 1060.7 1055.2 1063.5 1055.5 1074.5 1055.8 1067.6 1056.1 1068.3 1056.4 1063.6 1056.7 1065.4 1057 1067.3 1057.3 1062 1057.6 1063.4 1057.9 1063.3 1058.2 1062.8 1058.5 1059.5 1058.8 1063.8 1059.1 1056.7 1059.4 1063.5 1059.7 1055.9 1060 1062.8 1060.3 1061.1 1060.6 1060.7 1060.9 1057.4 1061.2 1063.3 1061.5 1060.2 1061.8 1057.2 1062.1 1062.7 1062.4 1057.9 1062.7 1067.1 1063 1062.5 1063.3 1057.7 1063.6 1057.7 1063.9 1060 1064.2 1061.1 1064.5 1065.8 1064.8 1058.6 1065.1 1059.9 1065.4 1059 1065.7 1063.7 1066 1065.7 1066.3 1071.4 1066.6 1057.5 1066.9 1056.7 1067.2 1062.3 1067.5 1065.9 1067.8 1065.8 1068.1 1055.2 1068.4 1059.9 1068.7 1056.9 1069 1061.1 1069.3 1060 1069.6 1066 1069.9 1060 1070.2 1058.1 1070.5 1058.8 1070.8 1058.6 1071.1 1063.7 1071.4 1061.6 1071.7 1058.2 1072 1072 1072.3 1055.2 1072.6 1060.2 1072.9 1063.2 1073.2 1062.3 1073.5 1065.4 1073.8 1062.5 1074.1 1065.4 1074.4 1058.7 1074.7 1068.7 1075 1059.6 1075.3 1057 1075.6 1062 1075.9 1058.8 1076.2 1056.9 1076.5 1057.6 1076.8 1062.7 1077.1 1060.5 1077.4 1063.1 1077.7 1062.1 1078 1057.9 1078.3 1061.3 1078.6 1059.7 1078.9 1059 1079.2 1063.2 1079.5 1064.5 1079.8 1061.5 1080.1 1072.1 1080.4 1070.6 1080.7 1062.5 1081 1060.1 1081.3 1057.3 1081.6 1055.1 1081.9 1059.8 1082.2 1059.2 1082.5 1060.2 1082.8 1055.6 1083.1 1060.9 1083.4 1058.4 1083.7 1062.1 1084 1063.8 1084.3 1058.2 1084.6 1064.7 1084.9 1062 1085.2 1060.1 1085.5 1060.4 1085.8 1057.6 1086.1 1059.9 1086.4 1061 1086.7 1058.7 1087 1052.2 1087.3 1056.1 1087.6 1063.3 1087.9 1056.3 1088.2 1050.9 1088.5 1057.1 1088.8 1059.3 1089.1 1058.7 1089.4 1050.8 1089.7 1062.7 1090 1060.9 1090.3 1058.8 1090.6 1059.5 1090.9 1055.1 1091.2 1053 1091.5 1060.7 1091.8 1058.1 1092.1 1054.8 1092.4 1060.9 1092.7 1056.4 1093 1054.1 1093.3 1055.5 1093.6 1061.8 1093.9 1059.4 1094.2 1055.7 1094.5 1063.1 1094.8 1056.1 1095.1 1054.2 1095.4 1055.4 1095.7 1058.8 1096 1055.5 1096.3 1056.8 1096.6 1056.8 1096.9 1055.7 1097.2 1055.4 1097.5 1065.6 1097.8 1058.6 1098.1 1059 1098.4 1060.3 1098.7 1053.3 1099 1058.8 1099.3 1057.6 1099.6 1056.5 1099.9 1051 1100.2 1052.3 1100.5 1056.5 1100.8 1054.3 1101.1 1059 1101.4 1052.5 1101.7 1055.2 1102 1054.9 1102.3 1068 1102.6 1055 1102.9 1057.2 1103.2 1052.1 1103.5 1062.5 1103.8 1062 1104.1 1048.8 1104.4 1053.7 1104.7 1055.4 1105 1054.2 1105.3 1057.4 1105.6 1056 1105.9 1059.8 1106.2 1057.6 1106.5 1058 1106.8 1054.2 1107.1 1052.9 1107.4 1055.4 1107.7 1054.1 1108 1059.6 1108.3 1052.7 1108.6 1057.1 1108.9 1054.4 1109.2 1055.8 1109.5 1051 1109.8 1053.6 1110.1 1054.2 1110.4 1050.3 1110.7 1054 1111 1057.9 1111.3 1051.8 1111.6 1054 1111.9 1055.7 1112.2 1047.3 1112.5 1048.7 1112.8 1050.6 1113.1 1048.5 1113.4 1057.9 1113.7 1055.9 1114 1053.1 1114.3 1050.1 1114.6 1051.9 1114.9 1048.1 1115.2 1052.1 1115.5 1054 1115.8 1050.5 1116.1 1052.5 1116.4 1048 1116.7 1047.9 1117 1061.8 1117.3 1053.1 1117.6 1048.9 1117.9 1052.2 1118.2 1056.9 1118.5 1053.8 1118.8 1052.6 1119.1 1057.8 1119.4 1049.6 1119.7 1049.6 1120 1051.8 1120.3 1052.3 1120.6 1045.7 1120.9 1053.7 1121.2 1053 1121.5 1056.4 1121.8 1048.1 1122.1 1050.8 1122.4 1053.1 1122.7 1048.3 1123 1052.5 1123.3 1049.3 1123.6 1050.5 1123.9 1052 1124.2 1053.3 1124.5 1049.6 1124.8 1050.4 1125.1 1047.3 1125.4 1053.1 1125.7 1048.3 1126 1052 1126.3 1047.6 1126.6 1043.6 1126.9 1051.5 1127.2 1039.4 1127.5 1040.4 1127.8 1043 1128.1 1044.1 1128.4 1040.9 1128.7 1040.3 1129 1031.7 1129.3 1035.6 1129.6 1030.3 1129.9 1025.8 1130.2 1020.8 1130.5 1003.4 1130.8 985.9 1131.1 963.8 1131.4 932.7 1131.7 894.4 1132 863.1 1132.3 833.1 1132.6 822.9 1132.9 831.4 1133.2 818.4 1133.5 794.1 1133.8 759 1134.1 707.2 1134.4 667.7 1134.7 667.8 1135 725.3 1135.3 782.7 1135.6 856.8 1135.9 914.9 1136.2 953.9 1136.5 984.5 1136.8 1004.9 1137.1 1015.7 1137.4 1011.6 1137.7 1027.6 1138 1029.6 1138.3 1034.9 1138.6 1032.2 1138.9 1039.4 1139.2 1039.7 1139.5 1038.3 1139.8 1046.4 1140.1 1039.5 1140.4 1046.7 1140.7 1048.2 1141 1040.9 1141.3 1048 1141.6 1048.6 1141.9 1047.9 1142.2 1050.4 1142.5 1043.6 1142.8 1045.2 1143.1 1052 1143.4 1056.5 1143.7 1051.1 1144 1049 1144.3 1048.5 1144.6 1055 1144.9 1051.8 1145.2 1048.6 1145.5 1051.9 1145.8 1051.1 1146.1 1054.5 1146.4 1052.8 1146.7 1052.1 1147 1049.8 1147.3 1054.9 1147.6 1054.1 1147.9 1052.6 1148.2 1050.2 1148.5 1056.9 1148.8 1059.2 1149.1 1054.3 1149.4 1052.8 1149.7 1044.7 1150 1052.3 1150.3 1054.6 1150.6 1045.6 1150.9 1048.3 1151.2 1047.8 1151.5 1045 1151.8 1045.8 1152.1 1031.7 1152.4 1029.4 1152.7 1035.8 1153 1037.4 1153.3 1045.2 1153.6 1047.1 1153.9 1050.8 1154.2 1053.7 1154.5 1052.3 1154.8 1057.1 1155.1 1055.3 1155.4 1057.3 1155.7 1053.7 1156 1053.9 1156.3 1065.8 1156.6 1056.4 1156.9 1057.5 1157.2 1055.1 1157.5 1059.8 1157.8 1057.6 1158.1 1057.3 1158.4 1058 1158.7 1059.9 1159 1060.2 1159.3 1056.5 1159.6 1058.4 1159.9 1052.8 1160.2 1055.5 1160.5 1061.1 1160.8 1055.9 1161.1 1057.6 1161.4 1054.5 1161.7 1059.7 1162 1055.1 1162.3 1058.7 1162.6 1064.7 1162.9 1057.4 1163.2 1060.1 1163.5 1057.6 1163.8 1055.1 1164.1 1055.7 1164.4 1059.8 1164.7 1055.6 1165 1056.3 1165.3 1053.3 1165.6 1059 1165.9 1060.2 1166.2 1061.6 1166.5 1055.8 1166.8 1052.8 1167.1 1058.8 1167.4 1058.4 1167.7 1054.8 1168 1061.3 1168.3 1057.9 1168.6 1055.1 1168.9 1063.1 1169.2 1056.9 1169.5 1057.4 1169.8 1056.6 1170.1 1055.7 1170.4 1059.8 1170.7 1062 1171 1062.1 1171.3 1058.9 1171.6 1058.9 1171.9 1060.1 1172.2 1063.1 1172.5 1059.1 1172.8 1062.2 1173.1 1056.2 1173.4 1059.2 1173.7 1060.1 1174 1058.7 1174.3 1057.9 1174.6 1058.2 1174.9 1062 1175.2 1060.1 1175.5 1060 1175.8 1056.4 1176.1 1056.7 1176.4 1058.8 1176.7 1052.8 1177 1060.3 1177.3 1060.1 1177.6 1060.9 1177.9 1059 1178.2 1060.4 1178.5 1056.5 1178.8 1060.1 1179.1 1060.4 1179.4 1061.1 1179.7 1062.1 1180 1062.4 1180.3 1057.5 1180.6 1061.4 1180.9 1059.2 1181.2 1058.4 1181.5 1058.6 1181.8 1058.9 1182.1 1063.2 1182.4 1062.4 1182.7 1058.1 1183 1050.3 1183.3 1061.1 1183.6 1063.1 1183.9 1061.9 1184.2 1052 1184.5 1059.3 1184.8 1059.9 1185.1 1055.2 1185.4 1062.6 1185.7 1066.5 1186 1062.3 1186.3 1060.4 1186.6 1060.2 1186.9 1064.7 1187.2 1067 1187.5 1063.1 1187.8 1062.9 1188.1 1061.6 1188.4 1065.5 1188.7 1062.7 1189 1062.6 1189.3 1058.3 1189.6 1062 1189.9 1062.6 1190.2 1061.8 1190.5 1056.4 1190.8 1062.4 1191.1 1057.7 1191.4 1062.5 1191.7 1063.6 1192 1062.3 1192.3 1063.3 1192.6 1060.9 1192.9 1063.4 1193.2 1061 1193.5 1059.9 1193.8 1064.5 1194.1 1065 1194.4 1064 1194.7 1062.5 1195 1061.7 1195.3 1066.9 1195.6 1055.3 1195.9 1062.1 1196.2 1061.9 1196.5 1065 1196.8 1057.1 1197.1 1060.9 1197.4 1056.2 1197.7 1065.5 1198 1060.1 1198.3 1059.8 1198.6 1062.6 1198.9 1064.3 1199.2 1064.3 1199.5 1066.5 1199.8 1060.6 1200.1 1067.9 1200.4 1065.6 1200.7 1062.8 1201 1058.1 1201.3 1063.4 1201.6 1060.3 1201.9 1073 1202.2 1065.6 1202.5 1063.2 1202.8 1063.1 1203.1 1062 1203.4 1065.2 1203.7 1065.4 1204 1065.4 1204.3 1063.6 1204.6 1067 1204.9 1064.6 1205.2 1055 1205.5 1058.8 1205.8 1058.2 1206.1 1061 1206.4 1060.9 1206.7 1067.7 1207 1064.6 1207.3 1061.2 1207.6 1065.8 1207.9 1059.8 1208.2 1059.5 1208.5 1062.5 1208.8 1070.7 1209.1 1056.1 1209.4 1060.6 1209.7 1063.7 1210 1063.6 1210.3 1061.2 1210.6 1066.4 1210.9 1067.2 1211.2 1060.5 1211.5 1060.8 1211.8 1061.2 1212.1 1063.9 1212.4 1062.9 1212.7 1059.5 1213 1063.3 1213.3 1064.2 1213.6 1064.4 1213.9 1059.6 1214.2 1061.4 1214.5 1065.5 1214.8 1063.2 1215.1 1071.9 1215.4 1061.1 1215.7 1064 1216 1062 1216.3 1065.2 1216.6 1063.3 1216.9 1059.7 1217.2 1061.8 1217.5 1059.1 1217.8 1063.2 1218.1 1072 1218.4 1058.5 1218.7 1066 1219 1063.9 1219.3 1064.8 1219.6 1067.4 1219.9 1065.5 1220.2 1064.8 1220.5 1064.1 1220.8 1064.3 1221.1 1058.5 1221.4 1061.5 1221.7 1061.8 1222 1060.3 1222.3 1066.9 1222.6 1064.1 1222.9 1068.8 1223.2 1060.6 1223.5 1064.1 1223.8 1069.4 1224.1 1059.5 1224.4 1063.1 1224.7 1061.2 1225 1062.5 1225.3 1061 1225.6 1063.2 1225.9 1062.2 1226.2 1059.5 1226.5 1058.1 1226.8 1061.4 1227.1 1067.3 1227.4 1061.3 1227.7 1063.9 1228 1062.7 1228.3 1059.9 1228.6 1062.8 1228.9 1062.6 1229.2 1060.5 1229.5 1062.8 1229.8 1062.9 1230.1 1060.5 1230.4 1059.9 1230.7 1055.6 1231 1061.4 1231.3 1061.9 1231.6 1063.1 1231.9 1061.2 1232.2 1062.7 1232.5 1060 1232.8 1061.3 1233.1 1057.1 1233.4 1059.5 1233.7 1053.4 1234 1057.5 1234.3 1053.3 1234.6 1044.6 1234.9 1042.6 1235.2 1036 1235.5 1025.8 1235.8 1020.6 1236.1 1026.8 1236.4 1028 1236.7 1032 1237 1039 1237.3 1045.7 1237.6 1046.6 1237.9 1055.6 1238.2 1047.6 1238.5 1061.3 1238.8 1056.9 1239.1 1054.5 1239.4 1054.5 1239.7 1061 1240 1050.3 1240.3 1052.9 1240.6 1056.1 1240.9 1045.8 1241.2 1044.6 1241.5 1030.7 1241.8 1022.7 1242.1 999.7 1242.4 978.9 1242.7 955.7 1243 926.4 1243.3 910.5 1243.6 904.4 1243.9 920.3 1244.2 941 1244.5 970.7 1244.8 991.9 1245.1 1014.7 1245.4 1031.6 1245.7 1041.6 1246 1050.1 1246.3 1047.6 1246.6 1054.3 1246.9 1054.1 1247.2 1055.7 1247.5 1060.2 1247.8 1061.2 1248.1 1058.7 1248.4 1058.6 1248.7 1053.9 1249 1046.3 1249.3 1044 1249.6 1042.8 1249.9 1037.9 1250.2 1029.7 1250.5 1022 1250.8 1019.6 1251.1 1016.7 1251.4 1018.6 1251.7 1021.8 1252 1036.8 1252.3 1039.5 1252.6 1044.7 1252.9 1047.6 1253.2 1054.3 1253.5 1055.7 1253.8 1057.8 1254.1 1056.4 1254.4 1060.1 1254.7 1059.5 1255 1060.6 1255.3 1059.5 1255.6 1060.7 1255.9 1059.8 1256.2 1065.6 1256.5 1063.6 1256.8 1062.5 1257.1 1061.3 1257.4 1061.5 1257.7 1063.4 1258 1061.7 1258.3 1066 1258.6 1063.9 1258.9 1064.6 1259.2 1066.3 1259.5 1067.4 1259.8 1066.5 1260.1 1062.7 1260.4 1063.8 1260.7 1072.9 1261 1057.2 1261.3 1060.7 1261.6 1065.1 1261.9 1062.5 1262.2 1062.7 1262.5 1060 1262.8 1062.6 1263.1 1065.7 1263.4 1066.9 1263.7 1065 1264 1066.6 1264.3 1067 1264.6 1064.9 1264.9 1063.8 1265.2 1062 1265.5 1061.3 1265.8 1063.7 1266.1 1062.1 1266.4 1060.6 1266.7 1063 1267 1059.1 1267.3 1062.8 1267.6 1062.7 1267.9 1064.6 1268.2 1063 1268.5 1066.9 1268.8 1062.6 1269.1 1064.7 1269.4 1062.5 1269.7 1065.7 1270 1060.8 1270.3 1064.6 1270.6 1064.6 1270.9 1058.9 1271.2 1062.3 1271.5 1065.2 1271.8 1059.4 1272.1 1061.2 1272.4 1062.6 1272.7 1062.2 1273 1066.5 1273.3 1062.2 1273.6 1061.2 1273.9 1061.8 1274.2 1063.4 1274.5 1058.3 1274.8 1058.8 1275.1 1060.4 1275.4 1066.6 1275.7 1064.2 1276 1063.2 1276.3 1069.3 1276.6 1066.7 1276.9 1062.2 1277.2 1061.8 1277.5 1069.7 1277.8 1063.2 1278.1 1062.3 1278.4 1060.8 1278.7 1066.2 1279 1058.3 1279.3 1066 1279.6 1062 1279.9 1064.8 1280.2 1059.9 1280.5 1062.2 1280.8 1063 1281.1 1058.2 1281.4 1062.3 1281.7 1062.1 1282 1065.4 1282.3 1060.3 1282.6 1060 1282.9 1063.4 1283.2 1062.5 1283.5 1064.3 1283.8 1064 1284.1 1061.5 1284.4 1065.2 1284.7 1063.5 1285 1061.9 1285.3 1060.3 1285.6 1062.6 1285.9 1058.5 1286.2 1063 1286.5 1063.8 1286.8 1065.9 1287.1 1065.9 1287.4 1059.6 1287.7 1062.4 1288 1062.9 1288.3 1065.3 1288.6 1065.3 1288.9 1059.5 1289.2 1063.2 1289.5 1064.6 1289.8 1061.7 1290.1 1064.1 1290.4 1064.3 1290.7 1059.3 1291 1062.7 1291.3 1063.1 1291.6 1065.8 1291.9 1062.1 1292.2 1064.8 1292.5 1068.1 1292.8 1061.7 1293.1 1063 1293.4 1061.9 1293.7 1061.4 1294 1067.3 1294.3 1062 1294.6 1066.9 1294.9 1062.5 1295.2 1066.8 1295.5 1063.7 1295.8 1067.7 1296.1 1061.9 1296.4 1060.8 1296.7 1069.2 1297 1064.2 1297.3 1061.5 1297.6 1059.1 1297.9 1067 1298.2 1063.4 1298.5 1063.7 1298.8 1062.6 1299.1 1060.2 1299.4 1063.4 1299.7 1063.6 1300 1061.7 1300.3 1064.9 1300.6 1065.2 1300.9 1061.2 1301.2 1063.4 1301.5 1062.9 1301.8 1063.6 1302.1 1066.7 1302.4 1055.6 1302.7 1060.9 1303 1064.1 1303.3 1065.4 1303.6 1052.7 1303.9 1063.4 1304.2 1065.6 1304.5 1062.4 1304.8 1063.6 1305.1 1062.1 1305.4 1061 1305.7 1061.6 1306 1057.2 1306.3 1065.7 1306.6 1064.6 1306.9 1063.8 1307.2 1062.4 1307.5 1065.8 1307.8 1062.5 1308.1 1060.3 1308.4 1061.3 1308.7 1058.7 1309 1062.6 1309.3 1061.3 1309.6 1063.1 1309.9 1060.8 1310.2 1065 1310.5 1062.1 1310.8 1068 1311.1 1066.2 1311.4 1064 1311.7 1063.3 1312 1063.7 1312.3 1064.2 1312.6 1060.6 1312.9 1063.6 1313.2 1061.8 1313.5 1066.2 1313.8 1063.7 1314.1 1064.4 1314.4 1064.5 1314.7 1066 1315 1059.5 1315.3 1062.2 1315.6 1065.9 1315.9 1067.2 1316.2 1065.4 1316.5 1066.4 1316.8 1064.3 1317.1 1053.8 1317.4 1065.3 1317.7 1059.7 1318 1063.1 1318.3 1060.6 1318.6 1064.7 1318.9 1059.8 1319.2 1064.1 1319.5 1059 1319.8 1059.8 1320.1 1058.5 1320.4 1061.7 1320.7 1064.1 1321 1055.6 1321.3 1059.4 1321.6 1057.4 1321.9 1064.6 1322.2 1061.9 1322.5 1062.3 1322.8 1063.7 1323.1 1062.8 1323.4 1059.8 1323.7 1062.2 1324 1062.4 1324.3 1057.2 1324.6 1060.4 1324.9 1057.3 1325.2 1064.5 1325.5 1063.7 1325.8 1070.9 1326.1 1068.1 1326.4 1061.8 1326.7 1062.5 1327 1061.4 1327.3 1058.1 1327.6 1060.5 1327.9 1059.2 1328.2 1059.3 1328.5 1054.3 1328.8 1054 1329.1 1062.1 1329.4 1054.1 1329.7 1055.8 1330 1056.3 1330.3 1056.1 1330.6 1049.7 1330.9 1058.3 1331.2 1048.9 1331.5 1046.1 1331.8 1044.5 1332.1 1039.2 1332.4 1027 1332.7 1008.8 1333 989.6 1333.3 964.4 1333.6 930.1 1333.9 899.9 1334.2 878 1334.5 864.5 1334.8 875.1 1335.1 897.8 1335.4 928.7 1335.7 956.7 1336 988.7 1336.3 1012.3 1336.6 1023.7 1336.9 1033.4 1337.2 1040.6 1337.5 1046.7 1337.8 1057.3 1338.1 1050.7 1338.4 1056.9 1338.7 1055.1 1339 1058.4 1339.3 1056.7 1339.6 1057.8 1339.9 1061.5 1340.2 1059.9 1340.5 1057.8 1340.8 1059.6 1341.1 1060 1341.4 1056.7 1341.7 1063.7 1342 1060.3 1342.3 1061.4 1342.6 1060.4 1342.9 1055.2 1343.2 1057.4 1343.5 1060.8 1343.8 1063 1344.1 1060 1344.4 1062.7 1344.7 1063.2 1345 1064.2 1345.3 1066.4 1345.6 1060.3 1345.9 1060 1346.2 1060.1 1346.5 1058.9 1346.8 1061.2 1347.1 1062.3 1347.4 1063.2 1347.7 1064.2 1348 1063.4 1348.3 1066.7 1348.6 1065.9 1348.9 1062.9 1349.2 1066.4 1349.5 1062.9 1349.8 1060 1350.1 1062.8 1350.4 1062.2 1350.7 1061.8 1351 1060.9 1351.3 1062.9 1351.6 1062 1351.9 1064.1 1352.2 1063.3 1352.5 1066 1352.8 1059.4 1353.1 1065.7 1353.4 1072.1 1353.7 1061 1354 1062.1 1354.3 1061.6 1354.6 1066.3 1354.9 1061.4 1355.2 1057.1 1355.5 1058.7 1355.8 1064.4 1356.1 1063.6 1356.4 1066.9 1356.7 1061.8 1357 1064.5 1357.3 1065.9 1357.6 1061.9 1357.9 1061.2 1358.2 1062.3 1358.5 1063.1 1358.8 1062.7 1359.1 1060.9 1359.4 1060.9 1359.7 1060.9 1360 1066 1360.3 1063.1 1360.6 1064.8 1360.9 1062.5 1361.2 1064.7 1361.5 1066.4 1361.8 1060.5 1362.1 1063.2 1362.4 1062.4 1362.7 1056.4 1363 1064.6 1363.3 1066.9 1363.6 1059.6 1363.9 1061.9 1364.2 1067.4 1364.5 1060.3 1364.8 1062.7 1365.1 1064 1365.4 1063.5 1365.7 1066.7 1366 1057.9 1366.3 1060.3 1366.6 1061.2 1366.9 1064.7 1367.2 1059.4 1367.5 1064.3 1367.8 1059.8 1368.1 1063 1368.4 1064.9 1368.7 1052.5 1369 1064.5 1369.3 1061.3 1369.6 1062.3 1369.9 1059.9 1370.2 1062.4 1370.5 1063.4 1370.8 1062.7 1371.1 1064.3 1371.4 1060.3 1371.7 1061.6 1372 1063.2 1372.3 1054.3 1372.6 1072.5 1372.9 1061.9 1373.2 1059.7 1373.5 1066.1 1373.8 1063.4 1374.1 1064.2 1374.4 1061.7 1374.7 1062.1 1375 1062.1 1375.3 1060.1 1375.6 1063 1375.9 1062.4 1376.2 1061 1376.5 1064.4 1376.8 1064 1377.1 1066.5 1377.4 1061 1377.7 1061.1 1378 1061 1378.3 1062.6 1378.6 1062.2 1378.9 1063.3 1379.2 1058.4 1379.5 1061.2 1379.8 1059.3 1380.1 1058.9 1380.4 1064.7 1380.7 1059.1 1381 1056.8 1381.3 1058.6 1381.6 1059.5 1381.9 1058.8 1382.2 1051.8 1382.5 1049 1382.8 1044.8 1383.1 1049.4 1383.4 1036.6 1383.7 1024.5 1384 1013.7 1384.3 1000.9 1384.6 986.9 1384.9 969.7 1385.2 959.5 1385.5 955.4 1385.8 957.4 1386.1 969.2 1386.4 982.1 1386.7 999.7 1387 1010.7 1387.3 1030.8 1387.6 1034.8 1387.9 1044.5 1388.2 1052.9 1388.5 1052.3 1388.8 1052.4 1389.1 1057.8 1389.4 1052.7 1389.7 1060.4 1390 1055.2 1390.3 1055.5 1390.6 1057.3 1390.9 1052.9 1391.2 1054.5 1391.5 1060 1391.8 1057.7 1392.1 1057.4 1392.4 1056.9 1392.7 1055.5 1393 1051.3 1393.3 1054.4 1393.6 1058.2 1393.9 1057.9 1394.2 1040 1394.5 1030 1394.8 1027.8 1395.1 1012.3 1395.4 1004.8 1395.7 988 1396 977.1 1396.3 960.7 1396.6 954.2 1396.9 955.9 1397.2 961.7 1397.5 981.1 1397.8 990.7 1398.1 1006.7 1398.4 1020.6 1398.7 1036 1399 1041.1 1399.3 1045.9 1399.6 1053.5 1399.9 1053.5 1400.2 1053.2 1400.5 1056.4 1400.8 1055.4 1401.1 1055.7 1401.4 1057.9 1401.7 1059.2 1402 1061.3 1402.3 1059.3 1402.6 1059.8 1402.9 1060.5 1403.2 1060.4 1403.5 1059.2 1403.8 1061.4 1404.1 1064.5 1404.4 1057.7 1404.7 1060.4 1405 1068.7 1405.3 1063.2 1405.6 1060.8 1405.9 1060.2 1406.2 1062.6 1406.5 1064.4 1406.8 1063.2 1407.1 1063.4 1407.4 1063.7 1407.7 1066 1408 1064.5 1408.3 1057.5 1408.6 1066.1 1408.9 1060.2 1409.2 1060.6 1409.5 1068.7 1409.8 1063.7 1410.1 1064.4 1410.4 1060.1 1410.7 1062.4 1411 1065.3 1411.3 1061.2 1411.6 1064.5 1411.9 1056.4 1412.2 1052.5 1412.5 1061.7 1412.8 1068.6 1413.1 1067.5 1413.4 1063.5 1413.7 1062.3 1414 1065.1 1414.3 1064.1 1414.6 1059.9 1414.9 1066.7 1415.2 1061.1 1415.5 1054.8 1415.8 1063.2 1416.1 1062.8 1416.4 1062.7 1416.7 1066.1 1417 1060.5 1417.3 1065 1417.6 1057.2 1417.9 1064.1 1418.2 1061.2 1418.5 1065 1418.8 1057.1 1419.1 1061.6 1419.4 1061.3 1419.7 1059.4 1420 1064.2 1420.3 1057.5 1420.6 1065.2 1420.9 1065.8 1421.2 1067.1 1421.5 1057.3 1421.8 1064.4 1422.1 1063.8 1422.4 1062.3 1422.7 1062.5 1423 1062.8 1423.3 1055.2 1423.6 1063.7 1423.9 1062.7 1424.2 1064 1424.5 1066.2 1424.8 1067.2 1425.1 1064.5 1425.4 1063.9 1425.7 1062.4 1426 1061.8 1426.3 1062.1 1426.6 1063 1426.9 1067.3 1427.2 1065.4 1427.5 1063.9 1427.8 1061.3 1428.1 1056.7 1428.4 1063.8 1428.7 1062.5 1429 1060.8 1429.3 1059.8 1429.6 1064.2 1429.9 1065 1430.2 1064.4 1430.5 1062.4 1430.8 1066.5 1431.1 1058.1 1431.4 1062.4 1431.7 1061.7 1432 1064.1 1432.3 1065.8 1432.6 1063.6 1432.9 1058.5 1433.2 1065.6 1433.5 1062 1433.8 1064 1434.1 1061.4 1434.4 1065.3 1434.7 1065.1 1435 1061.2 1435.3 1062.6 1435.6 1061.9 1435.9 1058.8 1436.2 1058.9 1436.5 1060 1436.8 1062.6 1437.1 1060.9 1437.4 1064.6 1437.7 1061.5 1438 1063.8 1438.3 1064.8 1438.6 1055.2 1438.9 1053.7 1439.2 1060.7 1439.5 1062.1 1439.8 1062.7 1440.1 1061.4 1440.4 1063.8 1440.7 1062.3 1441 1065.8 1441.3 1063.7 1441.6 1059.5 1441.9 1060.9 1442.2 1064.4 1442.5 1060.9 1442.8 1059.3 1443.1 1069.9 1443.4 1063.3 1443.7 1065 1444 1062.2 1444.3 1063.4 1444.6 1058.6 1444.9 1061.2 1445.2 1063.1 1445.5 1061.9 1445.8 1065.8 1446.1 1061.8 1446.4 1067.2 1446.7 1065.6 1447 1067.1 1447.3 1062.8 1447.6 1063.2 1447.9 1067.2 1448.2 1067.1 1448.5 1063.3 1448.8 1060.7 1449.1 1061.1 1449.4 1062.2 1449.7 1057.8 1450 1064.1 1450.3 1067.5 1450.6 1061.2 1450.9 1063.2 1451.2 1062.4 1451.5 1065.9 1451.8 1064.8 1452.1 1060.1 1452.4 1060.3 1452.7 1061.1 1453 1063.2 1453.3 1063.1 1453.6 1063 1453.9 1064.2 1454.2 1061.9 1454.5 1061 1454.8 1062.4 1455.1 1063.2 1455.4 1061.5 1455.7 1059 1456 1058.6 1456.3 1053.8 1456.6 1053.6 1456.9 1052.6 1457.2 1052 1457.5 1048 1457.8 1045.1 1458.1 1044.5 1458.4 1051.8 1458.7 1046.3 1459 1050.6 1459.3 1049.3 1459.6 1054.1 1459.9 1054.7 1460.2 1055.5 1460.5 1048.8 1460.8 1052.7 1461.1 1048.9 1461.4 1043.3 1461.7 1036 1462 1028.2 1462.3 1027.7 1462.6 1009.5 1462.9 1002.3 1463.2 994.6 1463.5 999.1 1463.8 995.5 1464.1 998 1464.4 1009.3 1464.7 1017.3 1465 1028.3 1465.3 1032.6 1465.6 1041 1465.9 1043.9 1466.2 1047.9 1466.5 1055.5 1466.8 1065.3 1467.1 1058.4 1467.4 1056.7 1467.7 1058.9 1468 1061.4 1468.3 1064.6 1468.6 1062.1 1468.9 1056.2 1469.2 1061.2 1469.5 1061.9 1469.8 1059 1470.1 1058.3 1470.4 1061.5 1470.7 1059.8 1471 1061.7 1471.3 1058.5 1471.6 1060.2 1471.9 1060.8 1472.2 1068.4 1472.5 1065.4 1472.8 1052.3 1473.1 1062.1 1473.4 1064.5 1473.7 1063.7 1474 1060.8 1474.3 1062.2 1474.6 1061 1474.9 1065.2 1475.2 1060.3 1475.5 1062.8 1475.8 1061.2 1476.1 1061.9 1476.4 1069.1 1476.7 1061.1 1477 1060.5 1477.3 1062 1477.6 1060.7 1477.9 1065.6 1478.2 1072.2 1478.5 1063.6 1478.8 1065.4 1479.1 1061.7 1479.4 1061.1 1479.7 1061.7 1480 1053.5 1480.3 1060.8 1480.6 1070.3 1480.9 1065.5 1481.2 1060.4 1481.5 1064.6 1481.8 1065.7 1482.1 1063 1482.4 1060.4 1482.7 1067.7 1483 1062 1483.3 1057.1 1483.6 1065.4 1483.9 1070.3 1484.2 1065 1484.5 1061.3 1484.8 1061.1 1485.1 1060.9 1485.4 1064.4 1485.7 1066 1486 1059.9 1486.3 1060.6 1486.6 1058 1486.9 1064.3 1487.2 1061.6 1487.5 1066.2 1487.8 1061.8 1488.1 1062.1 1488.4 1064.2 1488.7 1062.1 1489 1065.8 1489.3 1063.5 1489.6 1062 1489.9 1061.7 1490.2 1060.7 1490.5 1060.5 1490.8 1060.6 1491.1 1061.8 1491.4 1065.3 1491.7 1061.9 1492 1067.1 1492.3 1061.8 1492.6 1062.7 1492.9 1065.2 1493.2 1066.9 1493.5 1064.9 1493.8 1063.8 1494.1 1061.7 1494.4 1064.8 1494.7 1065.1 1495 1068.1 1495.3 1068.9 1495.6 1058.3 1495.9 1061.1 1496.2 1063.6 1496.5 1068.5 1496.8 1072.8 1497.1 1063.5 1497.4 1059.3 1497.7 1061.7 1498 1063.7 1498.3 1063.5 1498.6 1069.8 1498.9 1059.9 1499.2 1064.3 1499.5 1058.8 1499.8 1060.3 1500.1 1062.6 1500.4 1064.2 1500.7 1060.2 1501 1061.9 1501.3 1055.2 1501.6 1064.1 1501.9 1066.1 1502.2 1061.2 1502.5 1064.9 1502.8 1062.7 1503.1 1065.1 1503.4 1061.7 1503.7 1060.2 1504 1064 1504.3 1060.7 1504.6 1063.4 1504.9 1066.3 1505.2 1064.7 1505.5 1064.2 1505.8 1062.4 1506.1 1061.7 1506.4 1058 1506.7 1062.3 1507 1068.8 1507.3 1066 1507.6 1064.7 1507.9 1060.1 1508.2 1058.7 1508.5 1065.6 1508.8 1063 1509.1 1063.1 1509.4 1062.3 1509.7 1063.7 1510 1064.5 1510.3 1065.4 1510.6 1062.5 1510.9 1061.1 1511.2 1058.9 1511.5 1063.2 1511.8 1062 1512.1 1060.8 1512.4 1060.9 1512.7 1057.7 1513 1061.9 1513.3 1059.5 1513.6 1067.2 1513.9 1059.6 1514.2 1057.5 1514.5 1059.5 1514.8 1056.6 1515.1 1060.4 1515.4 1053.8 1515.7 1048.1 1516 1050.7 1516.3 1048.5 1516.6 1040.6 1516.9 1033.7 1517.2 1034.3 1517.5 1037.5 1517.8 1034.9 1518.1 1040.2 1518.4 1046.1 1518.7 1049.3 1519 1050.6 1519.3 1047.7 1519.6 1053.9 1519.9 1057.1 1520.2 1066.4 1520.5 1063.4 1520.8 1061.4 1521.1 1063.7 1521.4 1060.7 1521.7 1058.6 1522 1062.5 1522.3 1060 1522.6 1058.7 1522.9 1053.9 1523.2 1062.6 1523.5 1060.1 1523.8 1057.6 1524.1 1060.8 1524.4 1056 1524.7 1059.8 1525 1060.4 1525.3 1060.6 1525.6 1060.9 1525.9 1058.5 1526.2 1060.4 1526.5 1056.2 1526.8 1057.6 1527.1 1059.9 1527.4 1063.2 1527.7 1054.9 1528 1053.3 1528.3 1058.6 1528.6 1054.6 1528.9 1049 1529.2 1051.5 1529.5 1041 1529.8 1035 1530.1 1033.9 1530.4 1028.7 1530.7 1030.4 1531 1035.7 1531.3 1037.3 1531.6 1041 1531.9 1053.7 1532.2 1047.5 1532.5 1051.1 1532.8 1054.8 1533.1 1054.6 1533.4 1060.8 1533.7 1059.3 1534 1060.8 1534.3 1064.6 1534.6 1064.9 1534.9 1061.9 1535.2 1062.1 1535.5 1062.3 1535.8 1064 1536.1 1062.8 1536.4 1061.3 1536.7 1062.3 1537 1061.5 1537.3 1064.7 1537.6 1061.4 1537.9 1061.8 1538.2 1061.3 1538.5 1059.5 1538.8 1062.3 1539.1 1062.7 1539.4 1061.3 1539.7 1062.4 1540 1065.9 1540.3 1065.6 1540.6 1059.9 1540.9 1065.3 1541.2 1068.3 1541.5 1064.6 1541.8 1056.8 1542.1 1061.5 1542.4 1063.4 1542.7 1065.3 1543 1060.1 1543.3 1060.3 1543.6 1064.7 1543.9 1061.3 1544.2 1061.7 1544.5 1060.2 1544.8 1057.7 1545.1 1070.5 1545.4 1061.7 1545.7 1062.6 1546 1060.8 1546.3 1062.3 1546.6 1063 1546.9 1061.6 1547.2 1060.5 1547.5 1060.3 1547.8 1058.9 1548.1 1068.3 1548.4 1065.2 1548.7 1060.6 1549 1065.4 1549.3 1061.1 1549.6 1058.2 1549.9 1060.8 1550.2 1062.6 1550.5 1063.6 1550.8 1067.5 1551.1 1062.5 1551.4 1064.8 1551.7 1066.8 1552 1062.1 1552.3 1061.3 1552.6 1059.6 1552.9 1057.9 1553.2 1062.4 1553.5 1062.2 1553.8 1064.4 1554.1 1059.3 1554.4 1060.4 1554.7 1059.7 1555 1061.7 1555.3 1064 1555.6 1062.7 1555.9 1060.2 1556.2 1059.8 1556.5 1065 1556.8 1060.9 1557.1 1062.8 1557.4 1056.9 1557.7 1064.2 1558 1061.2 1558.3 1062 1558.6 1061 1558.9 1062.6 1559.2 1064.5 1559.5 1063.9 1559.8 1062.8 1560.1 1057.1 1560.4 1064.7 1560.7 1062.1 1561 1060.7 1561.3 1066.3 1561.6 1064.7 1561.9 1063.4 1562.2 1066.5 1562.5 1065.9 1562.8 1064.5 1563.1 1060.6 1563.4 1060.3 1563.7 1062.2 1564 1059.9 1564.3 1063.5 1564.6 1060.2 1564.9 1061.7 1565.2 1060.6 1565.5 1060.9 1565.8 1060.5 1566.1 1059.5 1566.4 1066.5 1566.7 1062.1 1567 1069.7 1567.3 1061.3 1567.6 1059 1567.9 1055.5 1568.2 1059.7 1568.5 1060.7 1568.8 1055.1 1569.1 1058.7 1569.4 1059.5 1569.7 1056.8 1570 1049.5 1570.3 1048.8 1570.6 1044.6 1570.9 1038.1 1571.2 1031.8 1571.5 1025.3 1571.8 1023.3 1572.1 1023.7 1572.4 1019.7 1572.7 1025.7 1573 1028.5 1573.3 1035.1 1573.6 1033.4 1573.9 1045.5 1574.2 1048.7 1574.5 1054.7 1574.8 1054.5 1575.1 1057.7 1575.4 1058.3 1575.7 1057.9 1576 1057.3 1576.3 1063.8 1576.6 1061.1 1576.9 1056.8 1577.2 1061.6 1577.5 1063.7 1577.8 1060.3 1578.1 1065 1578.4 1058.4 1578.7 1060.7 1579 1055.2 1579.3 1058 1579.6 1052.8 1579.9 1054 1580.2 1054.9 1580.5 1053.8 1580.8 1053.2 1581.1 1048.6 1581.4 1054.2 1581.7 1055.9 1582 1054.4 1582.3 1056.7 1582.6 1057.9 1582.9 1064 1583.2 1059.5 1583.5 1059.8 1583.8 1063.6 1584.1 1057.3 1584.4 1065.2 1584.7 1065.4 1585 1063.1 1585.3 1057.9 1585.6 1065.1 1585.9 1064.3 1586.2 1062.5 1586.5 1063 1586.8 1067.4 1587.1 1061.9 1587.4 1059 1587.7 1062.7 1588 1063.1 1588.3 1066 1588.6 1064.7 1588.9 1061.3 1589.2 1063.4 1589.5 1060.7 1589.8 1066.9 1590.1 1061.5 1590.4 1061.5 1590.7 1064.4 1591 1056.2 1591.3 1063.3 1591.6 1063.8 1591.9 1064.6 1592.2 1065.5 1592.5 1067.8 1592.8 1062.4 1593.1 1059.7 1593.4 1064.9 1593.7 1064.7 1594 1060.2 1594.3 1063.4 1594.6 1066.2 1594.9 1061.8 1595.2 1063.3 1595.5 1067.3 1595.8 1064.4 1596.1 1064.9 1596.4 1063.2 1596.7 1063.2 1597 1062.6 1597.3 1062.4 1597.6 1063.6 1597.9 1064.9 1598.2 1062.7 1598.5 1070.1 1598.8 1062.5 1599.1 1064.1 1599.4 1064.6 1599.7 1066.6 1600 1059.7 1600.3 1061.6 1600.6 1060.3 1600.9 1061.2 1601.2 1064.1 1601.5 1060.3 1601.8 1063.3 1602.1 1064.2 1602.4 1062.2 1602.7 1065.2 1603 1061.1 1603.3 1061.2 1603.6 1062.3 1603.9 1064.5 1604.2 1057.9 1604.5 1062.4 1604.8 1063.8 1605.1 1065.7 1605.4 1062.7 1605.7 1058.3 1606 1064 1606.3 1062.3 1606.6 1061.1 1606.9 1065.2 1607.2 1067.5 1607.5 1059.4 1607.8 1063.2 1608.1 1069.4 1608.4 1061.6 1608.7 1065.8 1609 1067.8 1609.3 1064.1 1609.6 1060.5 1609.9 1064.4 1610.2 1064.9 1610.5 1064.3 1610.8 1059.8 1611.1 1059.7 1611.4 1059 1611.7 1060.5 1612 1065 1612.3 1061.9 1612.6 1063.9 1612.9 1061.8 1613.2 1066.6 1613.5 1066.2 1613.8 1064.9 1614.1 1064.4 1614.4 1064 1614.7 1063.7 1615 1057.3 1615.3 1059.4 1615.6 1060.3 1615.9 1065.5 1616.2 1065 1616.5 1063 1616.8 1055.2 1617.1 1063.2 1617.4 1061.5 1617.7 1059.5 1618 1065.5 1618.3 1062.2 1618.6 1064.9 1618.9 1055.7 1619.2 1063 1619.5 1063.6 1619.8 1064.3 1620.1 1062 1620.4 1063.2 1620.7 1063.8 1621 1062.9 1621.3 1061.1 1621.6 1064.7 1621.9 1066.9 1622.2 1065.9 1622.5 1063.5 1622.8 1064.4 1623.1 1062.6 1623.4 1066 1623.7 1063 1624 1061.1 1624.3 1062.8 1624.6 1060.5 1624.9 1062.6 1625.2 1056.6 1625.5 1060.8 1625.8 1063.3 1626.1 1063.3 1626.4 1065.4 1626.7 1062 1627 1062.5 1627.3 1069.7 1627.6 1063.8 1627.9 1053.2 1628.2 1072.4 1628.5 1062.2 1628.8 1062.6 1629.1 1061.7 1629.4 1058.2 1629.7 1063.1 1630 1059.8 1630.3 1066.8 1630.6 1062 1630.9 1064.6 1631.2 1062.7 1631.5 1062.3 1631.8 1061.1 1632.1 1058.4 1632.4 1060.7 1632.7 1061.8 1633 1059.4 1633.3 1065.5 1633.6 1061.6 1633.9 1062 1634.2 1071.1 1634.5 1058.8 1634.8 1060.8 1635.1 1064.2 1635.4 1061.4 1635.7 1063.8 1636 1061.1 1636.3 1061.8 1636.6 1063.3 1636.9 1057.2 1637.2 1058.8 1637.5 1063.2 1637.8 1054.3 1638.1 1062 1638.4 1053 1638.7 1051.5 1639 1045.6 1639.3 1049.6 1639.6 1042.7 1639.9 1046.1 1640.2 1045.3 1640.5 1044.6 1640.8 1045.7 1641.1 1049.2 1641.4 1048.7 1641.7 1050.2 1642 1050.9 1642.3 1051.3 1642.6 1051.7 1642.9 1053.3 1643.2 1057.4 1643.5 1053.8 1643.8 1055.6 1644.1 1057 1644.4 1058.1 1644.7 1059.2 1645 1057.5 1645.3 1061.1 1645.6 1059.9 1645.9 1062.4 1646.2 1064.6 1646.5 1057.2 1646.8 1062.3 1647.1 1056.9 1647.4 1061 1647.7 1058.9 1648 1061.8 1648.3 1062 1648.6 1063.7 1648.9 1062.3 1649.2 1062.7 1649.5 1062.9 1649.8 1060.2 1650.1 1061.8 1650.4 1067.4 1650.7 1063.5 1651 1056.9 1651.3 1060.2 1651.6 1063.6 1651.9 1065.3 1652.2 1062.1 1652.5 1064.1 1652.8 1066.3 1653.1 1063.1 1653.4 1057.8 1653.7 1062.7 1654 1061.8 1654.3 1066.1 1654.6 1058.3 1654.9 1058.8 1655.2 1064.5 1655.5 1065.1 1655.8 1062.7 1656.1 1072.4 1656.4 1063.1 1656.7 1061.6 1657 1058.5 1657.3 1061.2 1657.6 1062.9 1657.9 1070.7 1658.2 1068.2 1658.5 1066.7 1658.8 1062.7 1659.1 1060.4 1659.4 1064.5 1659.7 1068 1660 1065.4 1660.3 1063.4 1660.6 1060.4 1660.9 1060.5 1661.2 1063.8 1661.5 1062.8 1661.8 1064.8 1662.1 1061.1 1662.4 1056.8 1662.7 1064.4 1663 1062.1 1663.3 1067.7 1663.6 1064.4 1663.9 1058.5 1664.2 1059.3 1664.5 1061.8 1664.8 1063.2 1665.1 1063.5 1665.4 1063.1 1665.7 1058.3 1666 1063.1 1666.3 1063.4 1666.6 1057.3 1666.9 1063.4 1667.2 1064.6 1667.5 1064.3 1667.8 1064.7 1668.1 1065.2 1668.4 1062.7 1668.7 1057.5 1669 1055.9 1669.3 1063.6 1669.6 1057.5 1669.9 1061.1 1670.2 1061.6 1670.5 1061.5 1670.8 1061.9 1671.1 1060.7 1671.4 1066.4 1671.7 1056 1672 1063.5 1672.3 1066.3 1672.6 1065 1672.9 1058.2 1673.2 1065.4 1673.5 1058.4 1673.8 1063.2 1674.1 1063.2 1674.4 1061.2 1674.7 1063.8 1675 1067.3 1675.3 1060.3 1675.6 1061.2 1675.9 1067.3 1676.2 1061.2 1676.5 1064.6 1676.8 1062.4 1677.1 1064.8 1677.4 1058 1677.7 1064 1678 1065.9 1678.3 1061.4 1678.6 1063.9 1678.9 1066 1679.2 1062.4 1679.5 1067.3 1679.8 1062.7 1680.1 1064.3 1680.4 1061.3 1680.7 1057.7 1681 1061.7 1681.3 1057.8 1681.6 1062.3 1681.9 1063.6 1682.2 1064.8 1682.5 1063.6 1682.8 1056.5 1683.1 1067.1 1683.4 1060.1 1683.7 1063.3 1684 1060.1 1684.3 1062.6 1684.6 1062.6 1684.9 1064.6 1685.2 1064.6 1685.5 1056.3 1685.8 1063.3 1686.1 1067.4 1686.4 1063.4 1686.7 1056.4 1687 1058.7 1687.3 1064.7 1687.6 1066.4 1687.9 1061.5 1688.2 1066.2 1688.5 1060.6 1688.8 1064.5 1689.1 1059.4 1689.4 1063.7 1689.7 1062.3 1690 1063.8 1690.3 1057.8 1690.6 1071.2 1690.9 1063.5 1691.2 1065.5 1691.5 1065.4 1691.8 1062.9 1692.1 1067.1 1692.4 1064.7 1692.7 1062.7 1693 1063.3 1693.3 1062 1693.6 1061.3 1693.9 1063.8 1694.2 1066.4 1694.5 1063.1 1694.8 1060.8 1695.1 1062.1 1695.4 1057.5 1695.7 1065.1 1696 1062.5 1696.3 1062.3 1696.6 1066.2 1696.9 1067.5 1697.2 1062.9 1697.5 1063.5 1697.8 1065.1 1698.1 1066 1698.4 1062.6 1698.7 1062 1699 1062.6 1699.3 1060.4 1699.6 1064.8 1699.9 1059.2 1700.2 1062.3" fill="none" stroke="#000" stroke-width="0.9" stroke-linejoin="round"/>
<text transform="translate(91.3,554.2) scale(0.8875,0.9643)" text-anchor="middle" font-family="Liberation Sans, sans-serif" font-weight="bold" font-size="40.0">10</text>
<text transform="translate(216.5,554.2) scale(0.8875,0.9643)" text-anchor="middle" font-family="Liberation Sans, sans-serif" font-weight="bold" font-size="40.0">20</text>
<text transform="translate(341.7,554.2) scale(0.8875,0.9643)" text-anchor="middle" font-family="Liberation Sans, sans-serif" font-weight="bold" font-size="40.0">30</text>
<text transform="translate(466.9,554.2) scale(0.8875,0.9643)" text-anchor="middle" font-family="Liberation Sans, sans-serif" font-weight="bold" font-size="40.0">40</text>
<text transform="translate(592.1,554.2) scale(0.8875,0.9643)" text-anchor="middle" font-family="Liberation Sans, sans-serif" font-weight="bold" font-size="40.0">50</text>
<text transform="translate(717.3,554.2) scale(0.8875,0.9643)" text-anchor="middle" font-family="Liberation Sans, sans-serif" font-weight="bold" font-size="40.0">60</text>
<text transform="translate(842.5,554.2) scale(0.8875,0.9643)" text-anchor="middle" font-family="Liberation Sans, sans-serif" font-weight="bold" font-size="40.0">70</text>
<text transform="translate(1018.6,554.2) scale(0.8875,0.9643)" text-anchor="middle" font-family="Liberation Sans, sans-serif" font-weight="bold" font-size="40.0">10</text>
<text transform="translate(1155.2,554.2) scale(0.8875,0.9643)" text-anchor="middle" font-family="Liberation Sans, sans-serif" font-weight="bold" font-size="40.0">20</text>
<text transform="translate(1291.8,554.2) scale(0.8875,0.9643)" text-anchor="middle" font-family="Liberation Sans, sans-serif" font-weight="bold" font-size="40.0">30</text>
<text transform="translate(1428.3,554.2) scale(0.8875,0.9643)" text-anchor="middle" font-family="Liberation Sans, sans-serif" font-weight="bold" font-size="40.0">40</text>
<text transform="translate(1564.9,554.2) scale(0.8875,0.9643)" text-anchor="middle" font-family="Liberation Sans, sans-serif" font-weight="bold" font-size="40.0">50</text>
<text transform="translate(1701.5,554.2) scale(0.8875,0.9643)" text-anchor="middle" font-family="Liberation Sans, sans-serif" font-weight="bold" font-size="40.0">60</text>
<text transform="translate(141.4,1142.0) scale(0.8875,0.9643)" text-anchor="middle" font-family="Liberation Sans, sans-serif" font-weight="bold" font-size="40.0">20</text>
<text transform="translate(241.6,1142.0) scale(0.8875,0.9643)" text-anchor="middle" font-family="Liberation Sans, sans-serif" font-weight="bold" font-size="40.0">30</text>
<text transform="translate(341.8,1142.0) scale(0.8875,0.9643)" text-anchor="middle" font-family="Liberation Sans, sans-serif" font-weight="bold" font-size="40.0">40</text>
<text transform="translate(442.0,1142.0) scale(0.8875,0.9643)" text-anchor="middle" font-family="Liberation Sans, sans-serif" font-weight="bold" font-size="40.0">50</text>
<text transform="translate(542.2,1142.0) scale(0.8875,0.9643)" text-anchor="middle" font-family="Liberation Sans, sans-serif" font-weight="bold" font-size="40.0">60</text>
<text transform="translate(642.4,1142.0) scale(0.8875,0.9643)" text-anchor="middle" font-family="Liberation Sans, sans-serif" font-weight="bold" font-size="40.0">70</text>
<text transform="translate(742.6,1142.0) scale(0.8875,0.9643)" text-anchor="middle" font-family="Liberation Sans, sans-serif" font-weight="bold" font-size="40.0">80</text>
<text transform="translate(842.8,1142.0) scale(0.8875,0.9643)" text-anchor="middle" font-family="Liberation Sans, sans-serif" font-weight="bold" font-size="40.0">90</text>
<text transform="translate(994.4,1142.0) scale(0.8875,0.9643)" text-anchor="middle" font-family="Liberation Sans, sans-serif" font-weight="bold" font-size="40.0">10</text>
<text transform="translate(1082.8,1142.0) scale(0.8875,0.9643)" text-anchor="middle" font-family="Liberation Sans, sans-serif" font-weight="bold" font-size="40.0">20</text>
<text transform="translate(1171.1,1142.0) scale(0.8875,0.9643)" text-anchor="middle" font-family="Liberation Sans, sans-serif" font-weight="bold" font-size="40.0">30</text>
<text transform="translate(1259.5,1142.0) scale(0.8875,0.9643)" text-anchor="middle" font-family="Liberation Sans, sans-serif" font-weight="bold" font-size="40.0">40</text>
<text transform="translate(1347.9,1142.0) scale(0.8875,0.9643)" text-anchor="middle" font-family="Liberation Sans, sans-serif" font-weight="bold" font-size="40.0">50</text>
<text transform="translate(1436.3,1142.0) scale(0.8875,0.9643)" text-anchor="middle" font-family="Liberation Sans, sans-serif" font-weight="bold" font-size="40.0">60</text>
<text transform="translate(1524.6,1142.0) scale(0.8875,0.9643)" text-anchor="middle" font-family="Liberation Sans, sans-serif" font-weight="bold" font-size="40.0">70</text>
<text transform="translate(1613.0,1142.0) scale(0.8875,0.9643)" text-anchor="middle" font-family="Liberation Sans, sans-serif" font-weight="bold" font-size="40.0">80</text>
<text transform="translate(1701.4,1142.0) scale(0.8875,0.9643)" text-anchor="middle" font-family="Liberation Sans, sans-serif" font-weight="bold" font-size="40.0">90</text>
<text transform="translate(1.17,38.32) scale(0.8667,0.9105)" font-family="Liberation Sans, sans-serif" font-weight="bold" font-size="40.0" fill="#000">(a)</text>
<text transform="translate(874.48,38.46) scale(0.9085,0.9421)" font-family="Liberation Sans, sans-serif" font-weight="bold" font-size="40.0" fill="#000">(b)</text>
<text transform="translate(-1.41,614.15) scale(0.8533,0.9184)" font-family="Liberation Sans, sans-serif" font-weight="bold" font-size="40.0" fill="#000">(c)</text>
<text transform="translate(876.35,618.21) scale(0.8766,0.8868)" font-family="Liberation Sans, sans-serif" font-weight="bold" font-size="40.0" fill="#000">(d)</text>
<text transform="translate(528.79,46.70) scale(0.8070,0.8913)" font-family="Liberation Sans, sans-serif" font-weight="bold" font-size="40.0" fill="#000">Candle soot CNPs</text>
<text transform="translate(1242.15,43.10) scale(0.8508,0.9384)" font-family="Liberation Sans, sans-serif" font-weight="bold" font-size="40.0" fill="#000">Poly vinylpyrrolidone (PVP)</text>
<text transform="translate(485.10,641.90) scale(0.8014,0.8804)" font-family="Liberation Sans, sans-serif" font-weight="bold" font-size="40.0" fill="#000">Titanuim dioxide (TiO<tspan dy="12.38">2</tspan><tspan dy="-12.38">)</tspan></text>
<text transform="translate(1321.77,637.40) scale(0.8162,0.8913)" font-family="Liberation Sans, sans-serif" font-weight="bold" font-size="40.0" fill="#000">CNPs: TiO<tspan dy="11.56">2</tspan><tspan dy="-11.56">: PVP (2:1:3)</tspan></text>
<text transform="translate(245.15,67.00) scale(0.8247,0.8857)" font-family="Liberation Sans, sans-serif" font-weight="bold" font-size="40.0" fill="#000">(002)</text>
<text transform="translate(479.64,386.70) scale(0.8303,0.8857)" font-family="Liberation Sans, sans-serif" font-weight="bold" font-size="40.0" fill="#000">(101)</text>
<text transform="translate(1058.43,62.70) scale(0.8360,0.8821)" font-family="Liberation Sans, sans-serif" font-weight="bold" font-size="40.0" fill="#000"><tspan font-weight="normal" font-size="32.8">(</tspan>11.88<tspan dy="-18" font-size="30">O</tspan><tspan dy="18" font-weight="normal" font-size="32.8">)</tspan></text>
<text transform="translate(1135.36,242.80) scale(0.8691,0.9536)" font-family="Liberation Sans, sans-serif" font-weight="bold" font-size="40.0" fill="#000"><tspan font-weight="normal" font-size="30.4">(</tspan>20.65<tspan dy="-16.4" font-size="29.4">O</tspan><tspan dy="16.4" font-weight="normal" font-size="30.4">)</tspan></text>
<text transform="translate(175.46,647.90) scale(0.8202,0.8964)" font-family="Liberation Sans, sans-serif" font-weight="bold" font-size="40.0" fill="#000">(101)</text>
<text transform="translate(1137.53,622.70) scale(0.8341,0.8893)" font-family="Liberation Sans, sans-serif" font-weight="bold" font-size="40.0" fill="#00ffff"><tspan font-weight="normal" font-size="32.8">(</tspan>002<tspan font-weight="normal" font-size="32.8">)</tspan></text>
<text transform="translate(1134.56,656.00) scale(0.8225,0.8714)" font-family="Liberation Sans, sans-serif" font-weight="bold" font-size="40.0" fill="#000">(101)</text>
<text transform="translate(961.97,629.10) scale(0.8129,0.9058)" font-family="Liberation Sans, sans-serif" font-weight="bold" font-size="40.0" fill="#ff0000">---PVP</text>
<text transform="translate(961.97,671.30) scale(0.8154,0.8841)" font-family="Liberation Sans, sans-serif" font-weight="bold" font-size="40.0" fill="#00ffff">---CNPs</text>
<text transform="translate(961.97,712.40) scale(0.8144,0.8949)" font-family="Liberation Sans, sans-serif" font-weight="bold" font-size="40.0" fill="#000">---TiO<tspan dy="10.17">2</tspan></text>
<text transform="translate(1021.50,1016.24) scale(0.8750,0.8681) rotate(-90)" font-family="Liberation Sans, sans-serif" font-weight="bold" font-size="40.0" fill="#ff0000">(11.42<tspan dy="-13.6" font-size="30">O</tspan><tspan dy="13.6">)</tspan></text>
<text transform="translate(36.60,399.35) scale(0.9457,0.9161) rotate(-90)" font-family="Liberation Sans, sans-serif" font-weight="bold" font-size="40.0" fill="#000">Intensity (a.u)</text>
<text transform="translate(36.60,986.14) scale(0.9457,0.9137) rotate(-90)" font-family="Liberation Sans, sans-serif" font-weight="bold" font-size="40.0" fill="#000">Intensity (a.u)</text>
<text transform="translate(315.00,1032.30) scale(0.8893,0.8494) rotate(-90)" font-family="Liberation Sans, sans-serif" font-weight="bold" font-size="40.0" fill="#000">(103)</text>
<text transform="translate(334.00,950.70) scale(0.8893,0.8494) rotate(-90)" font-family="Liberation Sans, sans-serif" font-weight="bold" font-size="40.0" fill="#000">(004)</text>
<text transform="translate(365.10,1034.48) scale(0.8893,0.8416) rotate(-90)" font-family="Liberation Sans, sans-serif" font-weight="bold" font-size="40.0" fill="#000">(102)</text>
<text transform="translate(440.60,915.22) scale(0.8893,0.8584) rotate(-90)" font-family="Liberation Sans, sans-serif" font-weight="bold" font-size="40.0" fill="#000">(200)</text>
<text transform="translate(486.70,987.20) scale(0.8893,0.8506) rotate(-90)" font-family="Liberation Sans, sans-serif" font-weight="bold" font-size="40.0" fill="#000">(105)</text>
<text transform="translate(519.60,987.24) scale(0.8893,0.8701) rotate(-90)" font-family="Liberation Sans, sans-serif" font-weight="bold" font-size="40.0" fill="#000">(211)</text>
<text transform="translate(579.80,1002.81) scale(0.8893,0.8573) rotate(-90)" font-family="Liberation Sans, sans-serif" font-weight="bold" font-size="40.0" fill="#000">(204)</text>
<text transform="translate(632.70,1040.14) scale(0.8893,0.8218) rotate(-90)" font-family="Liberation Sans, sans-serif" font-weight="bold" font-size="40.0" fill="#000">(116)</text>
<text transform="translate(669.60,1041.90) scale(0.8893,0.8494) rotate(-90)" font-family="Liberation Sans, sans-serif" font-weight="bold" font-size="40.0" fill="#000">(220)</text>
<text transform="translate(708.90,1033.10) scale(0.8893,0.8494) rotate(-90)" font-family="Liberation Sans, sans-serif" font-weight="bold" font-size="40.0" fill="#000">(215)</text>
<text transform="translate(785.20,1047.41) scale(0.8893,0.8573) rotate(-90)" font-family="Liberation Sans, sans-serif" font-weight="bold" font-size="40.0" fill="#000">(224)</text>
<text transform="translate(1230.60,1022.85) scale(0.8893,0.8753) rotate(-90)" font-family="Liberation Sans, sans-serif" font-weight="bold" font-size="40.0" fill="#000">(103)</text>
<text transform="translate(1253.70,893.05) scale(0.8893,0.8753) rotate(-90)" font-family="Liberation Sans, sans-serif" font-weight="bold" font-size="40.0" fill="#000">(004)</text>
<text transform="translate(1279.60,1012.75) scale(0.8893,0.8753) rotate(-90)" font-family="Liberation Sans, sans-serif" font-weight="bold" font-size="40.0" fill="#000">(102)</text>
<text transform="translate(1348.70,855.01) scale(0.8893,0.8562) rotate(-90)" font-family="Liberation Sans, sans-serif" font-weight="bold" font-size="40.0" fill="#000">(200)</text>
<text transform="translate(1392.30,945.70) scale(0.8893,0.8483) rotate(-90)" font-family="Liberation Sans, sans-serif" font-weight="bold" font-size="40.0" fill="#000">(105)</text>
<text transform="translate(1424.00,948.54) scale(0.8893,0.8713) rotate(-90)" font-family="Liberation Sans, sans-serif" font-weight="bold" font-size="40.0" fill="#000">(211)</text>
<text transform="translate(1473.90,982.71) scale(0.8893,0.8528) rotate(-90)" font-family="Liberation Sans, sans-serif" font-weight="bold" font-size="40.0" fill="#000">(204)</text>
<text transform="translate(1521.60,1010.94) scale(0.8893,0.8701) rotate(-90)" font-family="Liberation Sans, sans-serif" font-weight="bold" font-size="40.0" fill="#000">(116)</text>
<text transform="translate(1557.30,1016.53) scale(0.8893,0.8629) rotate(-90)" font-family="Liberation Sans, sans-serif" font-weight="bold" font-size="40.0" fill="#000">(220)</text>
<text transform="translate(1596.20,1013.13) scale(0.8893,0.8629) rotate(-90)" font-family="Liberation Sans, sans-serif" font-weight="bold" font-size="40.0" fill="#000">(215)</text>
<text transform="translate(1654.50,1037.11) scale(0.8893,0.8551) rotate(-90)" font-family="Liberation Sans, sans-serif" font-weight="bold" font-size="40.0" fill="#000">(224)</text>
<text x="376.4" y="1205.6" font-family="Liberation Sans, sans-serif" font-weight="bold" font-size="36.03" textLength="181.6" lengthAdjust="spacingAndGlyphs">2<tspan font-family="Liberation Serif, serif" font-weight="normal" font-size="36.03">θ</tspan> (degree)</text>
<text x="1237.6" y="1205.3" font-family="Liberation Sans, sans-serif" font-weight="bold" font-size="36.03" textLength="175.8" lengthAdjust="spacingAndGlyphs">2<tspan font-family="Liberation Serif, serif" font-weight="normal">θ</tspan> <tspan font-family="Liberation Serif, serif" font-weight="normal" font-size="28.83">(</tspan>degree<tspan font-family="Liberation Serif, serif" font-weight="normal" font-size="28.83">)</tspan></text></svg></body></html>
